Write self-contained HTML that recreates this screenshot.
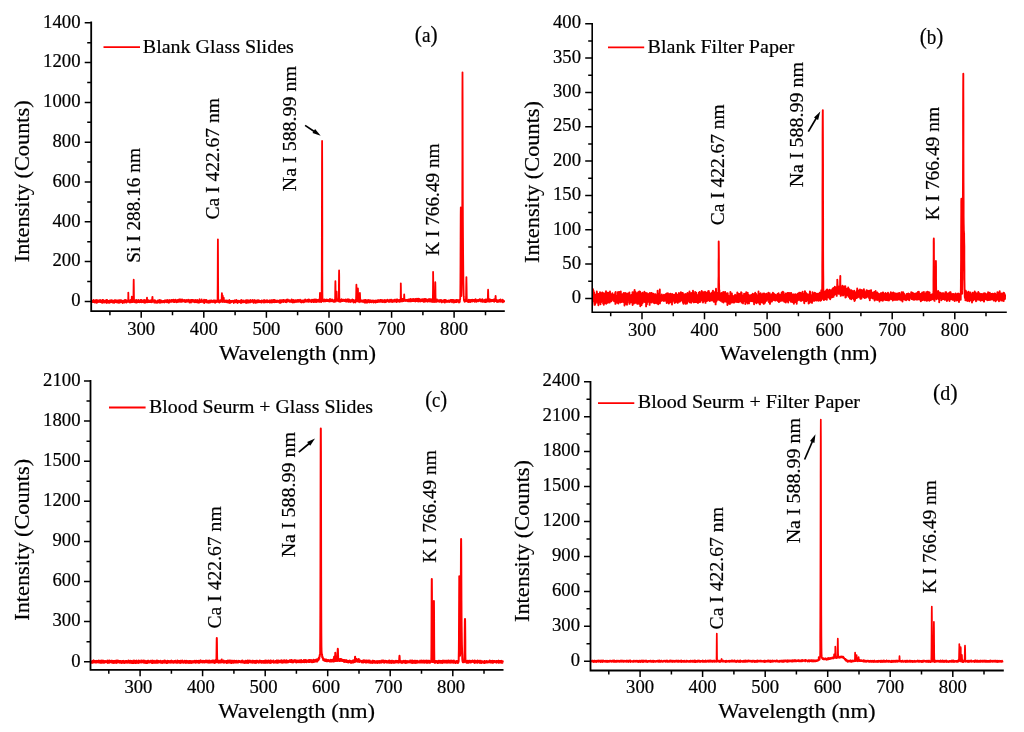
<!DOCTYPE html>
<html><head><meta charset="utf-8"><title>LIBS spectra</title>
<style>html,body{margin:0;padding:0;background:#fff;}svg{display:block;font-family:'Liberation Serif',serif;will-change:transform;}text{stroke:#000;stroke-width:0.2px;}</style>
</head><body>
<svg width="1024" height="732" viewBox="0 0 1024 732">
<rect width="1024" height="732" fill="#fff"/>
<g>
<polyline fill="none" stroke="#ff0000" stroke-width="1.8" stroke-linejoin="round" points="92,302.2 92.1,301.2 92.2,300.8 92.3,301.7 92.4,302.2 92.5,301.4 92.6,301.1 92.7,300.7 92.8,302.2 92.9,302.2 92.9,301 93,301.1 93.1,300.4 93.2,300.8 93.3,301.5 93.4,301.6 93.5,299.8 93.6,301.6 93.7,301.9 93.8,302.1 93.9,301.3 94,301.3 94.1,301.6 94.2,301.4 94.3,301.2 94.4,301 94.5,300.7 94.5,301.3 94.6,302.5 94.7,301 94.8,302.3 94.9,301.5 95,302.3 95.1,301.4 95.2,301.9 95.3,301.3 95.4,300.1 95.5,301.4 95.6,301.5 95.7,301.9 95.8,301.3 95.9,300.9 96,300.4 96,300.9 96.1,302.4 96.2,300.7 96.3,302.6 96.4,300.4 96.5,301.4 96.6,301.4 96.7,301 96.8,300 96.9,302.9 97,301.1 97.1,300.6 97.2,301 97.3,301.3 97.4,301.9 97.5,300.9 97.5,301.1 97.6,300.4 97.7,301.6 97.8,301 97.9,301.1 98,301.2 98.1,301.3 98.2,301.3 98.3,301.8 98.4,302 98.5,301.7 98.6,301 98.7,300.4 98.8,300.8 98.9,300.7 99,300.9 99.1,301 99.1,301.3 99.2,300.9 99.3,300.3 99.4,301.6 99.5,301.8 99.6,300.2 99.7,301.2 99.8,300.8 99.9,300.8 100,302.1 100.1,299.9 100.2,300.3 100.3,301.3 100.4,300.9 100.5,301.3 100.6,302 100.6,301.5 100.7,301.2 100.8,300.7 100.9,300.9 101,301.4 101.1,300.5 101.2,301.9 101.3,300.9 101.4,300.7 101.5,301.6 101.6,302.5 101.7,302 101.8,301.2 101.9,301.1 102,300.4 102.1,302 102.2,301.4 102.2,301 102.3,301.5 102.4,302.9 102.5,300.9 102.6,299.9 102.7,300.8 102.8,302 102.9,301.7 103,301.3 103.1,299.8 103.2,301 103.3,301.3 103.4,300.4 103.5,301.5 103.6,300.2 103.7,301.8 103.7,301.7 103.8,300.9 103.9,300.5 104,301 104.1,301.2 104.2,302.6 104.3,301.9 104.4,301.8 104.5,301.7 104.6,301 104.7,301.6 104.8,300.9 104.9,301.3 105,301.6 105.1,301.3 105.2,301.1 105.2,300.9 105.3,301.7 105.4,301.5 105.5,302.3 105.6,300.4 105.7,300.5 105.8,301.5 105.9,301.7 106,302.2 106.1,301.3 106.2,301.3 106.3,300 106.4,301.2 106.5,301.9 106.6,303 106.7,300.5 106.8,301.3 106.8,302.4 106.9,301.3 107,302.4 107.1,299.8 107.2,302.4 107.3,301.7 107.4,300.6 107.5,302 107.6,301.7 107.7,302.5 107.8,300.9 107.9,301.7 108,301.9 108.1,302.7 108.2,300.9 108.3,301.9 108.3,301.1 108.4,302.6 108.5,302.2 108.6,301.8 108.7,302 108.8,300.8 108.9,301.6 109,301.6 109.1,302.7 109.2,302.9 109.3,300.7 109.4,302.1 109.5,302.2 109.6,300.7 109.7,302 109.8,301.7 109.9,301.3 109.9,301.6 110,301.4 110.1,301.6 110.2,302 110.3,301.8 110.4,301.3 110.5,300.4 110.6,302.3 110.7,301.4 110.8,301 110.9,301.6 111,300.9 111.1,301.4 111.2,301.6 111.3,301.8 111.4,300.7 111.4,300.2 111.5,301.8 111.6,302 111.7,301 111.8,301.8 111.9,301.6 112,301.8 112.1,302.4 112.2,300.9 112.3,300.3 112.4,302.1 112.5,302 112.6,300.8 112.7,301.5 112.8,301.1 112.9,302.6 112.9,301.4 113,300.8 113.1,302.2 113.2,300.9 113.3,301.6 113.4,301.1 113.5,300.8 113.6,301.5 113.7,301 113.8,302.2 113.9,300.9 114,302 114.1,301.4 114.2,300.4 114.3,302.9 114.4,301.6 114.5,301.3 114.5,300.1 114.6,301.1 114.7,300.4 114.8,301.1 114.9,301.9 115,301.6 115.1,301.4 115.2,301.5 115.3,300.9 115.4,300.9 115.5,300.2 115.6,301.2 115.7,301.4 115.8,301.1 115.9,300.5 116,301.1 116,302.2 116.1,301.1 116.2,302 116.3,302.4 116.4,300.5 116.5,301.6 116.6,301.2 116.7,300.7 116.8,301.4 116.9,301.3 117,302.4 117.1,301.2 117.2,301.2 117.3,300.9 117.4,302 117.5,300.6 117.5,302.3 117.6,301.5 117.7,301.4 117.8,302 117.9,301 118,302.7 118.1,300.1 118.2,300.6 118.3,301.5 118.4,301.7 118.5,302.3 118.6,301.1 118.7,300.9 118.8,301.7 118.9,302.6 119,301.9 119.1,301 119.1,302.9 119.2,302.3 119.3,301.2 119.4,301.1 119.5,300.4 119.6,301 119.7,302.2 119.8,301.5 119.9,301.8 120,300 120.1,302.5 120.2,300.6 120.3,301.5 120.4,301.3 120.5,301.9 120.6,300.3 120.6,302.1 120.7,301.6 120.8,301.2 120.9,302.2 121,301.1 121.1,301.3 121.2,302.1 121.3,300.3 121.4,301.2 121.5,300.3 121.6,301 121.7,301.1 121.8,300.9 121.9,301.3 122,301.7 122.1,300.9 122.2,300.8 122.2,301.6 122.3,302.6 122.4,302 122.5,302.8 122.6,303 122.7,301.3 122.8,301 122.9,301.2 123,301.9 123.1,301.5 123.2,301.5 123.3,302.3 123.4,302.6 123.5,301.6 123.6,301.9 123.7,301.6 123.7,302.3 123.8,300.6 123.9,301 124,301.7 124.1,300.4 124.2,302.7 124.3,302.2 124.4,301.5 124.5,301.2 124.6,300.6 124.7,302.3 124.8,301.4 124.9,299.9 125,301.1 125.1,302.3 125.2,300.7 125.2,302.1 125.3,301.7 125.4,301.5 125.5,301.6 125.6,302 125.7,301.6 125.8,300 125.9,301.8 126,301.5 126.1,300.7 126.2,300.9 126.3,300.9 126.4,300.9 126.5,302.7 126.6,302 126.7,301.3 126.8,301.1 126.8,300.6 126.9,301.1 127,301.6 127.1,301.4 127.2,301.5 127.3,301.2 127.4,301 127.5,301.6 127.6,301.9 127.7,301.9 127.8,300.7 127.9,300.6 128,300.8 128.1,300.7 128.2,299.3 128.3,295.9 128.3,292.6 128.4,296.5 128.5,299.9 128.6,301.7 128.7,300.9 128.8,301.8 128.9,301.5 129,301.1 129.1,300.5 129.2,301.9 129.3,302 129.4,300.9 129.5,302.1 129.6,301.1 129.7,301.8 129.8,301.5 129.9,302.6 129.9,300.9 130,301.7 130.1,302 130.2,300.1 130.3,300.9 130.4,300.1 130.5,301.1 130.6,301 130.7,301.5 130.8,301.9 130.9,300.4 131,300.7 131.1,302.4 131.2,300.9 131.3,300.9 131.4,300.9 131.4,301.4 131.5,301.5 131.6,301 131.7,299.5 131.8,296.6 131.9,297.1 132,297.4 132.1,299.9 132.2,301.2 132.3,302.1 132.4,301.6 132.5,301.8 132.6,301.1 132.7,301.3 132.8,300.6 132.9,301.2 132.9,302.2 133,301.5 133.1,301.2 133.2,301.1 133.3,300.9 133.4,298.8 133.5,293.6 133.6,285.6 133.7,279.7 133.8,285.4 133.9,294.3 134,300.2 134.1,301.2 134.2,302 134.3,302.1 134.4,301.2 134.5,302.2 134.5,301 134.6,300.4 134.7,301.3 134.8,301.2 134.9,301.7 135,302.4 135.1,301.1 135.2,301.7 135.3,301.2 135.4,301 135.5,300.7 135.6,300.1 135.7,301.3 135.8,301.1 135.9,302.3 136,300.8 136,302.1 136.1,302.1 136.2,300.9 136.3,302.7 136.4,301.4 136.5,301.5 136.6,300 136.7,301.4 136.8,302.5 136.9,301.1 137,302 137.1,300.4 137.2,302.2 137.3,301.8 137.4,302.4 137.5,301.3 137.6,302 137.6,301.4 137.7,301.6 137.8,301.8 137.9,300.8 138,300.8 138.1,301.4 138.2,302 138.3,302.1 138.4,301.2 138.5,299.9 138.6,301.7 138.7,301.9 138.8,301.8 138.9,302.1 139,302 139.1,301.5 139.1,300.5 139.2,301.4 139.3,301.7 139.4,302.4 139.5,301.3 139.6,301.4 139.7,302.2 139.8,302.1 139.9,301.4 140,300.8 140.1,301 140.2,301.3 140.3,301.6 140.4,301.2 140.5,301.4 140.6,300 140.6,302.1 140.7,301.6 140.8,300.6 140.9,301.6 141,300.5 141.1,301.4 141.2,301.3 141.3,301.6 141.4,302.3 141.5,302 141.6,300 141.7,301 141.8,301 141.9,300.8 142,301 142.1,300.7 142.2,301.6 142.2,301.5 142.3,300.8 142.4,301.6 142.5,302.2 142.6,301.5 142.7,301.7 142.8,301 142.9,301.9 143,302.1 143.1,301.6 143.2,300.4 143.3,301.4 143.4,301.3 143.5,301.4 143.6,301.2 143.7,300.8 143.7,300.5 143.8,302.4 143.9,300.5 144,301.4 144.1,301.6 144.2,299.9 144.3,301.5 144.4,300.2 144.5,300.8 144.6,302.1 144.7,301.1 144.8,300.9 144.9,301.5 145,302.9 145.1,301.6 145.2,301.5 145.3,302.1 145.3,300.2 145.4,301.6 145.5,301.7 145.6,301.6 145.7,301.9 145.8,301.9 145.9,301.3 146,301.2 146.1,301.7 146.2,301.5 146.3,302.3 146.4,301.1 146.5,301.9 146.6,301.2 146.7,301.6 146.8,300.6 146.8,299.1 146.9,299.4 147,297.6 147.1,300.3 147.2,301.1 147.3,301.8 147.4,300.4 147.5,300.5 147.6,301.2 147.7,302.3 147.8,301.7 147.9,301 148,301.7 148.1,302.2 148.2,302.2 148.3,301.9 148.3,301.4 148.4,301.8 148.5,301.4 148.6,300.1 148.7,301.3 148.8,301.5 148.9,300.9 149,301.2 149.1,302.2 149.2,301 149.3,300.8 149.4,300.9 149.5,301.2 149.6,301.3 149.7,301.8 149.8,302.1 149.9,301.8 149.9,301.9 150,301.8 150.1,301.3 150.2,302 150.3,300.5 150.4,301.3 150.5,301.6 150.6,300.6 150.7,300.6 150.8,302.2 150.9,302.2 151,301.2 151.1,300.7 151.2,301.5 151.3,300.2 151.4,302 151.4,300.7 151.5,300.8 151.6,301.4 151.7,302.4 151.8,301.7 151.9,300.8 152,301.6 152.1,301 152.2,299.3 152.3,297.4 152.4,296.8 152.5,296.9 152.6,299.1 152.7,301.8 152.8,301.2 152.9,301.7 153,300.3 153,301 153.1,301.2 153.2,301.5 153.3,301.6 153.4,301.7 153.5,300.4 153.6,301.6 153.7,301.9 153.8,301 153.9,300.9 154,301.5 154.1,302 154.2,300.7 154.3,300.7 154.4,302.7 154.5,302 154.5,300.1 154.6,301.9 154.7,302.5 154.8,301 154.9,301.6 155,300.9 155.1,302.6 155.2,300.5 155.3,301 155.4,301.7 155.5,301.8 155.6,300.9 155.7,301.8 155.8,300.9 155.9,301.7 156,301.1 156,302.4 156.1,301.8 156.2,302.6 156.3,301.7 156.4,301.8 156.5,301.6 156.6,301.3 156.7,302.7 156.8,301.4 156.9,301.3 157,302.2 157.1,301.5 157.2,302.9 157.3,302.1 157.4,302.1 157.5,302.3 157.6,300.7 157.6,301.1 157.7,301.3 157.8,301.7 157.9,300.5 158,300.9 158.1,301.2 158.2,301.6 158.3,301.6 158.4,301.7 158.5,301.4 158.6,302.3 158.7,301.4 158.8,300.9 158.9,301.3 159,302.2 159.1,301.3 159.1,302 159.2,302.3 159.3,300 159.4,301.7 159.5,302 159.6,302.4 159.7,301.6 159.8,301.8 159.9,302.8 160,302.4 160.1,300.8 160.2,302 160.3,302.5 160.4,301 160.5,302.5 160.6,300.2 160.6,302.4 160.7,301.9 160.8,302 160.9,301.7 161,302.5 161.1,302 161.2,301.1 161.3,300.8 161.4,300.6 161.5,300.8 161.6,301.4 161.7,301.2 161.8,301 161.9,301.9 162,301.1 162.1,301.2 162.2,301.4 162.2,301.5 162.3,301.1 162.4,302 162.5,302.3 162.6,301.3 162.7,301.2 162.8,302.2 162.9,301.2 163,301.2 163.1,301.5 163.2,301.1 163.3,301.1 163.4,301.3 163.5,300.9 163.6,301.5 163.7,302.2 163.7,301.3 163.8,301 163.9,301.4 164,301 164.1,301.3 164.2,301.9 164.3,302.5 164.4,301.7 164.5,301.8 164.6,301.3 164.7,300.3 164.8,302.3 164.9,301.8 165,300.7 165.1,300.6 165.2,301.5 165.3,301.3 165.3,301.1 165.4,300.3 165.5,301.7 165.6,301.9 165.7,300.8 165.8,301.8 165.9,301.4 166,300.4 166.1,301.4 166.2,301.3 166.3,301.2 166.4,301.9 166.5,301.2 166.6,301 166.7,302.3 166.8,301.6 166.8,301.5 166.9,301 167,300.8 167.1,301.4 167.2,300 167.3,302.2 167.4,301.4 167.5,300.8 167.6,301.3 167.7,301.7 167.8,301.4 167.9,301.3 168,301.3 168.1,300.8 168.2,302.4 168.3,301.2 168.3,301.5 168.4,301.4 168.5,300.3 168.6,300.7 168.7,300.9 168.8,302.8 168.9,301 169,302.3 169.1,301.9 169.2,301.6 169.3,300.2 169.4,302.5 169.5,300.5 169.6,300.2 169.7,300.6 169.8,301 169.9,300.5 169.9,301.6 170,301.3 170.1,301 170.2,301.7 170.3,301.3 170.4,301 170.5,301.5 170.6,300.5 170.7,301.3 170.8,301.8 170.9,301.3 171,301.5 171.1,301.7 171.2,300.7 171.3,300 171.4,301.4 171.4,301.2 171.5,301.2 171.6,301.9 171.7,300.5 171.8,301.1 171.9,300.3 172,301.2 172.1,301.1 172.2,300 172.3,301.2 172.4,300.9 172.5,300.3 172.6,301.3 172.7,300.5 172.8,301.6 172.9,301.2 173,301.4 173,300.6 173.1,301.3 173.2,301.5 173.3,300.8 173.4,300.1 173.5,301.8 173.6,299.7 173.7,302 173.8,301.5 173.9,301.6 174,300 174.1,300.8 174.2,300.9 174.3,300.2 174.4,300.5 174.5,301.1 174.5,301.4 174.6,302 174.7,300.3 174.8,301.2 174.9,301.2 175,301 175.1,300.6 175.2,300.5 175.3,300.5 175.4,299.7 175.5,300.4 175.6,301.7 175.7,300.6 175.8,301.6 175.9,301.8 176,300.7 176,301.5 176.1,301.3 176.2,300.4 176.3,300.3 176.4,300.9 176.5,301.5 176.6,302.3 176.7,301.4 176.8,301.7 176.9,300.4 177,300.8 177.1,301.4 177.2,300.1 177.3,300.4 177.4,300.5 177.5,302 177.6,301 177.6,300.5 177.7,301.7 177.8,300.3 177.9,300 178,300.2 178.1,301.3 178.2,301.3 178.3,300.3 178.4,300.2 178.5,300.1 178.6,300.1 178.7,300.9 178.8,301.1 178.9,302 179,300.3 179.1,299.4 179.1,301.1 179.2,301.1 179.3,300.4 179.4,300.6 179.5,301.7 179.6,301.3 179.7,301.5 179.8,299.5 179.9,301.3 180,300.3 180.1,299.6 180.2,299.6 180.3,299.9 180.4,299.8 180.5,301.6 180.6,301 180.7,301.3 180.7,301 180.8,299.5 180.9,301.9 181,301.1 181.1,301 181.2,300.6 181.3,301.3 181.4,300.4 181.5,301.1 181.6,301.9 181.7,301.3 181.8,300.5 181.9,300.1 182,300.7 182.1,300.7 182.2,300 182.2,299.5 182.3,301.1 182.4,301.3 182.5,301.3 182.6,301.7 182.7,301.4 182.8,300.2 182.9,300.8 183,300.9 183.1,300.6 183.2,300.1 183.3,300.4 183.4,300.3 183.5,301.2 183.6,301 183.7,301.3 183.7,300.9 183.8,301.3 183.9,301.1 184,300.9 184.1,301 184.2,301 184.3,301.1 184.4,300 184.5,301.1 184.6,301.5 184.7,300.7 184.8,301.5 184.9,301.5 185,300.8 185.1,301.9 185.2,302.2 185.3,300.7 185.3,300.5 185.4,301.4 185.5,301.6 185.6,300.5 185.7,300.2 185.8,301.3 185.9,301.6 186,301 186.1,300.4 186.2,301.2 186.3,299.9 186.4,300.6 186.5,300.1 186.6,301.5 186.7,301.8 186.8,301.5 186.8,301.2 186.9,300.1 187,300.6 187.1,300.8 187.2,301.6 187.3,300.7 187.4,301.1 187.5,300.8 187.6,301.2 187.7,301.7 187.8,300.9 187.9,300.4 188,301.3 188.1,300.7 188.2,299.7 188.3,300.4 188.4,300.1 188.4,301.2 188.5,300.6 188.6,301.5 188.7,300.9 188.8,301.4 188.9,301 189,301.8 189.1,300.8 189.2,301.2 189.3,300.9 189.4,301.4 189.5,302.6 189.6,301.4 189.7,300.6 189.8,301.1 189.9,301.2 189.9,300.5 190,299.8 190.1,300.6 190.2,300.8 190.3,301.7 190.4,301.6 190.5,300.4 190.6,300.9 190.7,301.1 190.8,300.7 190.9,301.4 191,302.6 191.1,301.1 191.2,300.4 191.3,301.2 191.4,301 191.4,300.6 191.5,299.9 191.6,301.8 191.7,300.7 191.8,300 191.9,301.6 192,300.6 192.1,300.5 192.2,300 192.3,300.7 192.4,301.2 192.5,301.5 192.6,301.5 192.7,301 192.8,301.3 192.9,300.4 193,300.6 193,301.7 193.1,299.9 193.2,300.5 193.3,301.9 193.4,300.6 193.5,300.5 193.6,300.6 193.7,301.5 193.8,300.8 193.9,301 194,301.6 194.1,300.3 194.2,301.1 194.3,300.9 194.4,301.2 194.5,300.3 194.5,301.1 194.6,301.9 194.7,302 194.8,302.4 194.9,301.7 195,301.5 195.1,301.7 195.2,299.9 195.3,301.5 195.4,301.7 195.5,301.5 195.6,301.5 195.7,300.6 195.8,301.4 195.9,302.1 196,301.4 196.1,300.5 196.1,301.1 196.2,301.4 196.3,300.8 196.4,301.2 196.5,301.6 196.6,301.5 196.7,300.3 196.8,301.3 196.9,300.8 197,301.7 197.1,301.4 197.2,299.8 197.3,302.5 197.4,300.6 197.5,301.2 197.6,301.3 197.6,302 197.7,300.7 197.8,301.7 197.9,301 198,300.6 198.1,301.7 198.2,301.8 198.3,302 198.4,302.3 198.5,302.1 198.6,301.4 198.7,300.8 198.8,302.2 198.9,302.9 199,301.6 199.1,300.8 199.1,300.4 199.2,300.9 199.3,300.6 199.4,300.9 199.5,299.4 199.6,299.2 199.7,301.2 199.8,300.9 199.9,301.8 200,301.8 200.1,301.3 200.2,302 200.3,301.7 200.4,300.5 200.5,301.2 200.6,301.6 200.7,302.2 200.7,301.1 200.8,301.7 200.9,301.3 201,301.3 201.1,302.1 201.2,301.4 201.3,301.8 201.4,301.2 201.5,301.3 201.6,301.3 201.7,299.5 201.8,300 201.9,301.3 202,301.3 202.1,301.3 202.2,301 202.2,301.5 202.3,301.2 202.4,301.7 202.5,300.6 202.6,301.9 202.7,301.5 202.8,301.6 202.9,301.5 203,301.2 203.1,301.7 203.2,301.4 203.3,301 203.4,301.8 203.5,302.5 203.6,301.3 203.7,301.6 203.8,301.9 203.8,301.1 203.9,301 204,299.7 204.1,300.7 204.2,301.2 204.3,301.3 204.4,303 204.5,302.4 204.6,301.1 204.7,300.9 204.8,301.3 204.9,301.1 205,301.6 205.1,301.8 205.2,301.1 205.3,301.6 205.3,301.3 205.4,300 205.5,300.9 205.6,301.4 205.7,301.9 205.8,301.4 205.9,300.6 206,301.4 206.1,300.7 206.2,300.8 206.3,301.6 206.4,302.3 206.5,299.9 206.6,301.5 206.7,301.5 206.8,302.2 206.8,300.9 206.9,300.9 207,301.2 207.1,301.8 207.2,302.6 207.3,302.5 207.4,302.1 207.5,302 207.6,301.3 207.7,301.1 207.8,301.9 207.9,301.3 208,301.8 208.1,301.6 208.2,301.1 208.3,301.8 208.4,301.5 208.4,301.3 208.5,301 208.6,301.9 208.7,301.3 208.8,302.8 208.9,300.7 209,301.1 209.1,301.7 209.2,301.6 209.3,301.2 209.4,301.6 209.5,302 209.6,301.4 209.7,301.3 209.8,301.2 209.9,300.9 209.9,302.5 210,300.5 210.1,301.5 210.2,301.9 210.3,301.6 210.4,301.1 210.5,300.8 210.6,301.6 210.7,301.3 210.8,302.4 210.9,301.3 211,301.5 211.1,301.7 211.2,300.8 211.3,300.3 211.4,300.7 211.4,301.9 211.5,300.4 211.6,301.6 211.7,301.4 211.8,301.8 211.9,301.1 212,301 212.1,301.3 212.2,301.5 212.3,301.5 212.4,301.7 212.5,300.8 212.6,301.7 212.7,301.5 212.8,301.5 212.9,301.9 213,301.5 213,302.3 213.1,301.1 213.2,301.1 213.3,301.6 213.4,300.4 213.5,301.9 213.6,301 213.7,301.1 213.8,301.7 213.9,301.6 214,300.8 214.1,301.4 214.2,301.2 214.3,300.5 214.4,301.3 214.5,302.5 214.5,301.9 214.6,300.9 214.7,301.5 214.8,302.1 214.9,302.7 215,301.2 215.1,300.4 215.2,302.2 215.3,302.8 215.4,301.1 215.5,301.7 215.6,301.6 215.7,301.6 215.8,302 215.9,301.1 216,300.8 216.1,301.2 216.1,301.8 216.2,300.7 216.3,301.5 216.4,301 216.5,302 216.6,301 216.7,300.9 216.8,300.6 216.9,301.4 217,301.1 217.1,301.8 217.2,300.8 217.3,300.9 217.4,300.7 217.5,301.6 217.6,301.7 217.6,297.4 217.7,283.2 217.8,256.3 217.9,239.3 218,255.3 218.1,282.8 218.2,296.7 218.3,300.7 218.4,302 218.5,301.8 218.6,301.6 218.7,301 218.8,300.8 218.9,301.3 219,300.8 219.1,301.9 219.1,301.5 219.2,300.5 219.3,301.1 219.4,300.7 219.5,302.6 219.6,302.4 219.7,301.9 219.8,300.8 219.9,300.4 220,301.8 220.1,302 220.2,302 220.3,302 220.4,301 220.5,301.6 220.6,300.2 220.7,300.9 220.7,301.8 220.8,301.3 220.9,301.5 221,300.9 221.1,300.8 221.2,301.6 221.3,300.8 221.4,301 221.5,301.4 221.6,300.7 221.7,298.4 221.8,295.1 221.9,293.1 222,294.1 222.1,298.8 222.2,301.2 222.2,301 222.3,302 222.4,300.1 222.5,299 222.6,296 222.7,295.7 222.8,296.2 222.9,297.6 223,300.2 223.1,301.8 223.2,300.2 223.3,301.8 223.4,300.4 223.5,301.3 223.6,301.1 223.7,297.7 223.8,298.5 223.8,298.4 223.9,299.4 224,301.8 224.1,301.3 224.2,301.7 224.3,301 224.4,301.4 224.5,302.2 224.6,301.4 224.7,300.9 224.8,301.6 224.9,301 225,301.7 225.1,301.4 225.2,301.2 225.3,301.3 225.3,300.6 225.4,300.8 225.5,300.9 225.6,300.9 225.7,301.3 225.8,302.1 225.9,300.7 226,300.3 226.1,301.3 226.2,301.6 226.3,301.4 226.4,300.6 226.5,301.2 226.6,302 226.7,301.5 226.8,301.9 226.8,301.5 226.9,302 227,301.9 227.1,300.5 227.2,300.7 227.3,302.4 227.4,302 227.5,301.7 227.6,301.6 227.7,302.3 227.8,300.8 227.9,302.4 228,301 228.1,301 228.2,301.6 228.3,301.8 228.4,301.4 228.4,301.3 228.5,302.7 228.6,302.2 228.7,301.1 228.8,301.5 228.9,301.7 229,302 229.1,301.8 229.2,301.9 229.3,299.8 229.4,302.2 229.5,301.5 229.6,301.7 229.7,300.9 229.8,301.3 229.9,301.6 229.9,303 230,301.5 230.1,301.3 230.2,302.1 230.3,301.6 230.4,301.8 230.5,301 230.6,301 230.7,302.6 230.8,301.5 230.9,300.8 231,302.2 231.1,302.1 231.2,300.8 231.3,301.5 231.4,301.7 231.5,302.2 231.5,301.3 231.6,301.7 231.7,301.3 231.8,301.1 231.9,301 232,301.6 232.1,301.7 232.2,301.4 232.3,301.5 232.4,301.3 232.5,301.7 232.6,301.5 232.7,301.8 232.8,301.8 232.9,301.3 233,300.7 233,301.7 233.1,301 233.2,301.2 233.3,301.3 233.4,301 233.5,301.7 233.6,301 233.7,301.2 233.8,303 233.9,301.2 234,300.9 234.1,301.9 234.2,302.4 234.3,300.8 234.4,301.6 234.5,301.3 234.5,302.3 234.6,301.7 234.7,301.8 234.8,301.8 234.9,300.2 235,301.9 235.1,300.7 235.2,301.4 235.3,300.9 235.4,302.3 235.5,301.3 235.6,301.3 235.7,301.2 235.8,301.1 235.9,300.9 236,301.1 236.1,301.4 236.1,301.9 236.2,301.5 236.3,301.4 236.4,301 236.5,299.8 236.6,300.6 236.7,301.3 236.8,301 236.9,302.4 237,301.5 237.1,302 237.2,301 237.3,302.5 237.4,301.2 237.5,303 237.6,300.8 237.6,301.6 237.7,301.5 237.8,301.9 237.9,301.3 238,301.5 238.1,301.8 238.2,301.6 238.3,301.9 238.4,301 238.5,302 238.6,302.4 238.7,302 238.8,300.7 238.9,301.7 239,301 239.1,300.9 239.2,301.7 239.2,300.9 239.3,301.1 239.4,301.4 239.5,301.8 239.6,301.4 239.7,302.2 239.8,301.6 239.9,301.8 240,301.1 240.1,301.2 240.2,301.8 240.3,300.9 240.4,300.6 240.5,301.4 240.6,301.9 240.7,301.1 240.7,302.9 240.8,301.8 240.9,301 241,300.1 241.1,301.9 241.2,300.4 241.3,299.9 241.4,300.2 241.5,302.9 241.6,300.7 241.7,301.3 241.8,300.8 241.9,301.5 242,301.8 242.1,301.5 242.2,300.5 242.2,300.9 242.3,301.6 242.4,301.2 242.5,300.9 242.6,301 242.7,301.4 242.8,301.8 242.9,301.9 243,301.7 243.1,301.7 243.2,302.4 243.3,302.3 243.4,300.8 243.5,302.1 243.6,302.2 243.7,301.4 243.8,300.5 243.8,300.6 243.9,301.7 244,302.1 244.1,301.7 244.2,302 244.3,301.7 244.4,301.1 244.5,302.1 244.6,301.9 244.7,301.6 244.8,301.4 244.9,301.9 245,301.9 245.1,302.1 245.2,301.9 245.3,301.1 245.3,301.6 245.4,302.8 245.5,301 245.6,301.8 245.7,300.4 245.8,300.8 245.9,301.4 246,301.2 246.1,301.6 246.2,300.7 246.3,301.4 246.4,301.3 246.5,300.2 246.6,302.3 246.7,302.6 246.8,300.9 246.9,302.4 246.9,303 247,301.5 247.1,300.7 247.2,302.1 247.3,301.4 247.4,300.2 247.5,302.2 247.6,301.2 247.7,301.1 247.8,301.7 247.9,301.6 248,300.5 248.1,300.7 248.2,301 248.3,301.2 248.4,302.1 248.4,301.3 248.5,300.3 248.6,300.7 248.7,302.3 248.8,302.7 248.9,301.8 249,301.3 249.1,301.7 249.2,301.6 249.3,301.2 249.4,300.8 249.5,301.3 249.6,300.6 249.7,302.3 249.8,301.1 249.9,301.1 249.9,302.3 250,300.6 250.1,302.4 250.2,302.3 250.3,299.8 250.4,300.6 250.5,302.3 250.6,302.3 250.7,301.5 250.8,301.8 250.9,301.7 251,302 251.1,300.8 251.2,301.3 251.3,301.8 251.4,300.6 251.5,301.6 251.5,300.5 251.6,301.5 251.7,301.8 251.8,300.7 251.9,300.7 252,301.7 252.1,301.3 252.2,300.3 252.3,300.4 252.4,301.9 252.5,301.8 252.6,300.7 252.7,300 252.8,301.5 252.9,302 253,301.6 253,300.8 253.1,300.9 253.2,300.7 253.3,302.4 253.4,300.9 253.5,302 253.6,301 253.7,302.9 253.8,301.5 253.9,302 254,300.6 254.1,301.3 254.2,300.6 254.3,301.7 254.4,300.1 254.5,301.7 254.5,300.2 254.6,301.7 254.7,302 254.8,300.8 254.9,301.7 255,301.4 255.1,302.3 255.2,301.6 255.3,301.3 255.4,301.9 255.5,301.1 255.6,302.9 255.7,300.8 255.8,301.7 255.9,300.5 256,301.6 256.1,301.8 256.1,301.7 256.2,301.2 256.3,301 256.4,301.7 256.5,301.9 256.6,301.1 256.7,300.9 256.8,302.5 256.9,302.1 257,301.8 257.1,300.3 257.2,300.6 257.3,300.9 257.4,301.1 257.5,302.1 257.6,300.7 257.6,301.7 257.7,301.9 257.8,300.1 257.9,302.3 258,300.5 258.1,301.3 258.2,302 258.3,301.3 258.4,301.9 258.5,301.3 258.6,301.8 258.7,302.2 258.8,300.1 258.9,301.7 259,302.3 259.1,300.7 259.2,302 259.2,302.2 259.3,301.2 259.4,301.4 259.5,302 259.6,301.2 259.7,301.6 259.8,301.8 259.9,301 260,301.4 260.1,301.6 260.2,301.1 260.3,302.2 260.4,300.8 260.5,301.1 260.6,301.2 260.7,301.9 260.7,302.1 260.8,301.4 260.9,301.9 261,301 261.1,302.4 261.2,301.3 261.3,301.7 261.4,301.5 261.5,301.4 261.6,300.4 261.7,302.6 261.8,301.3 261.9,301.5 262,301.9 262.1,300.8 262.2,301.7 262.2,301.5 262.3,301.3 262.4,301.9 262.5,301.7 262.6,301.4 262.7,301.7 262.8,301.5 262.9,300.7 263,301 263.1,301.7 263.2,300.3 263.3,301.4 263.4,300.7 263.5,301 263.6,301.2 263.7,302.2 263.8,301.1 263.8,302.6 263.9,301.1 264,300.4 264.1,300.6 264.2,300.4 264.3,300 264.4,302 264.5,301.5 264.6,302.4 264.7,302.2 264.8,300.7 264.9,301.5 265,301 265.1,301.4 265.2,301 265.3,302.3 265.3,301.5 265.4,301.7 265.5,301.5 265.6,301.4 265.7,301 265.8,301 265.9,300.5 266,301.6 266.1,301.3 266.2,301.5 266.3,301.6 266.4,301.3 266.5,301.4 266.6,301.1 266.7,300.9 266.8,301.7 266.9,302.3 266.9,301.3 267,300.2 267.1,302.4 267.2,302.1 267.3,301.7 267.4,300.9 267.5,301.7 267.6,301.7 267.7,300.4 267.8,301.4 267.9,300.8 268,302 268.1,301.1 268.2,301.8 268.3,300.8 268.4,301.6 268.4,301.3 268.5,301.3 268.6,301.6 268.7,302.2 268.8,301.5 268.9,301.7 269,301.1 269.1,300.9 269.2,301 269.3,301.7 269.4,300.7 269.5,301.2 269.6,300.3 269.7,301.5 269.8,301.4 269.9,302.7 269.9,300.4 270,300.5 270.1,301.3 270.2,300.8 270.3,301.5 270.4,301.9 270.5,301.7 270.6,301.6 270.7,300.5 270.8,301.8 270.9,301.7 271,302.1 271.1,301.3 271.2,301.4 271.3,301.6 271.4,301 271.5,301.1 271.5,301.5 271.6,300.2 271.7,302.5 271.8,300.8 271.9,301.8 272,301 272.1,301.5 272.2,301.6 272.3,300.2 272.4,301.5 272.5,301.6 272.6,300.9 272.7,300.9 272.8,302.4 272.9,301.5 273,301.5 273,301.3 273.1,301.5 273.2,301.9 273.3,301.9 273.4,300.5 273.5,301.7 273.6,299.9 273.7,301.1 273.8,301.3 273.9,302.2 274,300.3 274.1,301.3 274.2,302.2 274.3,300.9 274.4,299.9 274.5,301.5 274.6,300.3 274.6,300.8 274.7,302.3 274.8,300.9 274.9,301.8 275,300.8 275.1,301.6 275.2,301.2 275.3,301.8 275.4,300.4 275.5,301 275.6,301.2 275.7,300.8 275.8,302.1 275.9,301.6 276,301.4 276.1,300.9 276.1,300.9 276.2,300.5 276.3,301.5 276.4,300.9 276.5,301.5 276.6,302 276.7,300.9 276.8,301.1 276.9,301.6 277,300.8 277.1,301.8 277.2,300.6 277.3,301.2 277.4,302 277.5,300.6 277.6,300.6 277.6,301.6 277.7,301.5 277.8,301.9 277.9,301.2 278,301.6 278.1,301.3 278.2,301.7 278.3,301.6 278.4,301.5 278.5,301.5 278.6,301 278.7,301.8 278.8,300.6 278.9,301.9 279,301.3 279.1,302.4 279.2,301.8 279.2,301.8 279.3,300.6 279.4,302.8 279.5,301 279.6,301.4 279.7,301.7 279.8,301.3 279.9,300.2 280,301.7 280.1,301.5 280.2,300.2 280.3,300.8 280.4,302 280.5,300.5 280.6,302 280.7,300.9 280.7,302.9 280.8,301.9 280.9,300.6 281,301.6 281.1,301.7 281.2,301.2 281.3,301.2 281.4,301.5 281.5,301.7 281.6,300.1 281.7,300.3 281.8,301 281.9,302 282,301.5 282.1,301.4 282.2,300.9 282.3,300.2 282.3,301.5 282.4,301.1 282.5,301.5 282.6,301.1 282.7,301.6 282.8,301 282.9,300.4 283,301.4 283.1,301.4 283.2,301.1 283.3,302 283.4,300 283.5,302 283.6,301.4 283.7,301.7 283.8,300.2 283.8,301.5 283.9,301.5 284,300 284.1,301.2 284.2,301.7 284.3,301.2 284.4,301 284.5,301.6 284.6,301.3 284.7,301.3 284.8,300.7 284.9,300.7 285,300.6 285.1,301.2 285.2,300.6 285.3,301.3 285.3,300.4 285.4,300.9 285.5,301.4 285.6,300.3 285.7,302.1 285.8,301.8 285.9,301.6 286,301.2 286.1,301.9 286.2,301.9 286.3,302.3 286.4,301 286.5,301.6 286.6,299.7 286.7,300.6 286.8,301.8 286.9,300.3 286.9,301 287,300.4 287.1,301.8 287.2,300.4 287.3,300.4 287.4,301.4 287.5,301.6 287.6,301.3 287.7,300.9 287.8,299.5 287.9,299.9 288,300.1 288.1,301.2 288.2,301.3 288.3,300.8 288.4,301.3 288.4,301.4 288.5,301.2 288.6,300.5 288.7,301.1 288.8,300.9 288.9,301.2 289,301.2 289.1,301.3 289.2,300.3 289.3,300.9 289.4,300.1 289.5,301.2 289.6,300.4 289.7,301.9 289.8,301.3 289.9,301.1 290,301.5 290,301.1 290.1,301.6 290.2,301.1 290.3,301.5 290.4,301 290.5,301.2 290.6,301.7 290.7,301.3 290.8,301 290.9,301.8 291,301 291.1,300.2 291.2,301.2 291.3,300.7 291.4,300.6 291.5,301.5 291.5,300.2 291.6,299.4 291.7,301.7 291.8,299.6 291.9,301.5 292,300.1 292.1,302.2 292.2,300.3 292.3,300.9 292.4,301.8 292.5,301.5 292.6,301.7 292.7,301.6 292.8,300.8 292.9,301.1 293,302.6 293,301.2 293.1,300.7 293.2,300.9 293.3,299.9 293.4,302.2 293.5,300.8 293.6,301 293.7,300.5 293.8,301.8 293.9,301.8 294,301.1 294.1,300.9 294.2,302.1 294.3,300.7 294.4,301 294.5,300.5 294.6,302.3 294.6,301.5 294.7,300.7 294.8,301 294.9,300.9 295,300.9 295.1,301.5 295.2,301.6 295.3,301.4 295.4,301.5 295.5,300.1 295.6,301.4 295.7,300.8 295.8,300.7 295.9,301.2 296,300.7 296.1,300.6 296.1,302.1 296.2,300.8 296.3,301.2 296.4,300.6 296.5,301.2 296.6,301.4 296.7,301.4 296.8,301 296.9,300.7 297,301.2 297.1,300.9 297.2,300.4 297.3,301.4 297.4,300 297.5,301.5 297.6,301.9 297.6,301.2 297.7,301 297.8,300.9 297.9,301.4 298,300.8 298.1,300.3 298.2,300.3 298.3,301 298.4,301.8 298.5,299.8 298.6,300.3 298.7,301 298.8,300.2 298.9,300.1 299,300.8 299.1,301.5 299.2,300.8 299.2,301.5 299.3,301.1 299.4,300.1 299.5,301 299.6,301.7 299.7,300.9 299.8,301 299.9,301.6 300,300.9 300.1,299.6 300.2,300.4 300.3,300.7 300.4,300.6 300.5,299.8 300.6,302 300.7,300.4 300.7,301.2 300.8,300.6 300.9,301.1 301,301.3 301.1,302.4 301.2,300.8 301.3,300.6 301.4,301.5 301.5,302.1 301.6,301.2 301.7,302.5 301.8,301.5 301.9,300.7 302,300.6 302.1,300.6 302.2,300.7 302.3,301 302.3,300.7 302.4,300.4 302.5,300.4 302.6,300.8 302.7,300.8 302.8,300.6 302.9,301.7 303,301.1 303.1,301.9 303.2,301.4 303.3,302.4 303.4,301.2 303.5,300.5 303.6,300.7 303.7,300.4 303.8,300.7 303.8,300.8 303.9,302.4 304,301.3 304.1,300.9 304.2,301.3 304.3,300.2 304.4,301.2 304.5,299.8 304.6,300.2 304.7,301 304.8,301.9 304.9,301.7 305,301.3 305.1,300.8 305.2,299.3 305.3,301.5 305.3,299.8 305.4,300.7 305.5,301.1 305.6,300.8 305.7,300.7 305.8,300.6 305.9,300.9 306,301.3 306.1,300.5 306.2,300.9 306.3,300.7 306.4,301.6 306.5,301.3 306.6,301.5 306.7,300.9 306.8,300.8 306.9,301 306.9,300.7 307,301 307.1,300 307.2,301.4 307.3,300.4 307.4,301.3 307.5,301.3 307.6,301.7 307.7,299.9 307.8,301.5 307.9,301.2 308,301.6 308.1,301.1 308.2,301.6 308.3,299.7 308.4,300.7 308.4,299.4 308.5,300.1 308.6,301.9 308.7,300.5 308.8,300.2 308.9,300.4 309,300.9 309.1,300.4 309.2,300 309.3,300.8 309.4,300 309.5,300 309.6,299.6 309.7,300.9 309.8,300.6 309.9,301.1 310,301.4 310,301.6 310.1,301.2 310.2,300.2 310.3,301.2 310.4,300.9 310.5,300.9 310.6,301.4 310.7,300.9 310.8,301.7 310.9,301.3 311,301.1 311.1,300.8 311.2,301.6 311.3,300.9 311.4,301.9 311.5,302.2 311.5,301 311.6,300.2 311.7,299.9 311.8,300.3 311.9,300.7 312,299.7 312.1,300.7 312.2,301.3 312.3,300.2 312.4,301.3 312.5,301.6 312.6,300.5 312.7,300.2 312.8,301.1 312.9,301.4 313,300.8 313,300.4 313.1,301.5 313.2,301.1 313.3,300.5 313.4,300.6 313.5,299.7 313.6,300.3 313.7,302.1 313.8,301.3 313.9,301.9 314,301.1 314.1,302 314.2,300.7 314.3,301.2 314.4,300.6 314.5,301.3 314.6,300.8 314.6,299.4 314.7,300.1 314.8,300.7 314.9,301.4 315,299.9 315.1,301.9 315.2,301.7 315.3,300 315.4,301.2 315.5,299.9 315.6,300.4 315.7,299.4 315.8,299.7 315.9,300.4 316,301.2 316.1,300.4 316.1,299.9 316.2,300.7 316.3,302.2 316.4,300.1 316.5,300.1 316.6,299.6 316.7,300.3 316.8,300.6 316.9,301.9 317,300.2 317.1,301.4 317.2,299.9 317.3,301.1 317.4,301.4 317.5,300.7 317.6,300.8 317.7,300.6 317.7,300.2 317.8,299.8 317.9,300.6 318,299.8 318.1,300.6 318.2,301.7 318.3,301.3 318.4,300.8 318.5,300.8 318.6,300.3 318.7,301.3 318.8,301.5 318.9,300.2 319,300.9 319.1,299.5 319.2,301.3 319.2,301.1 319.3,299.2 319.4,301.9 319.5,301.8 319.6,300.6 319.7,300.8 319.8,298.5 319.9,294.1 320,292.9 320.1,294.8 320.2,297.8 320.3,300.8 320.4,301.7 320.5,300.5 320.6,300.7 320.7,300.3 320.7,301.1 320.8,300.9 320.9,300.8 321,300.5 321.1,300.1 321.2,300.5 321.3,302.2 321.4,300.9 321.5,300.9 321.6,299.5 321.7,292.6 321.8,269.9 321.9,225.9 322,167.9 322.1,141 322.2,167.7 322.3,224.7 322.3,271.1 322.4,293.1 322.5,299.3 322.6,299.1 322.7,301.1 322.8,300.6 322.9,299.8 323,299.8 323.1,300.6 323.2,300.2 323.3,299.6 323.4,300.3 323.5,300.5 323.6,301.1 323.7,300.8 323.8,300.8 323.8,301.6 323.9,301 324,299.6 324.1,301.2 324.2,301.4 324.3,301.2 324.4,300.4 324.5,300 324.6,300.1 324.7,299.3 324.8,300.9 324.9,300.3 325,300.5 325.1,300.7 325.2,299.6 325.3,300.9 325.4,300.4 325.4,301.3 325.5,300.2 325.6,300.6 325.7,301.2 325.8,301.1 325.9,301.3 326,300.7 326.1,300.7 326.2,300.6 326.3,300.8 326.4,299.8 326.5,300.3 326.6,300.3 326.7,300.5 326.8,301.1 326.9,300.1 326.9,299.3 327,299.5 327.1,300.1 327.2,301.1 327.3,301 327.4,300.8 327.5,300.2 327.6,300.5 327.7,300.6 327.8,300.1 327.9,300 328,301.1 328.1,301 328.2,300.1 328.3,300.1 328.4,300.8 328.4,300.2 328.5,301.4 328.6,301 328.7,300.3 328.8,301.1 328.9,300.2 329,300.8 329.1,299.6 329.2,300.9 329.3,300.2 329.4,300.4 329.5,301.1 329.6,301.7 329.7,300.2 329.8,301 329.9,300.3 330,299 330,301.5 330.1,300.3 330.2,301.1 330.3,300.9 330.4,301.4 330.5,300.7 330.6,299.5 330.7,299.5 330.8,300.7 330.9,300.8 331,301 331.1,300.7 331.2,300.8 331.3,300.3 331.4,301.2 331.5,299.8 331.5,300.5 331.6,300.4 331.7,300.5 331.8,301.4 331.9,299.9 332,300.5 332.1,299.5 332.2,300.3 332.3,299.8 332.4,300 332.5,300.4 332.6,300.2 332.7,300.5 332.8,301.4 332.9,301 333,300.1 333.1,300.9 333.1,301.3 333.2,300.9 333.3,300.3 333.4,301.5 333.5,300.8 333.6,300.6 333.7,300.6 333.8,301.2 333.9,302 334,300.9 334.1,300.3 334.2,301 334.3,300.6 334.4,301.9 334.5,300.5 334.6,299.6 334.6,301.1 334.7,300.5 334.8,300 334.9,299.6 335,299.5 335.1,299.7 335.2,294.9 335.3,284.9 335.4,281.2 335.5,285.8 335.6,295.2 335.7,299.6 335.8,301.7 335.9,300.8 336,299.8 336.1,300.6 336.1,300.4 336.2,300.6 336.3,300.5 336.4,297.6 336.5,294.3 336.6,291.6 336.7,294.2 336.8,298.2 336.9,300.7 337,299.8 337.1,299.8 337.2,300.3 337.3,300.6 337.4,300.7 337.5,300.9 337.6,299.2 337.7,300 337.7,300.6 337.8,300.3 337.9,300.1 338,299.4 338.1,299.8 338.2,300.5 338.3,300.9 338.4,301.4 338.5,300.4 338.6,299.2 338.7,299.5 338.8,296.3 338.9,288.6 339,276.3 339.1,270.5 339.2,276.7 339.2,287.1 339.3,296.5 339.4,299 339.5,300.6 339.6,299.8 339.7,300.1 339.8,301.2 339.9,301.9 340,301.6 340.1,300.4 340.2,300 340.3,300.7 340.4,300.7 340.5,299.9 340.6,300.6 340.7,301.1 340.8,300.2 340.8,299.8 340.9,301.7 341,300.6 341.1,300.8 341.2,301.1 341.3,299.7 341.4,300.2 341.5,299.2 341.6,300.2 341.7,300.8 341.8,300.8 341.9,300.1 342,300.5 342.1,300.7 342.2,300.6 342.3,300.7 342.3,300.1 342.4,301.2 342.5,300.8 342.6,300.7 342.7,299.9 342.8,300.4 342.9,299.7 343,300.6 343.1,300.4 343.2,300.7 343.3,300.4 343.4,300.5 343.5,300.7 343.6,300.9 343.7,300.7 343.8,299.6 343.8,300.7 343.9,301.1 344,301.1 344.1,300.4 344.2,301.1 344.3,300.8 344.4,300.9 344.5,300.2 344.6,300.7 344.7,300.1 344.8,300 344.9,300.5 345,301 345.1,300.9 345.2,299.7 345.3,299.8 345.4,301.3 345.4,300.4 345.5,301.1 345.6,299.4 345.7,300.6 345.8,301.5 345.9,301.1 346,301.4 346.1,301.3 346.2,300.6 346.3,301.2 346.4,300.1 346.5,301.4 346.6,300.5 346.7,301.7 346.8,300.9 346.9,300.3 346.9,300.9 347,300.1 347.1,300.6 347.2,299.5 347.3,300.4 347.4,301 347.5,301 347.6,300.2 347.7,299.5 347.8,300.2 347.9,301.5 348,301.1 348.1,301.7 348.2,301.3 348.3,300.5 348.4,301.9 348.4,301.1 348.5,299.3 348.6,300.8 348.7,300.6 348.8,300.9 348.9,300.7 349,299.3 349.1,301.3 349.2,300.8 349.3,300.2 349.4,301.3 349.5,300.5 349.6,300.8 349.7,300.6 349.8,300.8 349.9,300.4 350,300.3 350,301 350.1,301 350.2,302.2 350.3,301.4 350.4,301.8 350.5,300.4 350.6,301.5 350.7,301.2 350.8,300.5 350.9,300.2 351,300 351.1,301.4 351.2,300.7 351.3,300.1 351.4,301.4 351.5,301 351.5,301.6 351.6,301.2 351.7,300.4 351.8,300.8 351.9,301.1 352,301.2 352.1,299.9 352.2,300.4 352.3,301.7 352.4,299.5 352.5,301.1 352.6,301 352.7,301.2 352.8,301.2 352.9,300.5 353,301.8 353.1,300.9 353.1,301.1 353.2,299.8 353.3,300.6 353.4,300.6 353.5,300.6 353.6,300.5 353.7,300.8 353.8,302.5 353.9,300.6 354,301.1 354.1,300.5 354.2,300.7 354.3,301.3 354.4,301.5 354.5,301.6 354.6,300.8 354.6,301 354.7,301.5 354.8,301.2 354.9,300.7 355,301.4 355.1,301 355.2,301.4 355.3,302.5 355.4,300.9 355.5,301.2 355.6,299.6 355.7,301.1 355.8,301.2 355.9,300.8 356,300.5 356.1,300.9 356.1,297.7 356.2,294.9 356.3,289.1 356.4,284.7 356.5,288.2 356.6,294.6 356.7,299.7 356.8,299.9 356.9,300.7 357,301.6 357.1,300.5 357.2,300.9 357.3,301 357.4,300.4 357.5,301.1 357.6,300.9 357.7,299.2 357.7,297.4 357.8,292 357.9,288.4 358,290.6 358.1,297.3 358.2,299.5 358.3,301.2 358.4,301.2 358.5,300.7 358.6,300.1 358.7,299.9 358.8,300.5 358.9,300.7 359,301 359.1,302.3 359.2,300.8 359.2,301.9 359.3,301.8 359.4,300.9 359.5,301.7 359.6,298.4 359.7,296.9 359.8,294.2 359.9,292.8 360,294.3 360.1,297.3 360.2,299.1 360.3,301.1 360.4,300.9 360.5,301 360.6,300.6 360.7,301.8 360.8,301 360.8,301.2 360.9,300.7 361,300.8 361.1,301 361.2,300.8 361.3,300.9 361.4,300.3 361.5,301 361.6,300.8 361.7,301.7 361.8,301.3 361.9,300.7 362,300.5 362.1,301.8 362.2,301.2 362.3,301.3 362.3,301.1 362.4,301.5 362.5,301.4 362.6,301.2 362.7,301.1 362.8,300.5 362.9,301.7 363,301.8 363.1,300.7 363.2,300.9 363.3,301.3 363.4,301.9 363.5,300.5 363.6,301.9 363.7,300.5 363.8,301 363.8,301.3 363.9,301.3 364,300.7 364.1,301.2 364.2,302.3 364.3,301.7 364.4,302.6 364.5,301 364.6,300.6 364.7,300.6 364.8,302.1 364.9,299.9 365,300.1 365.1,301.3 365.2,302.5 365.3,301.8 365.4,300.6 365.4,299.9 365.5,301.6 365.6,302.4 365.7,301.8 365.8,300 365.9,301.2 366,302.1 366.1,302.6 366.2,300.8 366.3,300.7 366.4,301.5 366.5,301.4 366.6,301.2 366.7,301.5 366.8,301.6 366.9,301.6 366.9,301.6 367,300.5 367.1,301 367.2,300.6 367.3,300.1 367.4,302.7 367.5,301.3 367.6,300.6 367.7,301.4 367.8,301.6 367.9,301 368,301.6 368.1,301.8 368.2,301.5 368.3,301.2 368.4,301.3 368.5,300.7 368.5,301.2 368.6,301.6 368.7,299.8 368.8,300.3 368.9,300.9 369,301.2 369.1,300.5 369.2,301.5 369.3,302.5 369.4,300.6 369.5,301.5 369.6,301.5 369.7,300.7 369.8,301.7 369.9,300.3 370,302.2 370,301 370.1,300.6 370.2,300.4 370.3,300.8 370.4,301.4 370.5,301.5 370.6,301.5 370.7,300.6 370.8,301.1 370.9,300.8 371,300.3 371.1,302.1 371.2,301.7 371.3,301 371.4,301.3 371.5,301.1 371.5,301.2 371.6,302.4 371.7,301 371.8,301.6 371.9,302 372,300.9 372.1,301.7 372.2,300.6 372.3,300.7 372.4,300.8 372.5,301.2 372.6,300.9 372.7,301.2 372.8,300.5 372.9,301 373,300.7 373.1,300.6 373.1,301 373.2,301.8 373.3,300.6 373.4,300.6 373.5,301.4 373.6,302.6 373.7,302.1 373.8,301.5 373.9,300.6 374,302 374.1,300.7 374.2,301.3 374.3,301.1 374.4,302.1 374.5,301.3 374.6,301.2 374.6,301.7 374.7,301.2 374.8,301.9 374.9,301.7 375,301.5 375.1,301.3 375.2,300.7 375.3,300.6 375.4,302.1 375.5,302.6 375.6,301.4 375.7,300.6 375.8,302.4 375.9,301.3 376,302.4 376.1,300.4 376.2,301.9 376.2,301.2 376.3,301.8 376.4,301.2 376.5,301 376.6,301.2 376.7,301.4 376.8,301.1 376.9,301.4 377,301.6 377.1,300.8 377.2,300.7 377.3,302.1 377.4,301.9 377.5,301.7 377.6,301 377.7,302.1 377.7,300.2 377.8,301.2 377.9,301.1 378,300.7 378.1,301.7 378.2,301 378.3,301 378.4,300.4 378.5,301.9 378.6,300.3 378.7,300.8 378.8,301.1 378.9,300.5 379,301.4 379.1,301.3 379.2,300.7 379.2,301.4 379.3,300.5 379.4,300.3 379.5,301.1 379.6,301.1 379.7,301.6 379.8,301.8 379.9,300.3 380,301.8 380.1,301.1 380.2,301 380.3,301.8 380.4,301.6 380.5,301.6 380.6,299.8 380.7,300.9 380.8,300.3 380.8,299.9 380.9,300.5 381,300.3 381.1,301.4 381.2,301.6 381.3,300.2 381.4,300.2 381.5,301.8 381.6,300.4 381.7,301 381.8,300.6 381.9,300.5 382,299.9 382.1,301.5 382.2,301.1 382.3,300.3 382.3,301.3 382.4,300.8 382.5,301.2 382.6,302.2 382.7,301.5 382.8,300.6 382.9,301.5 383,302.1 383.1,301.4 383.2,301 383.3,300.8 383.4,300.9 383.5,300.8 383.6,301.8 383.7,301.5 383.8,301.6 383.9,301.4 383.9,300.8 384,300.2 384.1,301.2 384.2,300.4 384.3,300.4 384.4,301.8 384.5,301.6 384.6,301 384.7,301.9 384.8,299.9 384.9,302.3 385,301.8 385.1,300.6 385.2,301.5 385.3,300.6 385.4,301.7 385.4,300.4 385.5,301.4 385.6,300.6 385.7,300.4 385.8,302 385.9,301.6 386,302.1 386.1,301.7 386.2,300.4 386.3,301 386.4,300.5 386.5,300.1 386.6,300.4 386.7,300.5 386.8,301.3 386.9,301.2 386.9,300.8 387,300.4 387.1,300.3 387.2,300.8 387.3,301.2 387.4,301 387.5,299.9 387.6,300.8 387.7,299.7 387.8,301.4 387.9,300.4 388,300.8 388.1,300.5 388.2,301.4 388.3,300.7 388.4,301 388.5,301.1 388.5,301.7 388.6,301.8 388.7,301.1 388.8,300.6 388.9,300.8 389,300.8 389.1,300.7 389.2,301.8 389.3,300.2 389.4,300.9 389.5,301.4 389.6,301.3 389.7,300.3 389.8,300.8 389.9,301.9 390,299.6 390,301.8 390.1,299.8 390.2,300.3 390.3,301.5 390.4,300.1 390.5,300.1 390.6,300.2 390.7,300.4 390.8,300.7 390.9,300.7 391,301.2 391.1,300.7 391.2,300 391.3,300.9 391.4,299.6 391.5,301.8 391.6,300.8 391.6,301.8 391.7,301.9 391.8,300.7 391.9,301 392,301.2 392.1,301.5 392.2,300.9 392.3,301.8 392.4,300.9 392.5,301.1 392.6,301.6 392.7,300.5 392.8,302 392.9,300.5 393,300.6 393.1,300.4 393.1,300.7 393.2,300.3 393.3,300.9 393.4,301.4 393.5,300.5 393.6,301.2 393.7,301 393.8,300.7 393.9,301.3 394,300.1 394.1,301.7 394.2,299.9 394.3,300.7 394.4,299.6 394.5,300 394.6,300.3 394.6,300.5 394.7,300.6 394.8,301.6 394.9,301 395,301.3 395.1,301.1 395.2,300.8 395.3,301.2 395.4,300.6 395.5,300.8 395.6,301 395.7,300.4 395.8,300.4 395.9,301.5 396,300.8 396.1,299.3 396.2,300.6 396.2,300.9 396.3,300.4 396.4,299.9 396.5,302.2 396.6,300.2 396.7,299.7 396.8,300 396.9,302 397,300.5 397.1,300.3 397.2,300.4 397.3,300.2 397.4,299.5 397.5,301.4 397.6,300.9 397.7,300.5 397.7,300.9 397.8,300.2 397.9,301.2 398,301.4 398.1,300.5 398.2,301.3 398.3,301.3 398.4,300.4 398.5,301.1 398.6,300.1 398.7,301 398.8,301.5 398.9,300.9 399,299.8 399.1,300.4 399.2,300.4 399.2,301 399.3,300.1 399.4,300.3 399.5,300.5 399.6,301.9 399.7,299.8 399.8,300.4 399.9,300.6 400,300.8 400.1,299.9 400.2,300.6 400.3,300.2 400.4,301.5 400.5,301 400.6,299.7 400.7,295.1 400.8,287.8 400.8,283.3 400.9,287.8 401,295.8 401.1,299.5 401.2,301.4 401.3,300.1 401.4,300.3 401.5,300.9 401.6,299.5 401.7,300.5 401.8,301 401.9,301 402,300.3 402.1,301.5 402.2,300.2 402.3,300.5 402.3,299.3 402.4,299.7 402.5,300.8 402.6,299 402.7,300.8 402.8,299.5 402.9,298.8 403,300.3 403.1,300.7 403.2,300.6 403.3,299.7 403.4,299.9 403.5,301.2 403.6,300 403.7,299.1 403.8,299.9 403.9,300.9 403.9,299.7 404,299.2 404.1,297.1 404.2,294.5 404.3,296.1 404.4,299.7 404.5,300.1 404.6,300.6 404.7,300.3 404.8,299.3 404.9,300.6 405,300 405.1,300.1 405.2,300.3 405.3,301 405.4,299.9 405.4,301 405.5,299.8 405.6,300.3 405.7,300.2 405.8,300.6 405.9,300.8 406,300.9 406.1,300.3 406.2,300.3 406.3,300.1 406.4,300.5 406.5,299.8 406.6,300.2 406.7,300.2 406.8,300.4 406.9,300.3 406.9,299.8 407,300.7 407.1,301 407.2,300 407.3,300 407.4,300.2 407.5,300.1 407.6,301.1 407.7,300.9 407.8,300.2 407.9,300.3 408,301 408.1,299.9 408.2,301.4 408.3,299.5 408.4,300.9 408.5,300.6 408.5,300.9 408.6,301.1 408.7,300.4 408.8,301.4 408.9,300.4 409,300.1 409.1,300.4 409.2,300.2 409.3,301.1 409.4,301.4 409.5,301 409.6,299.5 409.7,300 409.8,301.3 409.9,299.1 410,299.8 410,299.5 410.1,299.6 410.2,299.4 410.3,301.3 410.4,300.2 410.5,300.7 410.6,299 410.7,299.8 410.8,300.2 410.9,300.4 411,301.5 411.1,300.1 411.2,300.7 411.3,299.3 411.4,299.7 411.5,300.2 411.6,300.4 411.6,299.5 411.7,300.5 411.8,299.5 411.9,300.1 412,300.4 412.1,300 412.2,299.1 412.3,301.2 412.4,299.7 412.5,299.7 412.6,300.3 412.7,299.3 412.8,299.8 412.9,299.8 413,300.8 413.1,299.8 413.1,301 413.2,299.9 413.3,298.8 413.4,300.7 413.5,299.2 413.6,300.9 413.7,300.1 413.8,299.7 413.9,301.1 414,300 414.1,300.7 414.2,300.6 414.3,299.7 414.4,300.2 414.5,299.9 414.6,300.2 414.6,299.9 414.7,299.2 414.8,300.1 414.9,300.4 415,300.2 415.1,299.7 415.2,299.9 415.3,301.5 415.4,300.2 415.5,299.9 415.6,298.8 415.7,300.6 415.8,301.3 415.9,300 416,300.1 416.1,301 416.2,300.3 416.2,299.4 416.3,300.5 416.4,300.7 416.5,300.5 416.6,300.5 416.7,299.8 416.8,300.3 416.9,300 417,298.6 417.1,298.8 417.2,300.7 417.3,299.6 417.4,301.3 417.5,299.9 417.6,301 417.7,299.3 417.7,299.8 417.8,299.6 417.9,301.3 418,300 418.1,300.2 418.2,300.3 418.3,301 418.4,298.7 418.5,301.5 418.6,301.2 418.7,299.9 418.8,300.8 418.9,301.1 419,300.9 419.1,299.6 419.2,299 419.3,299.7 419.3,300.5 419.4,301.4 419.5,300.7 419.6,300.2 419.7,301.2 419.8,300 419.9,300.6 420,300.4 420.1,299.6 420.2,300.3 420.3,300.3 420.4,299.8 420.5,300.2 420.6,299.6 420.7,300.8 420.8,301.6 420.8,300.4 420.9,300.4 421,299.7 421.1,301 421.2,300.4 421.3,301.2 421.4,300.7 421.5,299.9 421.6,299.5 421.7,299.9 421.8,299.4 421.9,300 422,299.5 422.1,300.8 422.2,301.2 422.3,301.1 422.3,299.2 422.4,300.6 422.5,299.6 422.6,300.4 422.7,299.5 422.8,300.3 422.9,301.2 423,301.3 423.1,300.8 423.2,300.8 423.3,299.2 423.4,300.3 423.5,301.7 423.6,301.7 423.7,301.4 423.8,301.1 423.9,300.1 423.9,301.9 424,299.9 424.1,300.8 424.2,299.8 424.3,300.4 424.4,301.6 424.5,298.8 424.6,300.8 424.7,300.1 424.8,300.5 424.9,300.7 425,300.6 425.1,299.8 425.2,299.8 425.3,299.8 425.4,301.5 425.4,299.9 425.5,301.4 425.6,299 425.7,300.2 425.8,299.7 425.9,300.4 426,300.4 426.1,300.9 426.2,299.2 426.3,300.7 426.4,299.8 426.5,301 426.6,300.6 426.7,300.7 426.8,300.5 426.9,300.8 427,300.1 427,300.1 427.1,301.5 427.2,300.8 427.3,301.3 427.4,299.8 427.5,301.3 427.6,300.2 427.7,300.4 427.8,300.5 427.9,301.8 428,299.4 428.1,300.6 428.2,300.1 428.3,299.9 428.4,301.2 428.5,301.2 428.5,299.5 428.6,299.3 428.7,301.1 428.8,300.6 428.9,300 429,300.7 429.1,299.7 429.2,300.2 429.3,300.6 429.4,300.1 429.5,300.9 429.6,299.8 429.7,301 429.8,299.8 429.9,299 430,301.7 430,299.5 430.1,301.5 430.2,300.7 430.3,299.4 430.4,299.9 430.5,300.2 430.6,300.4 430.7,300.5 430.8,300.3 430.9,300.8 431,300.8 431.1,301.4 431.2,299.5 431.3,300.7 431.4,299.4 431.5,300.2 431.6,300.4 431.6,301.4 431.7,300.8 431.8,300.6 431.9,300.7 432,300.9 432.1,302.1 432.2,300.9 432.3,300.8 432.4,301 432.5,300.9 432.6,301.7 432.7,301.2 432.8,299.1 432.9,297.7 433,289.6 433.1,278.2 433.1,271.8 433.2,278 433.3,288 433.4,297.8 433.5,299.2 433.6,300.9 433.7,300.4 433.8,299.1 433.9,300.8 434,300.8 434.1,302.2 434.2,300.4 434.3,300.6 434.4,299.9 434.5,300.5 434.6,301.9 434.7,301.9 434.7,300.9 434.8,300.3 434.9,300.6 435,299.2 435.1,294.4 435.2,286.6 435.3,282.2 435.4,286.4 435.5,294.6 435.6,299.7 435.7,300.3 435.8,301.5 435.9,300.7 436,300.7 436.1,301.8 436.2,301.7 436.2,299.9 436.3,300.5 436.4,300.7 436.5,299.9 436.6,300.3 436.7,301.8 436.8,300.9 436.9,300.5 437,299.5 437.1,301.2 437.2,300.2 437.3,301.2 437.4,300.3 437.5,300.7 437.6,300.7 437.7,301 437.7,300.9 437.8,300.7 437.9,300.5 438,301.3 438.1,300.4 438.2,300.6 438.3,300.7 438.4,300.3 438.5,301.6 438.6,301.5 438.7,300.3 438.8,300.5 438.9,300.3 439,300.7 439.1,300.8 439.2,301.4 439.3,300.7 439.3,301.4 439.4,301.8 439.5,300.2 439.6,300.1 439.7,300.9 439.8,301.9 439.9,301.2 440,300 440.1,301.3 440.2,300.9 440.3,300.5 440.4,301.5 440.5,300.9 440.6,301.2 440.7,301.1 440.8,301.2 440.8,301.6 440.9,300.7 441,300.9 441.1,299.8 441.2,301.5 441.3,300.5 441.4,301.4 441.5,300.6 441.6,301 441.7,301.2 441.8,302.5 441.9,301 442,300.9 442.1,300.8 442.2,300.8 442.3,300.7 442.3,301.8 442.4,301.3 442.5,301 442.6,301.2 442.7,301.3 442.8,300.4 442.9,300.4 443,301.7 443.1,301.9 443.2,300.9 443.3,301.3 443.4,301.1 443.5,300.7 443.6,301.2 443.7,301 443.8,300.4 443.9,301.7 443.9,300.8 444,301.7 444.1,300 444.2,301.7 444.3,300.5 444.4,302.1 444.5,300.9 444.6,300.5 444.7,300 444.8,300.7 444.9,302.6 445,300.7 445.1,302.2 445.2,300.5 445.3,300 445.4,301.3 445.4,300 445.5,302 445.6,301.2 445.7,300.2 445.8,300.2 445.9,300.7 446,300.3 446.1,301.3 446.2,300.6 446.3,300.4 446.4,300.4 446.5,300.8 446.6,300.5 446.7,300.8 446.8,300.6 446.9,302 447,300.6 447,301.6 447.1,301.3 447.2,301 447.3,300.9 447.4,301.9 447.5,301.4 447.6,300.9 447.7,301.3 447.8,301 447.9,300.9 448,300.9 448.1,301.4 448.2,300.9 448.3,300.7 448.4,301.9 448.5,300.5 448.5,301.7 448.6,300.8 448.7,300.6 448.8,300.6 448.9,301.8 449,301.6 449.1,301.8 449.2,300.7 449.3,301 449.4,302.2 449.5,300.6 449.6,300.3 449.7,301.4 449.8,301.1 449.9,300.9 450,301.7 450,301.3 450.1,300.7 450.2,301.3 450.3,301.1 450.4,301 450.5,299.9 450.6,300.9 450.7,300.8 450.8,301.3 450.9,300.3 451,301 451.1,301.1 451.2,300.2 451.3,300.2 451.4,301.6 451.5,301.2 451.6,300.2 451.6,301.3 451.7,300 451.8,301.1 451.9,299.8 452,301.7 452.1,302.3 452.2,302 452.3,299.8 452.4,301.5 452.5,301.3 452.6,301.4 452.7,301.5 452.8,300.9 452.9,301 453,301.4 453.1,301.4 453.1,300.2 453.2,300.4 453.3,300.4 453.4,300.2 453.5,301.2 453.6,300.5 453.7,300 453.8,301.6 453.9,300.2 454,302.6 454.1,302.2 454.2,302 454.3,301.7 454.4,301.6 454.5,301.3 454.6,300.5 454.7,301.5 454.7,301.3 454.8,301.9 454.9,302 455,301.1 455.1,301.5 455.2,300.4 455.3,300.9 455.4,302.2 455.5,300.5 455.6,301.8 455.7,301.3 455.8,301.7 455.9,301.5 456,301.4 456.1,301.8 456.2,301.5 456.2,301.2 456.3,300.5 456.4,300.6 456.5,299.9 456.6,302 456.7,301.3 456.8,300.2 456.9,301.7 457,301.1 457.1,300.5 457.2,300 457.3,300.6 457.4,300.8 457.5,301.1 457.6,300.6 457.7,300.9 457.7,300.8 457.8,301.4 457.9,301.1 458,301.5 458.1,301.7 458.2,301.5 458.3,301.5 458.4,301.4 458.5,301.3 458.6,301.9 458.7,300.8 458.8,300.8 458.9,300 459,302.5 459.1,301.9 459.2,301.6 459.3,301.5 459.3,300.9 459.4,301.5 459.5,301.5 459.6,300.5 459.7,301.1 459.8,302 459.9,300.3 460,299.4 460.1,299.6 460.2,298.8 460.3,293 460.4,283.1 460.5,264.2 460.6,238.9 460.7,215.7 460.8,207.3 460.8,216.6 460.9,239.7 461,263.3 461.1,282.6 461.2,292 461.3,296.2 461.4,295.3 461.5,292.5 461.6,287.6 461.7,281.4 461.8,271.6 461.9,261.6 462,250.5 462.1,237.9 462.2,221.1 462.3,198.1 462.4,154.6 462.4,99.1 462.5,72.3 462.6,99.5 462.7,154.7 462.8,198.2 462.9,221.9 463,237.6 463.1,251.9 463.2,262.3 463.3,272.3 463.4,280.8 463.5,285.8 463.6,292.2 463.7,296.2 463.8,297.3 463.9,299.3 463.9,299.7 464,300.7 464.1,300.1 464.2,300.5 464.3,301 464.4,301.5 464.5,301 464.6,301.9 464.7,301.2 464.8,301.3 464.9,301.2 465,300 465.1,301.1 465.2,301 465.3,300.1 465.4,300.7 465.4,301 465.5,301.3 465.6,301.4 465.7,300.9 465.8,300.4 465.9,300.2 466,298 466.1,295.6 466.2,287.8 466.3,281.2 466.4,277.1 466.5,282.2 466.6,288 466.7,294.7 466.8,299.1 466.9,299.5 467,300.8 467,301 467.1,300.4 467.2,301 467.3,301.5 467.4,301 467.5,301.3 467.6,300.5 467.7,301.2 467.8,300.3 467.9,301.3 468,301.5 468.1,300.3 468.2,301.6 468.3,300.9 468.4,302.2 468.5,301.4 468.5,300.8 468.6,301.1 468.7,300.7 468.8,300.8 468.9,299.7 469,300.4 469.1,300.8 469.2,300.6 469.3,300.4 469.4,300.1 469.5,300.7 469.6,300.9 469.7,300.7 469.8,300.7 469.9,300.2 470,300.6 470.1,302.2 470.1,300.7 470.2,300.2 470.3,301.4 470.4,299.9 470.5,301.2 470.6,300.7 470.7,300.1 470.8,301 470.9,300.7 471,300.1 471.1,301.1 471.2,300.5 471.3,300 471.4,300.6 471.5,301.2 471.6,301 471.6,300.9 471.7,300.7 471.8,300.3 471.9,301.7 472,300.7 472.1,300.6 472.2,299.7 472.3,301.6 472.4,301.2 472.5,300.1 472.6,300.7 472.7,300 472.8,300.7 472.9,301.1 473,300.7 473.1,299.9 473.1,300.2 473.2,300.6 473.3,300.6 473.4,300 473.5,300.3 473.6,300.5 473.7,300.2 473.8,300.6 473.9,301.4 474,300.1 474.1,299.9 474.2,299.8 474.3,300.7 474.4,301.4 474.5,300.4 474.6,301 474.7,301.8 474.7,300.6 474.8,301.1 474.9,300.6 475,301 475.1,300.1 475.2,300.1 475.3,300.3 475.4,299.9 475.5,301 475.6,299.2 475.7,301.7 475.8,300.2 475.9,300 476,300.9 476.1,300.6 476.2,301.4 476.2,300.9 476.3,300.4 476.4,301.4 476.5,301.8 476.6,300.8 476.7,301.2 476.8,301.2 476.9,300.7 477,301.5 477.1,299.9 477.2,299.9 477.3,300.6 477.4,301 477.5,300.7 477.6,300.7 477.7,301.1 477.8,301 477.8,300.4 477.9,301.2 478,301 478.1,300.9 478.2,301.2 478.3,300.5 478.4,301.4 478.5,300 478.6,300.2 478.7,300.6 478.8,300.1 478.9,299.9 479,300.8 479.1,300.6 479.2,301 479.3,300.8 479.3,300.8 479.4,300.6 479.5,300.3 479.6,299.2 479.7,300.4 479.8,300 479.9,300.7 480,299.6 480.1,300.5 480.2,300.7 480.3,300.8 480.4,300.6 480.5,300.8 480.6,300.5 480.7,299.5 480.8,300.6 480.8,301.1 480.9,301.7 481,300.7 481.1,301.2 481.2,301.1 481.3,300.5 481.4,300.4 481.5,300.3 481.6,299.9 481.7,301.2 481.8,301 481.9,301.1 482,301.2 482.1,301 482.2,301.1 482.3,300.2 482.4,301.3 482.4,299.2 482.5,301.9 482.6,300.1 482.7,301.6 482.8,300.9 482.9,301.4 483,300.6 483.1,300.3 483.2,300.9 483.3,301 483.4,301.2 483.5,301.1 483.6,301.1 483.7,301 483.8,300.6 483.9,300.1 483.9,301 484,301.9 484.1,300.8 484.2,300.1 484.3,301.2 484.4,300.4 484.5,301.3 484.6,301.4 484.7,300.5 484.8,301.8 484.9,300.9 485,302.1 485.1,301.5 485.2,300.3 485.3,301.1 485.4,299.5 485.5,301.3 485.5,300.2 485.6,301.2 485.7,300.7 485.8,300.1 485.9,300.6 486,302.2 486.1,300.4 486.2,299.7 486.3,299.6 486.4,299.5 486.5,300.8 486.6,300.6 486.7,300.5 486.8,300.5 486.9,300.8 487,301.1 487,299.2 487.1,301.2 487.2,301.7 487.3,300.4 487.4,301 487.5,300.9 487.6,300.6 487.7,300.9 487.8,298.7 487.9,296 488,292.3 488.1,289.7 488.2,292.1 488.3,296.3 488.4,299 488.5,301.1 488.5,301 488.6,300.8 488.7,301.3 488.8,299.7 488.9,301 489,301.8 489.1,301.2 489.2,300.4 489.3,300.2 489.4,301.5 489.5,300.9 489.6,299.7 489.7,300.9 489.8,299.2 489.9,300.2 490,301.1 490.1,300.6 490.1,300.6 490.2,301.6 490.3,300.2 490.4,301.3 490.5,300.7 490.6,300 490.7,301.3 490.8,300.6 490.9,301 491,300.9 491.1,300.7 491.2,300.4 491.3,299.9 491.4,300.6 491.5,300.7 491.6,301.3 491.6,300 491.7,301.2 491.8,301 491.9,301.1 492,300.2 492.1,301.1 492.2,300.4 492.3,301.1 492.4,299.8 492.5,301 492.6,300.3 492.7,299.8 492.8,300.4 492.9,300.2 493,301.1 493.1,300.3 493.1,301 493.2,300.4 493.3,301 493.4,300.6 493.5,300.6 493.6,301.3 493.7,300.9 493.8,301.4 493.9,299.4 494,301 494.1,301.1 494.2,301.9 494.3,299.5 494.4,301.5 494.5,301.5 494.6,300.3 494.7,300.2 494.7,300.5 494.8,301.2 494.9,300 495,299.7 495.1,300.7 495.2,300 495.3,299.8 495.4,300 495.5,296.6 495.6,295.8 495.7,296.9 495.8,299 495.9,300.6 496,301.2 496.1,301.2 496.2,300.1 496.2,301 496.3,300.9 496.4,300.3 496.5,300.2 496.6,301 496.7,300.8 496.8,300 496.9,301.5 497,302.1 497.1,300.3 497.2,300.5 497.3,300.9 497.4,301.6 497.5,301.2 497.6,301.7 497.7,300.7 497.8,300.7 497.8,300.6 497.9,300.4 498,300.6 498.1,300.4 498.2,300.7 498.3,300.7 498.4,301.9 498.5,301 498.6,300.7 498.7,300.6 498.8,300.9 498.9,301.1 499,300.4 499.1,300.3 499.2,301.2 499.3,299.8 499.3,301.6 499.4,300.9 499.5,301 499.6,300.8 499.7,300.6 499.8,301.5 499.9,300.7 500,301.2 500.1,301.6 500.2,300.6 500.3,300.8 500.4,300.7 500.5,299.5 500.6,301.5 500.7,300.1 500.8,300.9 500.8,301 500.9,301.8 501,301.3 501.1,300.9 501.2,301.4 501.3,301.5 501.4,301 501.5,301.1 501.6,301 501.7,300.6 501.8,300.9 501.9,301.7 502,301.2 502.1,299.9 502.2,301.5 502.3,301 502.4,301 502.4,300.9 502.5,300.8 502.6,300.9 502.7,299.7 502.8,301.3 502.9,302.4 503,301.4 503.1,301.9 503.2,301.2 503.3,300.4 503.4,300.6 503.5,301.5 503.6,301.4 503.7,301.3 503.8,301.5 503.9,301.2 503.9,301.3 504,301.7 504.1,301 504.2,301.2"/>
<g stroke="#000000" stroke-width="1.8" fill="none" stroke-linecap="butt">
<path d="M91.2 21.6 V311.2 H504.8"/>
<path stroke-width="1.5" d="M91.2 301.4h-6.5M91.2 261.6h-6.5M91.2 221.8h-6.5M91.2 182h-6.5M91.2 142.2h-6.5M91.2 102.4h-6.5M91.2 62.6h-6.5M91.2 22.8h-6.5M91.2 281.5h-4M91.2 241.7h-4M91.2 201.9h-4M91.2 162.1h-4M91.2 122.3h-4M91.2 82.5h-4M91.2 42.7h-4M141.2 311.2v6.5M203.8 311.2v6.5M266.4 311.2v6.5M329 311.2v6.5M391.6 311.2v6.5M454.1 311.2v6.5M109.9 311.2v4M172.5 311.2v4M235.1 311.2v4M297.6 311.2v4M360.2 311.2v4M422.9 311.2v4M485.5 311.2v4"/>
</g>
<g font-size="18" fill="#000000">
<text x="80.5" y="306.1" text-anchor="end" textLength="9.3" lengthAdjust="spacingAndGlyphs">0</text>
<text x="80.5" y="266.3" text-anchor="end" textLength="28" lengthAdjust="spacingAndGlyphs">200</text>
<text x="80.5" y="226.5" text-anchor="end" textLength="28" lengthAdjust="spacingAndGlyphs">400</text>
<text x="80.5" y="186.7" text-anchor="end" textLength="28" lengthAdjust="spacingAndGlyphs">600</text>
<text x="80.5" y="146.9" text-anchor="end" textLength="28" lengthAdjust="spacingAndGlyphs">800</text>
<text x="80.5" y="107.1" text-anchor="end" textLength="37.4" lengthAdjust="spacingAndGlyphs">1000</text>
<text x="80.5" y="67.3" text-anchor="end" textLength="37.4" lengthAdjust="spacingAndGlyphs">1200</text>
<text x="80.5" y="27.5" text-anchor="end" textLength="37.4" lengthAdjust="spacingAndGlyphs">1400</text>
<text x="141.2" y="334.5" text-anchor="middle" textLength="28" lengthAdjust="spacingAndGlyphs">300</text>
<text x="203.8" y="334.5" text-anchor="middle" textLength="28" lengthAdjust="spacingAndGlyphs">400</text>
<text x="266.4" y="334.5" text-anchor="middle" textLength="28" lengthAdjust="spacingAndGlyphs">500</text>
<text x="329" y="334.5" text-anchor="middle" textLength="28" lengthAdjust="spacingAndGlyphs">600</text>
<text x="391.6" y="334.5" text-anchor="middle" textLength="28" lengthAdjust="spacingAndGlyphs">700</text>
<text x="454.1" y="334.5" text-anchor="middle" textLength="28" lengthAdjust="spacingAndGlyphs">800</text>
</g>
<text x="219" y="359.9" font-size="22" textLength="157" lengthAdjust="spacingAndGlyphs">Wavelength (nm)</text>
<text transform="translate(28.8 262.3) rotate(-90)" font-size="22" textLength="162" lengthAdjust="spacingAndGlyphs">Intensity (Counts)</text>
<text transform="translate(139.5 262.7) rotate(-90)" font-size="19.3" textLength="114.7" lengthAdjust="spacingAndGlyphs">Si I 288.16 nm</text>
<text transform="translate(219.1 219.6) rotate(-90)" font-size="19.3" textLength="121.6" lengthAdjust="spacingAndGlyphs">Ca I 422.67 nm</text>
<text transform="translate(296.4 191.2) rotate(-90)" font-size="19.3" textLength="125.2" lengthAdjust="spacingAndGlyphs">Na I 588.99 nm</text>
<text transform="translate(438.7 255.7) rotate(-90)" font-size="19.3" textLength="112.2" lengthAdjust="spacingAndGlyphs">K I 766.49 nm</text>
<text x="414.8" y="42.3" font-size="20.3" textLength="22.8" lengthAdjust="spacingAndGlyphs"><tspan font-size="22.5">(</tspan>a<tspan font-size="22.5">)</tspan></text>
<path d="M103.5 47.1H140" stroke="#ff0000" stroke-width="1.8"/>
<text x="142.8" y="52.6" font-size="19" textLength="151" lengthAdjust="spacingAndGlyphs">Blank Glass Slides</text>
<path d="M305.1 125.4L315 132" stroke="#000000" stroke-width="1.7"/>
<path d="M320.7 135.7L312.5 133.1L315.1 129.1Z" fill="#000000"/>
</g>
<g>
<polyline fill="none" stroke="#ff0000" stroke-width="1.9" stroke-linejoin="round" points="592.9,296.3 593,298.2 593,289.1 593.1,296.3 593.1,294.8 593.2,295 593.3,301.2 593.3,292.9 593.4,297 593.5,290.7 593.5,299.4 593.6,294.4 593.6,293.9 593.7,299.6 593.8,293.9 593.8,299.8 593.9,292.3 594,296.1 594,299.9 594.1,299.1 594.1,295.8 594.2,292.7 594.3,303.6 594.3,301.1 594.4,296.7 594.5,304.9 594.5,301.8 594.6,299.6 594.6,299.5 594.7,299.2 594.8,295.5 594.8,298.5 594.9,296.5 595,304.7 595,298.7 595.1,299.1 595.2,295.9 595.2,301.5 595.3,297.5 595.3,297 595.4,298.5 595.5,298 595.5,294.8 595.6,299.3 595.7,300.7 595.7,298.1 595.8,301.1 595.8,303.1 595.9,298.8 596,295.3 596,299.9 596.1,299 596.2,300.7 596.2,299.8 596.3,301.7 596.3,296.1 596.4,299 596.5,298 596.5,295.2 596.6,297.9 596.7,300.4 596.7,296.6 596.8,291.5 596.8,300.8 596.9,300.7 597,298 597,292.9 597.1,294.4 597.2,296.1 597.2,294.7 597.3,299.3 597.3,295.8 597.4,299 597.5,296.4 597.5,294.4 597.6,297 597.7,296.7 597.7,301.7 597.8,296.5 597.8,293.7 597.9,295.1 598,296.9 598,294.8 598.1,303.4 598.2,303.1 598.2,296.5 598.3,301.2 598.3,297.8 598.4,305.3 598.5,302.2 598.5,297.9 598.6,301 598.7,298.4 598.7,301.8 598.8,300.8 598.8,293.9 598.9,296.2 599,301.3 599,297.3 599.1,298 599.2,301.8 599.2,297.8 599.3,298.7 599.3,296.4 599.4,298.9 599.5,300.6 599.5,297.9 599.6,297 599.7,295.2 599.7,298.4 599.8,296.4 599.8,296.5 599.9,298 600,292.2 600,296.9 600.1,295.8 600.2,295.2 600.2,296 600.3,297.1 600.3,295.3 600.4,298.4 600.5,304.2 600.5,297.4 600.6,298.5 600.7,301.8 600.7,294 600.8,296 600.8,297.4 600.9,300.6 601,297.6 601,297.8 601.1,302.3 601.2,299.9 601.2,297.3 601.3,297.5 601.3,295.6 601.4,294 601.5,296.2 601.5,294.6 601.6,292.9 601.7,298.4 601.7,298.6 601.8,301.6 601.8,297.8 601.9,294.7 602,297 602,293.1 602.1,296.9 602.2,293.8 602.2,297.7 602.3,292.4 602.3,298.3 602.4,297.4 602.5,294.3 602.5,296.2 602.6,295.8 602.7,294.4 602.7,301.7 602.8,295.1 602.8,297.7 602.9,298.9 603,299.2 603,295.9 603.1,303.4 603.2,300.3 603.2,298.7 603.3,295.9 603.3,300.6 603.4,297 603.5,295.7 603.5,294.9 603.6,293.3 603.7,302.2 603.7,298.1 603.8,294.7 603.8,304.7 603.9,296.8 604,295.1 604,294.5 604.1,301.2 604.2,300.9 604.2,295.1 604.3,297.2 604.3,296.2 604.4,295.2 604.5,297 604.5,297.5 604.6,294.4 604.7,296.2 604.7,298.1 604.8,303.1 604.8,299.8 604.9,300.6 605,299.8 605,297.7 605.1,298.4 605.2,293.7 605.2,299.2 605.3,296 605.3,302.7 605.4,297 605.5,297.2 605.5,296.4 605.6,294.8 605.7,292.1 605.7,300.1 605.8,301.2 605.8,295.7 605.9,298 606,300.3 606,291.2 606.1,299.1 606.2,298.7 606.2,303.8 606.3,296.5 606.3,301.7 606.4,298.8 606.5,295.7 606.5,297.7 606.6,296.8 606.7,295.7 606.7,298.9 606.8,295.4 606.8,297.4 606.9,295.4 607,296 607,298.7 607.1,296.3 607.2,300.7 607.2,297.4 607.3,301 607.3,293.7 607.4,299 607.5,294.5 607.5,292.7 607.6,302.8 607.7,298.4 607.7,297.2 607.8,294.6 607.8,298.8 607.9,297.5 608,296.4 608,297.6 608.1,295.4 608.2,297.2 608.2,297.1 608.3,292.6 608.3,298 608.4,295.4 608.5,295.7 608.5,296.8 608.6,301 608.7,295.5 608.7,296.7 608.8,302.4 608.8,293.6 608.9,300.5 609,299.4 609,298.4 609.1,298.5 609.2,299.8 609.2,302.5 609.3,299.1 609.3,300.2 609.4,297.9 609.5,297.4 609.5,296.4 609.6,297 609.7,302.5 609.7,296.4 609.8,297.2 609.8,294.7 609.9,300.4 610,300.8 610,291.5 610.1,297 610.2,299.9 610.2,299 610.3,297.5 610.3,293.5 610.4,295.5 610.5,298.9 610.5,300.7 610.6,295.7 610.7,296.5 610.7,295.3 610.8,294.7 610.9,299.6 610.9,296.8 611,299.8 611,294.5 611.1,301.4 611.2,297.3 611.2,294.4 611.3,299.3 611.4,301.2 611.4,299.5 611.5,299.1 611.5,300.3 611.6,298.7 611.7,297 611.7,300.4 611.8,294.1 611.9,298.3 611.9,297.4 612,294.9 612,294.6 612.1,294.5 612.2,294.1 612.2,296.7 612.3,299.6 612.4,293.3 612.4,294.8 612.5,294.8 612.5,298.3 612.6,299.8 612.7,296 612.7,295.8 612.8,299.1 612.9,299.6 612.9,294.8 613,297.6 613,297.2 613.1,299.4 613.2,294.7 613.2,299 613.3,297.1 613.4,296.7 613.4,300 613.5,295.5 613.5,297.3 613.6,296.8 613.7,300 613.7,297.8 613.8,300.7 613.9,296.8 613.9,299 614,301.3 614,297.6 614.1,296.1 614.2,297.2 614.2,298.5 614.3,297 614.4,297.1 614.4,296.2 614.5,300.9 614.5,294.3 614.6,299.6 614.7,299.3 614.7,295.2 614.8,298 614.9,299.8 614.9,296.9 615,300.5 615,295.3 615.1,297.1 615.2,299.3 615.2,298.4 615.3,292.5 615.4,301.4 615.4,303.9 615.5,298.2 615.5,299.1 615.6,301.1 615.7,294 615.7,292 615.8,295.1 615.9,299.3 615.9,298.6 616,297.1 616,301.9 616.1,301.6 616.2,299.6 616.2,296.3 616.3,301.6 616.4,301.1 616.4,296.7 616.5,295.8 616.5,298.3 616.6,298.5 616.7,296.8 616.7,300.1 616.8,296.3 616.9,300.5 616.9,297.5 617,297.3 617,296.2 617.1,296.4 617.2,297.6 617.2,302.8 617.3,299.5 617.4,299.6 617.4,300.2 617.5,301.7 617.5,298.6 617.6,297 617.7,299.8 617.7,297.4 617.8,296.8 617.9,295.2 617.9,292.4 618,295.1 618,299 618.1,291.9 618.2,297.8 618.2,298.2 618.3,293.7 618.4,300.8 618.4,303.6 618.5,298.7 618.5,298.4 618.6,297.7 618.7,296.4 618.7,295.8 618.8,294.5 618.9,301.9 618.9,295.9 619,296 619,296.3 619.1,296.5 619.2,299.6 619.2,295.5 619.3,295.4 619.4,294.5 619.4,297.5 619.5,291.9 619.5,300.8 619.6,297.5 619.7,297.6 619.7,300.4 619.8,297.9 619.9,296.4 619.9,298.4 620,295.8 620,298.1 620.1,300.4 620.2,298.4 620.2,300 620.3,295.6 620.4,296.8 620.4,302.6 620.5,294 620.5,297.2 620.6,296 620.7,296.6 620.7,296 620.8,291.5 620.9,299.4 620.9,297.7 621,296.9 621,301.5 621.1,297.5 621.2,295.6 621.2,295.9 621.3,297.8 621.4,298 621.4,298.7 621.5,302 621.5,297.1 621.6,301 621.7,301.1 621.7,297 621.8,295.6 621.9,295.3 621.9,297.6 622,295.3 622,296.2 622.1,297.4 622.2,294.5 622.2,296.6 622.3,297.5 622.4,294.2 622.4,299.9 622.5,297.9 622.5,295.2 622.6,295.1 622.7,299.7 622.7,301.7 622.8,301.5 622.9,298 622.9,295.4 623,297.4 623,297 623.1,300.4 623.2,295.5 623.2,296 623.3,297.2 623.4,298.9 623.4,295.3 623.5,295.7 623.5,295.9 623.6,299.8 623.7,297.8 623.7,293 623.8,295.9 623.9,296.5 623.9,302.3 624,301 624,296.2 624.1,299.7 624.2,298.1 624.2,295.2 624.3,296.2 624.4,296.3 624.4,297 624.5,305.6 624.5,298 624.6,296.7 624.7,298.3 624.7,305.1 624.8,297 624.9,300.6 624.9,298 625,302.6 625,297.9 625.1,301.1 625.2,292.9 625.2,297.8 625.3,297.5 625.4,294.8 625.4,295.5 625.5,296.4 625.5,296.5 625.6,300.8 625.7,302.7 625.7,298.6 625.8,295.6 625.9,296.4 625.9,301.1 626,297.5 626,300.5 626.1,303.9 626.2,296.7 626.2,301.2 626.3,299.2 626.4,301 626.4,294 626.5,298.1 626.6,300.2 626.6,299.4 626.7,302 626.7,295.5 626.8,302.1 626.9,293.4 626.9,298.8 627,304.8 627.1,298.8 627.1,301.3 627.2,298.2 627.2,297.4 627.3,300.3 627.4,301.8 627.4,298.6 627.5,302.5 627.6,293.6 627.6,296.9 627.7,298.3 627.7,295.1 627.8,295.9 627.9,299.9 627.9,298.7 628,297.6 628.1,297 628.1,296.1 628.2,297.1 628.2,294.5 628.3,296.7 628.4,297.5 628.4,293.9 628.5,295.5 628.6,293.2 628.6,298.7 628.7,299.3 628.7,298 628.8,297.5 628.9,299.3 628.9,294.8 629,296.2 629.1,296.2 629.1,299.7 629.2,296.2 629.2,299.7 629.3,293.3 629.4,298.8 629.4,292.4 629.5,303.9 629.6,297.1 629.6,299.5 629.7,301.3 629.7,298.2 629.8,298.2 629.9,299.8 629.9,299.9 630,298.9 630.1,296.6 630.1,295 630.2,296.6 630.2,301.2 630.3,299 630.4,296.2 630.4,299.6 630.5,295.6 630.6,298.1 630.6,295.4 630.7,297.5 630.7,295.5 630.8,299.6 630.9,301.3 630.9,302.3 631,302.4 631.1,298.6 631.1,299.1 631.2,300.6 631.2,295.9 631.3,297.9 631.4,301.3 631.4,295.1 631.5,296 631.6,300.6 631.6,301.9 631.7,299.7 631.7,297.2 631.8,294.6 631.9,297.1 631.9,297.8 632,299.2 632.1,301.6 632.1,298.4 632.2,299.7 632.2,298.6 632.3,297.3 632.4,297.5 632.4,299.9 632.5,292.2 632.6,305.1 632.6,293.8 632.7,296.1 632.7,301.1 632.8,301.2 632.9,296.5 632.9,296.5 633,300 633.1,294.5 633.1,292.8 633.2,299.7 633.2,299.8 633.3,298.9 633.4,297 633.4,302.3 633.5,299.8 633.6,302.2 633.6,297.8 633.7,298 633.7,300.3 633.8,302.7 633.9,303.6 633.9,298.2 634,299.6 634.1,299.9 634.1,301.3 634.2,297.1 634.2,302.1 634.3,291.2 634.4,301.8 634.4,297 634.5,294.7 634.6,289.9 634.6,295.5 634.7,295.5 634.7,296 634.8,300 634.9,299.8 634.9,296.2 635,294.9 635.1,297.3 635.1,294.6 635.2,298.3 635.2,300.1 635.3,301.6 635.4,296.5 635.4,302.8 635.5,298.8 635.6,292.1 635.6,302.5 635.7,296.2 635.7,295 635.8,294.6 635.9,294.9 635.9,302.2 636,294.5 636.1,302.8 636.1,297.3 636.2,294 636.2,297.1 636.3,302.4 636.4,295.1 636.4,296.8 636.5,297.1 636.6,298.8 636.6,300.1 636.7,300.4 636.7,296.7 636.8,293.9 636.9,298.2 636.9,295.1 637,302.5 637.1,295.9 637.1,300.2 637.2,298.7 637.2,294.5 637.3,293.2 637.4,301.4 637.4,303.9 637.5,297 637.6,297.7 637.6,298.6 637.7,301.2 637.7,301.5 637.8,295.2 637.9,297.1 637.9,299.9 638,300.5 638.1,299 638.1,298 638.2,298.2 638.2,292.2 638.3,299.7 638.4,295.2 638.4,299.7 638.5,299 638.6,300.7 638.6,296.1 638.7,294.1 638.7,301.8 638.8,296.3 638.9,294.8 638.9,297.7 639,303.8 639.1,301.7 639.1,298.6 639.2,300.4 639.2,301.1 639.3,291.4 639.4,302.9 639.4,296.4 639.5,297.9 639.6,298.4 639.6,300.5 639.7,298.1 639.7,296.5 639.8,292.8 639.9,301 639.9,301.1 640,298.4 640.1,296 640.1,291.6 640.2,297.7 640.2,299.5 640.3,306.2 640.4,302 640.4,298 640.5,295.1 640.6,299.6 640.6,295.8 640.7,294.9 640.7,295.1 640.8,297.7 640.9,293.6 640.9,303.1 641,296.7 641.1,297.9 641.1,303.4 641.2,295 641.2,293.7 641.3,297.5 641.4,300.1 641.4,296.5 641.5,297.8 641.6,296.8 641.6,305.1 641.7,295.9 641.7,296.9 641.8,298.7 641.9,297.2 641.9,301.3 642,302.1 642.1,296.8 642.1,299.3 642.2,293.6 642.3,300.4 642.3,294.7 642.4,293.2 642.4,292.6 642.5,300.3 642.6,297.8 642.6,303 642.7,298.2 642.8,297.9 642.8,299.2 642.9,300.8 642.9,296.9 643,296.6 643.1,293.2 643.1,301.9 643.2,297.3 643.3,297.6 643.3,298.6 643.4,300 643.4,295.7 643.5,300.1 643.6,298 643.6,298.7 643.7,297.5 643.8,299.7 643.8,300.7 643.9,296.4 643.9,298.8 644,295.9 644.1,298.7 644.1,297.5 644.2,297 644.3,296.6 644.3,296.3 644.4,299.7 644.4,291.8 644.5,298.4 644.6,295 644.6,293 644.7,294.8 644.8,298.1 644.8,302 644.9,297.4 644.9,300 645,297.7 645.1,298 645.1,299.8 645.2,298.3 645.3,297.4 645.3,300.1 645.4,293.2 645.4,296.6 645.5,296.4 645.6,299.7 645.6,296.4 645.7,296.9 645.8,297.8 645.8,296.3 645.9,293 645.9,297 646,302.8 646.1,301.2 646.1,306.4 646.2,298.6 646.3,300.8 646.3,294.9 646.4,298.6 646.4,298.6 646.5,302.6 646.6,293.1 646.6,298.9 646.7,299.7 646.8,294.2 646.8,295.9 646.9,304.2 646.9,297.7 647,293.3 647.1,298.1 647.1,299.4 647.2,295.2 647.3,295.4 647.3,299.9 647.4,299.3 647.4,299 647.5,298.9 647.6,300.9 647.6,299.3 647.7,295.6 647.8,301.7 647.8,294.7 647.9,296.1 647.9,295.4 648,295.3 648.1,299.7 648.1,301.8 648.2,294.3 648.3,297.6 648.3,296.3 648.4,294.8 648.4,301.1 648.5,297.7 648.6,297.6 648.6,300.2 648.7,299.9 648.8,297.5 648.8,296.5 648.9,294 648.9,295.1 649,293.6 649.1,298.8 649.1,296.8 649.2,297.7 649.3,298.4 649.3,299 649.4,293.9 649.4,293.5 649.5,297.4 649.6,304.9 649.6,300.7 649.7,299.8 649.8,292.9 649.8,294.5 649.9,298.2 649.9,295.5 650,296.6 650.1,297.8 650.1,297.9 650.2,300.1 650.3,300.4 650.3,298 650.4,300.5 650.4,296.5 650.5,298.4 650.6,299.9 650.6,296.6 650.7,299.6 650.8,298.5 650.8,300.1 650.9,295.8 650.9,297.2 651,298.1 651.1,298.1 651.1,296.3 651.2,298.9 651.3,302.5 651.3,292.9 651.4,297.3 651.4,295.5 651.5,299.9 651.6,301.9 651.6,300.6 651.7,296 651.8,298.7 651.8,298.1 651.9,298.9 651.9,301.9 652,293.2 652.1,300.2 652.1,300.3 652.2,300.7 652.3,296.8 652.3,294.3 652.4,297.1 652.4,296.5 652.5,298.3 652.6,294 652.6,297 652.7,296.5 652.8,300.5 652.8,294.3 652.9,295.8 652.9,298.9 653,299.5 653.1,296.4 653.1,301.1 653.2,297.3 653.3,299.8 653.3,300.5 653.4,294.7 653.4,300.5 653.5,302.6 653.6,293.6 653.6,299.4 653.7,294.7 653.8,297.6 653.8,300.3 653.9,302 653.9,298.2 654,296.9 654.1,299.4 654.1,298.7 654.2,299.8 654.3,298 654.3,297.3 654.4,298.3 654.4,303.2 654.5,299.9 654.6,298.8 654.6,299 654.7,302.8 654.8,299.4 654.8,302 654.9,302.3 654.9,296.7 655,300.4 655.1,294.7 655.1,294.8 655.2,303 655.3,297.2 655.3,302 655.4,296.3 655.4,294.9 655.5,294.1 655.6,294.4 655.6,301.7 655.7,297.1 655.8,302 655.8,296.6 655.9,295.6 655.9,298.3 656,295.5 656.1,300.1 656.1,299.2 656.2,301 656.3,302.8 656.3,297.6 656.4,297.8 656.4,300.7 656.5,300.2 656.6,302 656.6,295.9 656.7,296.3 656.8,299.3 656.8,298.9 656.9,299.1 656.9,300.3 657,296.8 657.1,295.2 657.1,303.4 657.2,295.5 657.3,300.3 657.3,298.8 657.4,301.8 657.4,299.3 657.5,298.2 657.6,298.7 657.6,290.8 657.7,299 657.8,298.6 657.8,298.7 657.9,296.6 658,295.9 658,295.9 658.1,298 658.1,297.3 658.2,304.3 658.3,297.6 658.3,300.6 658.4,297.1 658.5,299.4 658.5,296.3 658.6,298.7 658.6,296.2 658.7,303.5 658.8,295.1 658.8,301.7 658.9,293.5 659,301.8 659,297.8 659.1,300.6 659.1,297.5 659.2,295 659.3,300.3 659.3,296.9 659.4,295.6 659.5,300.7 659.5,295.5 659.6,299.4 659.6,296.3 659.7,300.8 659.8,289.4 659.8,298.2 659.9,303.4 660,296.6 660,298.8 660.1,302.2 660.1,298.8 660.2,301.3 660.3,297.5 660.3,300.5 660.4,300.8 660.5,297.4 660.5,297 660.6,297.9 660.6,297.1 660.7,298.1 660.8,297.4 660.8,295.9 660.9,296.3 661,296.9 661,295.4 661.1,300.6 661.1,296.3 661.2,300.9 661.3,299 661.3,299.3 661.4,297 661.5,295.6 661.5,298.9 661.6,300.8 661.6,296.4 661.7,298.1 661.8,300.2 661.8,294.4 661.9,297.2 662,297.6 662,297.6 662.1,298.4 662.1,296.9 662.2,297.7 662.3,295.9 662.3,300.3 662.4,297.9 662.5,296.1 662.5,299.7 662.6,296.6 662.6,299.1 662.7,296.3 662.8,295.7 662.8,296.8 662.9,297.8 663,299 663,298.9 663.1,297.4 663.1,297.9 663.2,299.4 663.3,297.6 663.3,299.7 663.4,295.8 663.5,296.5 663.5,297.8 663.6,296 663.6,298.2 663.7,295.5 663.8,297.6 663.8,299.9 663.9,301 664,294.8 664,300.5 664.1,297.9 664.1,296.4 664.2,298.3 664.3,299.2 664.3,298.1 664.4,297.5 664.5,297.5 664.5,297 664.6,299.6 664.6,296 664.7,297.3 664.8,296.5 664.8,296.3 664.9,297 665,299.7 665,299 665.1,299.1 665.1,299.4 665.2,298.8 665.3,300.6 665.3,297.8 665.4,297.9 665.5,296.1 665.5,298.6 665.6,295 665.6,297.9 665.7,298.3 665.8,297.6 665.8,294.3 665.9,295.4 666,297 666,297.8 666.1,298.9 666.1,301 666.2,298.2 666.3,298.6 666.3,293.8 666.4,298.9 666.5,294.6 666.5,297.6 666.6,298.6 666.6,296.2 666.7,303.1 666.8,302.4 666.8,293.4 666.9,296.9 667,296.9 667,298.3 667.1,297.5 667.1,298.1 667.2,298 667.3,297.3 667.3,297.1 667.4,296.4 667.5,300.3 667.5,298.8 667.6,293.7 667.6,298.7 667.7,297 667.8,297.4 667.8,298.6 667.9,293.3 668,296.3 668,302.3 668.1,295.1 668.1,300.8 668.2,302.2 668.3,299.5 668.3,295.8 668.4,301.9 668.5,295.6 668.5,299.9 668.6,294.9 668.6,296 668.7,299.7 668.8,303.6 668.8,297.9 668.9,303.1 669,295.9 669,299 669.1,294.9 669.1,299.3 669.2,300.3 669.3,296.7 669.3,300.4 669.4,297.8 669.5,298.1 669.5,299.7 669.6,301.1 669.6,296.4 669.7,293.9 669.8,298.6 669.8,300.1 669.9,298.6 670,300.8 670,302.6 670.1,295.4 670.1,297.5 670.2,298.7 670.3,293.6 670.3,297.9 670.4,298 670.5,295.8 670.5,299.3 670.6,297.1 670.6,296.9 670.7,296.1 670.8,297 670.8,294.5 670.9,295.9 671,296.1 671,295.8 671.1,299.3 671.1,300 671.2,298.5 671.3,295.2 671.3,301 671.4,297 671.5,299.6 671.5,299 671.6,299.9 671.6,302.2 671.7,294.5 671.8,298.5 671.8,297.8 671.9,297.7 672,304.6 672,294.6 672.1,293.9 672.1,298.1 672.2,297.2 672.3,296.3 672.3,296.3 672.4,295.6 672.5,296.2 672.5,298.3 672.6,296.5 672.6,300.7 672.7,298.1 672.8,295.1 672.8,294.5 672.9,296.7 673,296 673,299.1 673.1,295.8 673.1,298.2 673.2,300.1 673.3,294.8 673.3,297.7 673.4,297.2 673.5,300.7 673.5,297.8 673.6,297 673.7,296.5 673.7,296.6 673.8,296.8 673.8,295.7 673.9,294.9 674,295.2 674,299.9 674.1,297.4 674.2,294.7 674.2,295.6 674.3,298.5 674.3,297.8 674.4,298.1 674.5,297.3 674.5,302.7 674.6,302.9 674.7,299.2 674.7,301.4 674.8,300.3 674.8,300.2 674.9,297.7 675,298.2 675,294.7 675.1,297.7 675.2,298.5 675.2,298.1 675.3,298.4 675.3,300.2 675.4,300.9 675.5,294.7 675.5,299.6 675.6,300 675.7,300.9 675.7,299.6 675.8,301.2 675.8,299.8 675.9,302.2 676,301.6 676,293 676.1,297.5 676.2,297.1 676.2,294.9 676.3,296.8 676.3,297 676.4,298.8 676.5,295.6 676.5,299.7 676.6,298.6 676.7,299.1 676.7,295.1 676.8,297.9 676.8,297.6 676.9,294.4 677,294.4 677,296.8 677.1,297.1 677.2,298.9 677.2,297.8 677.3,295.8 677.3,296.6 677.4,294.6 677.5,296.7 677.5,300.3 677.6,299.6 677.7,302.9 677.7,296.8 677.8,300 677.8,296.6 677.9,298.8 678,297.4 678,298.7 678.1,298.3 678.2,296.8 678.2,298.9 678.3,298.3 678.3,299 678.4,298.7 678.5,299.2 678.5,300.4 678.6,298.3 678.7,296.6 678.7,297.7 678.8,299.4 678.8,300.5 678.9,293 679,294.9 679,300.5 679.1,300.9 679.2,301.4 679.2,295.4 679.3,301.8 679.3,297.8 679.4,300.4 679.5,297.7 679.5,300.3 679.6,298.3 679.7,298 679.7,295.8 679.8,294.7 679.8,296.8 679.9,297.2 680,294.1 680,301.6 680.1,293.5 680.2,298.5 680.2,298.9 680.3,294.6 680.3,298.8 680.4,297.9 680.5,296 680.5,294.9 680.6,300.7 680.7,296.3 680.7,297 680.8,298.3 680.8,294.1 680.9,292.1 681,296 681,296.2 681.1,299.6 681.2,298.5 681.2,298.9 681.3,296.8 681.3,297.2 681.4,299.5 681.5,298.3 681.5,300.5 681.6,298.8 681.7,297.8 681.7,297.5 681.8,298.1 681.8,297.5 681.9,298.2 682,299.8 682,296 682.1,299.3 682.2,299.1 682.2,295.5 682.3,297.9 682.3,297.1 682.4,293.9 682.5,299.7 682.5,300.6 682.6,292.9 682.7,299.3 682.7,299.6 682.8,292.9 682.8,297.2 682.9,298.3 683,302.8 683,298.2 683.1,299.6 683.2,296.5 683.2,302.6 683.3,297.4 683.3,294.2 683.4,297.5 683.5,299.4 683.5,303.8 683.6,299 683.7,299.4 683.7,300.2 683.8,301.1 683.8,294.8 683.9,294.7 684,300.5 684,299.8 684.1,299.8 684.2,300.6 684.2,297 684.3,296.7 684.3,295.7 684.4,297.8 684.5,297.2 684.5,294.6 684.6,296.7 684.7,297.1 684.7,302.1 684.8,298.3 684.8,298.7 684.9,297.7 685,295 685,299.2 685.1,294.3 685.2,299.9 685.2,294 685.3,300.4 685.3,297.9 685.4,302.8 685.5,300.9 685.5,303.7 685.6,296.5 685.7,298.6 685.7,303.7 685.8,297 685.8,299.3 685.9,300.9 686,298.7 686,297.3 686.1,298.1 686.2,297.7 686.2,296.4 686.3,295.4 686.3,301.1 686.4,296.6 686.5,301.3 686.5,300.1 686.6,301.8 686.7,299.6 686.7,295.1 686.8,297.2 686.8,294 686.9,299.3 687,294.6 687,303.5 687.1,296.3 687.2,295.4 687.2,296.2 687.3,299.3 687.3,299.4 687.4,298 687.5,292.9 687.5,295.4 687.6,298.2 687.7,302.1 687.7,295.3 687.8,299.7 687.8,295.5 687.9,301.4 688,300.5 688,297.1 688.1,297.1 688.2,295.3 688.2,297.5 688.3,298.3 688.3,296.2 688.4,298.4 688.5,299.9 688.5,297.9 688.6,294.5 688.7,297.1 688.7,296.7 688.8,295.5 688.8,296.5 688.9,300.2 689,298.6 689,296.7 689.1,293.3 689.2,297.3 689.2,299.9 689.3,297.6 689.4,297.7 689.4,300.8 689.5,297 689.5,291.5 689.6,299.7 689.7,296.6 689.7,295.3 689.8,298.1 689.9,302.4 689.9,296.8 690,298.9 690,299.3 690.1,297 690.2,297.5 690.2,295.3 690.3,294.6 690.4,300 690.4,295.7 690.5,298 690.5,297.1 690.6,294.2 690.7,298.1 690.7,299.1 690.8,301 690.9,293.4 690.9,296.4 691,296.6 691,299.1 691.1,293.8 691.2,302.8 691.2,295.3 691.3,293 691.4,293.9 691.4,296.7 691.5,296.5 691.5,298 691.6,298.3 691.7,297.7 691.7,298.6 691.8,298 691.9,299.4 691.9,297.7 692,296.5 692,294.4 692.1,297.7 692.2,296.4 692.2,298.4 692.3,295.5 692.4,299.3 692.4,300.7 692.5,301.2 692.5,299.6 692.6,298.3 692.7,294.1 692.7,296.8 692.8,297.4 692.9,301.1 692.9,299.3 693,299 693,290.8 693.1,294.4 693.2,294.8 693.2,301 693.3,298.7 693.4,298.6 693.4,297.4 693.5,301.3 693.5,296.4 693.6,298 693.7,302.4 693.7,298.8 693.8,295 693.9,295.9 693.9,296 694,301.7 694,295.7 694.1,297.2 694.2,297.4 694.2,300.9 694.3,300.9 694.4,294.4 694.4,296.2 694.5,295 694.5,293.9 694.6,298.9 694.7,299.1 694.7,301.2 694.8,294.5 694.9,297.2 694.9,298 695,298.9 695,297.3 695.1,291.9 695.2,299.2 695.2,302 695.3,295.5 695.4,297.9 695.4,293.1 695.5,296.9 695.5,295.9 695.6,301.8 695.7,298.6 695.7,299 695.8,297.6 695.9,296.4 695.9,297.5 696,298.6 696,294.3 696.1,295.7 696.2,292.8 696.2,299.1 696.3,299.5 696.4,302.1 696.4,299.9 696.5,298 696.5,294.2 696.6,300.8 696.7,301.4 696.7,298.3 696.8,298.6 696.9,296.7 696.9,299.1 697,298.8 697,298.6 697.1,296.7 697.2,302.3 697.2,296.5 697.3,301.4 697.4,295.2 697.4,299.4 697.5,296.6 697.5,299.4 697.6,296.6 697.7,296.5 697.7,301.3 697.8,295.3 697.9,297.5 697.9,299.9 698,297.1 698,303 698.1,300.8 698.2,295.5 698.2,298.5 698.3,295.4 698.4,297.2 698.4,295.7 698.5,295.7 698.5,296.6 698.6,297.4 698.7,299.3 698.7,296.6 698.8,292.6 698.9,298.9 698.9,296.3 699,297.5 699,297.2 699.1,295 699.2,300.6 699.2,292.8 699.3,298.9 699.4,302.1 699.4,302 699.5,297.8 699.5,293.8 699.6,297.3 699.7,299.1 699.7,291.9 699.8,301 699.9,297.5 699.9,296.4 700,296.6 700,296.8 700.1,300.2 700.2,294.1 700.2,297.5 700.3,296.1 700.4,299.7 700.4,301.9 700.5,293.5 700.5,297.7 700.6,298.7 700.7,299.7 700.7,298.6 700.8,297.6 700.9,298 700.9,297.7 701,297.8 701,300.8 701.1,297 701.2,296.3 701.2,299.6 701.3,298.9 701.4,297.6 701.4,299.9 701.5,296.4 701.5,297.8 701.6,294.9 701.7,290.9 701.7,297.1 701.8,299.1 701.9,295.7 701.9,296.6 702,297.6 702,297.4 702.1,297.2 702.2,295 702.2,297.2 702.3,296.1 702.4,295 702.4,293.2 702.5,295.2 702.5,294.1 702.6,292.3 702.7,297.3 702.7,293.3 702.8,294.2 702.9,299.3 702.9,298.1 703,294.7 703,302.5 703.1,299.6 703.2,293.1 703.2,295.7 703.3,293.6 703.4,293.3 703.4,299.5 703.5,299.5 703.5,292.3 703.6,301.1 703.7,299.2 703.7,295.7 703.8,299.1 703.9,297.4 703.9,295.5 704,295.6 704,297.4 704.1,294.7 704.2,295.5 704.2,295.4 704.3,295.2 704.4,297.3 704.4,298.6 704.5,295.1 704.5,298.5 704.6,293.5 704.7,300 704.7,296.8 704.8,293.4 704.9,297.2 704.9,297.9 705,291.7 705.1,295.4 705.1,295 705.2,296.4 705.2,293.4 705.3,293.1 705.4,298.3 705.4,299 705.5,302.9 705.6,296.6 705.6,295.4 705.7,292.1 705.7,297.1 705.8,294.7 705.9,297.5 705.9,299 706,299.9 706.1,298.4 706.1,294.3 706.2,295.8 706.2,300.4 706.3,294 706.4,296.1 706.4,299.2 706.5,300 706.6,294 706.6,296.6 706.7,297.3 706.7,294.8 706.8,301.1 706.9,297.4 706.9,293 707,298.5 707.1,296.3 707.1,293.7 707.2,295.4 707.2,296.9 707.3,299.1 707.4,297.6 707.4,297.8 707.5,294.6 707.6,300.1 707.6,297.7 707.7,296.5 707.7,294.1 707.8,296.6 707.9,296.6 707.9,295.9 708,298.9 708.1,291.3 708.1,300.3 708.2,297 708.2,298.5 708.3,295.7 708.4,294.9 708.4,293.8 708.5,297.7 708.6,299.4 708.6,299.8 708.7,295.8 708.7,294.9 708.8,291 708.9,295.6 708.9,297.7 709,294.1 709.1,299.6 709.1,292.4 709.2,295.7 709.2,295.8 709.3,298.5 709.4,295.7 709.4,293.9 709.5,295.2 709.6,296.2 709.6,297.3 709.7,298.9 709.7,301 709.8,293.4 709.9,296 709.9,298.6 710,295.9 710.1,296.4 710.1,298.2 710.2,299.3 710.2,293.5 710.3,296.8 710.4,299.9 710.4,299.4 710.5,299.5 710.6,296.8 710.6,298.4 710.7,294.3 710.7,297.4 710.8,299.3 710.9,296.6 710.9,299 711,298.4 711.1,298.4 711.1,300.5 711.2,298.2 711.2,296.1 711.3,296.2 711.4,296.2 711.4,294.8 711.5,294.6 711.6,294.1 711.6,299.2 711.7,295.8 711.7,296.4 711.8,297.8 711.9,292.7 711.9,298.6 712,296.7 712.1,292.4 712.1,296.5 712.2,296.7 712.2,298.8 712.3,293.4 712.4,297.3 712.4,295.3 712.5,297 712.6,294.6 712.6,297.1 712.7,299.5 712.7,300.6 712.8,290.9 712.9,298.3 712.9,294 713,290.8 713.1,300.6 713.1,298.7 713.2,295.4 713.2,298.9 713.3,298.6 713.4,299.6 713.4,297.4 713.5,296.1 713.6,295.2 713.6,298.2 713.7,297.2 713.7,297.2 713.8,296.4 713.9,297.5 713.9,295.4 714,301.9 714.1,296.2 714.1,295.8 714.2,295.1 714.2,297.6 714.3,294.8 714.4,295.7 714.4,296 714.5,298.7 714.6,300.9 714.6,292.4 714.7,296.3 714.7,295.4 714.8,300.5 714.9,296.5 714.9,297.7 715,297.9 715.1,291.9 715.1,300.8 715.2,297.1 715.2,296.7 715.3,291.8 715.4,295.4 715.4,297.5 715.5,297.5 715.6,304.4 715.6,296.1 715.7,291.2 715.7,297.3 715.8,298.8 715.9,294 715.9,291.9 716,288.7 716.1,294.3 716.1,298 716.2,294 716.2,300.5 716.3,299 716.4,301.5 716.4,293.6 716.5,297.6 716.6,294.5 716.6,294.4 716.7,296.7 716.7,297.5 716.8,296.5 716.9,295.7 716.9,299.4 717,294.2 717.1,299.4 717.1,297.3 717.2,296.2 717.2,298.2 717.3,294.3 717.4,298.6 717.4,294.7 717.5,296.4 717.6,294.8 717.6,292.7 717.7,298.7 717.7,299.7 717.8,293.2 717.9,293.5 717.9,294.8 718,296.9 718.1,294.6 718.1,299.8 718.2,296.5 718.2,296.9 718.3,294.1 718.4,297.9 718.4,287.9 718.5,279.5 718.6,276.1 718.6,261.9 718.7,257 718.7,241.5 718.8,249.3 718.9,261.6 718.9,273.1 719,282.8 719.1,286.1 719.1,294.9 719.2,296.8 719.2,298.7 719.3,291.4 719.4,290.2 719.4,296.8 719.5,292.1 719.6,300.1 719.6,294.5 719.7,298.5 719.7,296.7 719.8,293.5 719.9,293.6 719.9,295.8 720,296.9 720.1,294.9 720.1,299.9 720.2,295 720.3,297.8 720.3,296.5 720.4,294.8 720.4,296.8 720.5,300.7 720.6,298.8 720.6,297.7 720.7,299 720.8,295.7 720.8,297.3 720.9,297.8 720.9,296.9 721,298.7 721.1,296.6 721.1,295.2 721.2,298.9 721.3,296 721.3,295.2 721.4,294.6 721.4,294.5 721.5,293 721.6,300.8 721.6,296.6 721.7,297.6 721.8,297.8 721.8,298 721.9,295.7 721.9,295.7 722,296.4 722.1,299.1 722.1,296.7 722.2,299.8 722.3,301.9 722.3,294.3 722.4,297 722.4,295.8 722.5,296 722.6,300.9 722.6,298.1 722.7,297 722.8,296.7 722.8,301.3 722.9,296.7 722.9,298.7 723,299 723.1,294.4 723.1,300.9 723.2,291.9 723.3,298.6 723.3,297 723.4,299.2 723.4,298.1 723.5,302.5 723.6,294.3 723.6,299.6 723.7,300.3 723.8,300.5 723.8,302.1 723.9,292.3 723.9,296 724,296.1 724.1,299.6 724.1,297 724.2,294.4 724.3,299.3 724.3,298.5 724.4,300.5 724.4,299.9 724.5,298.6 724.6,298.5 724.6,300.7 724.7,298.9 724.8,295.6 724.8,301.1 724.9,298.8 724.9,301.3 725,297.6 725.1,293.5 725.1,298.5 725.2,292 725.3,300.7 725.3,298.6 725.4,300.4 725.4,296.5 725.5,299.6 725.6,298.2 725.6,298.8 725.7,297.8 725.8,299.3 725.8,298.6 725.9,298.1 725.9,297.6 726,298.8 726.1,298.2 726.1,301.8 726.2,297.7 726.3,296.6 726.3,296.6 726.4,299 726.4,295.6 726.5,299.1 726.6,296 726.6,297.8 726.7,298.5 726.8,293.4 726.8,300.7 726.9,300.9 726.9,301.3 727,298.5 727.1,300.7 727.1,297.5 727.2,297.1 727.3,301.1 727.3,300.4 727.4,299.8 727.4,305.1 727.5,299.1 727.6,294.9 727.6,298.9 727.7,293.2 727.8,295.1 727.8,296.8 727.9,296.9 727.9,299.5 728,295.6 728.1,298.6 728.1,296.1 728.2,298.2 728.3,296.2 728.3,299.5 728.4,295.7 728.4,303.1 728.5,301.8 728.6,300 728.6,298.1 728.7,303.5 728.8,296.8 728.8,301.4 728.9,298.8 728.9,301.4 729,298.2 729.1,297.7 729.1,297.1 729.2,298.7 729.3,299.6 729.3,297.4 729.4,298 729.4,296.6 729.5,299.4 729.6,298.5 729.6,296.2 729.7,300.5 729.8,297.1 729.8,297.1 729.9,298.5 729.9,304 730,298.5 730.1,297.9 730.1,298.2 730.2,295.2 730.3,300.6 730.3,295.5 730.4,292 730.4,295.9 730.5,295.3 730.6,296.5 730.6,302.7 730.7,298.3 730.8,300.1 730.8,297.2 730.9,301.2 730.9,294.1 731,299 731.1,300.1 731.1,300.1 731.2,297.1 731.3,293.6 731.3,294.8 731.4,294.6 731.4,302.6 731.5,298.9 731.6,298.2 731.6,296.8 731.7,297.3 731.8,300.1 731.8,297.9 731.9,293.5 731.9,299.2 732,300 732.1,297.5 732.1,299.8 732.2,296.3 732.3,299.1 732.3,297.7 732.4,296.3 732.4,301.2 732.5,296.3 732.6,298.2 732.6,301.8 732.7,296.6 732.8,302.3 732.8,295.8 732.9,298.2 732.9,300 733,298.6 733.1,300.6 733.1,296.7 733.2,298.8 733.3,298.1 733.3,296.2 733.4,297.1 733.4,297.6 733.5,296.5 733.6,300.4 733.6,297.1 733.7,301.9 733.8,299.6 733.8,299.9 733.9,296.8 733.9,299.6 734,297.5 734.1,298.7 734.1,302.7 734.2,302 734.3,300.3 734.3,298.6 734.4,300.5 734.4,297.8 734.5,296.9 734.6,296.1 734.6,297.4 734.7,295.7 734.8,301 734.8,298.9 734.9,298.3 734.9,298.5 735,296.2 735.1,297.1 735.1,294.8 735.2,296.4 735.3,298.5 735.3,299.7 735.4,299.9 735.4,298.7 735.5,300 735.6,295.5 735.6,299.1 735.7,298.1 735.8,295.3 735.8,297.1 735.9,296.3 736,300.7 736,300.9 736.1,298.7 736.1,302 736.2,298.2 736.3,300.4 736.3,298.8 736.4,298.3 736.5,295.9 736.5,300.9 736.6,297.7 736.6,296 736.7,297.4 736.8,296 736.8,299.2 736.9,297.9 737,301.4 737,295.3 737.1,298.7 737.1,295.8 737.2,296.4 737.3,292.4 737.3,299.8 737.4,299.4 737.5,299.9 737.5,298.7 737.6,298.9 737.6,297.1 737.7,302 737.8,299.8 737.8,294.6 737.9,294.2 738,300.7 738,296.2 738.1,301.1 738.1,301 738.2,298.1 738.3,300 738.3,297.6 738.4,299.1 738.5,298 738.5,301.5 738.6,297.3 738.6,299.3 738.7,293.6 738.8,294 738.8,301.5 738.9,302.2 739,300.3 739,297.1 739.1,297.3 739.1,296.5 739.2,296.8 739.3,296 739.3,298 739.4,296.1 739.5,299.9 739.5,295.8 739.6,296.5 739.6,300.8 739.7,300.4 739.8,297.2 739.8,296.7 739.9,300.3 740,296.4 740,297 740.1,300.5 740.1,299.3 740.2,300.7 740.3,298.9 740.3,297.5 740.4,293.8 740.5,300 740.5,298.7 740.6,301.1 740.6,297.6 740.7,299.6 740.8,295.6 740.8,297.2 740.9,298.9 741,297.1 741,299.6 741.1,292.3 741.1,298.1 741.2,298.9 741.3,298.5 741.3,294.2 741.4,299 741.5,299.7 741.5,302.6 741.6,300.1 741.6,292.8 741.7,297.8 741.8,298.6 741.8,296.7 741.9,300.7 742,297.8 742,297 742.1,296.9 742.1,298.7 742.2,299.9 742.3,295.9 742.3,297.1 742.4,302.6 742.5,298.7 742.5,300 742.6,300.9 742.6,295.8 742.7,300.2 742.8,300.9 742.8,299.6 742.9,301.6 743,296.4 743,303.4 743.1,296.5 743.1,302.3 743.2,301 743.3,295.9 743.3,295.3 743.4,297.5 743.5,295.5 743.5,298.5 743.6,297.8 743.6,297.1 743.7,301 743.8,299.3 743.8,295.3 743.9,297.4 744,298.9 744,299.2 744.1,294 744.1,293.6 744.2,298.3 744.3,298.9 744.3,296.5 744.4,297.6 744.5,297.2 744.5,297 744.6,295.8 744.6,298.2 744.7,298.3 744.8,297.3 744.8,294.2 744.9,297.9 745,300 745,296.6 745.1,298.4 745.1,297.4 745.2,296 745.3,304 745.3,297.6 745.4,297.6 745.5,293.7 745.5,302.1 745.6,301.2 745.6,295 745.7,302.3 745.8,300.4 745.8,300.5 745.9,300.3 746,297.9 746,298.8 746.1,299.2 746.1,296.7 746.2,292.3 746.3,300.4 746.3,297 746.4,299.7 746.5,299.5 746.5,297.9 746.6,294.5 746.6,301.7 746.7,295 746.8,300.2 746.8,298.5 746.9,300.5 747,295.8 747,294 747.1,295.4 747.1,296.4 747.2,295.2 747.3,295.2 747.3,297.8 747.4,296.8 747.5,294.8 747.5,303.5 747.6,296 747.6,297.4 747.7,292.7 747.8,298 747.8,300.5 747.9,297.5 748,300.5 748,300.7 748.1,295.4 748.1,297.3 748.2,300.3 748.3,298.5 748.3,299.4 748.4,294.8 748.5,302.4 748.5,295.9 748.6,298.6 748.6,298.7 748.7,301.6 748.8,297.7 748.8,297.3 748.9,301.6 749,303.4 749,299.1 749.1,301 749.1,296.7 749.2,298.6 749.3,297.1 749.3,298.4 749.4,297.5 749.5,299.7 749.5,298.1 749.6,300.5 749.6,295.5 749.7,299.2 749.8,298 749.8,299.4 749.9,296.9 750,299.5 750,298 750.1,299.8 750.1,297 750.2,297.6 750.3,298.4 750.3,298.1 750.4,298.1 750.5,297.4 750.5,297.6 750.6,295.6 750.6,296.5 750.7,295.2 750.8,298.5 750.8,295.9 750.9,301.2 751,297.8 751,299 751.1,297.9 751.1,299.5 751.2,300.5 751.3,296.7 751.3,295.5 751.4,295 751.5,298.1 751.5,299.2 751.6,295 751.7,295.5 751.7,296.5 751.8,298.2 751.8,298.1 751.9,299.2 752,298.3 752,297 752.1,299.7 752.2,297.3 752.2,296 752.3,299.9 752.3,300.3 752.4,299 752.5,301.3 752.5,295 752.6,298.3 752.7,301 752.7,293.6 752.8,300 752.8,297.7 752.9,294.6 753,298 753,299.1 753.1,298.9 753.2,296.9 753.2,298.6 753.3,300.7 753.3,299.8 753.4,300.2 753.5,297.2 753.5,300 753.6,300.2 753.7,299.3 753.7,296.4 753.8,300.5 753.8,298.2 753.9,300.4 754,294.1 754,302.1 754.1,304.3 754.2,296.7 754.2,294.5 754.3,299.7 754.3,299.5 754.4,302.2 754.5,298.4 754.5,299.8 754.6,298.6 754.7,299.1 754.7,294.2 754.8,297.2 754.8,297.5 754.9,299.5 755,301.1 755,296.6 755.1,300 755.2,301.1 755.2,292.8 755.3,299.2 755.3,294.8 755.4,296.2 755.5,296.9 755.5,300.8 755.6,297.7 755.7,293.9 755.7,297.1 755.8,294.6 755.8,299 755.9,296.2 756,302.8 756,293.8 756.1,298.9 756.2,299.1 756.2,297.7 756.3,298.7 756.3,297.6 756.4,303.2 756.5,298.3 756.5,296.9 756.6,299.2 756.7,299.2 756.7,299.6 756.8,297.7 756.8,299.6 756.9,295.9 757,296.3 757,295.8 757.1,298.7 757.2,302.6 757.2,298.2 757.3,301.2 757.3,300.1 757.4,300.2 757.5,298.9 757.5,300.8 757.6,297.4 757.7,297 757.7,296.8 757.8,296.2 757.8,295.5 757.9,301.1 758,297.3 758,301 758.1,295.8 758.2,298 758.2,299.1 758.3,294.1 758.3,296.8 758.4,296.9 758.5,291.4 758.5,299.1 758.6,296.6 758.7,295.3 758.7,297.3 758.8,298.8 758.8,298.6 758.9,298.2 759,298.9 759,303.1 759.1,297.4 759.2,293.7 759.2,297.1 759.3,298 759.3,300.1 759.4,299.1 759.5,299.1 759.5,300.5 759.6,304 759.7,298.4 759.7,297.8 759.8,296 759.8,297.9 759.9,302.4 760,304.4 760,294.6 760.1,300.5 760.2,300.9 760.2,300.6 760.3,299 760.3,299 760.4,297.4 760.5,300.3 760.5,294.9 760.6,293.2 760.7,297.8 760.7,299.1 760.8,298.7 760.8,298.3 760.9,297.3 761,300 761,301.4 761.1,297 761.2,298.3 761.2,298.8 761.3,299.9 761.3,299.4 761.4,300.1 761.5,294.1 761.5,299.6 761.6,301.6 761.7,298.3 761.7,295.9 761.8,300.8 761.8,298.4 761.9,302.6 762,297.6 762,297.8 762.1,297.1 762.2,301.1 762.2,298.4 762.3,297.1 762.3,299.7 762.4,296.7 762.5,298.2 762.5,300 762.6,297.5 762.7,297.3 762.7,296.7 762.8,299.3 762.8,297.1 762.9,297.2 763,294.6 763,299.7 763.1,293.4 763.2,298.5 763.2,297.7 763.3,296.1 763.3,294.2 763.4,302.9 763.5,300.3 763.5,300 763.6,297.3 763.7,300.3 763.7,296.9 763.8,298.3 763.8,303.9 763.9,299.2 764,302.1 764,299.4 764.1,295.9 764.2,293.4 764.2,298 764.3,295.2 764.3,300.1 764.4,299.3 764.5,296.4 764.5,300 764.6,299.2 764.7,299.6 764.7,297.9 764.8,296.2 764.8,302.9 764.9,299.6 765,302.8 765,295.7 765.1,299.3 765.2,294.8 765.2,297.4 765.3,300.1 765.3,297.4 765.4,298.4 765.5,295.2 765.5,296.9 765.6,299.7 765.7,300.3 765.7,299.3 765.8,296.8 765.8,300.5 765.9,297.3 766,298.4 766,296.2 766.1,298.7 766.2,297.7 766.2,300.5 766.3,299.2 766.3,293.6 766.4,299.2 766.5,299 766.5,300.2 766.6,300 766.7,295.5 766.7,298.5 766.8,300.9 766.8,300.2 766.9,295.7 767,298 767,295.5 767.1,299.1 767.2,298.2 767.2,296.4 767.3,299.3 767.4,295.9 767.4,298.8 767.5,295.5 767.5,297.6 767.6,297.3 767.7,296 767.7,297.2 767.8,297.3 767.9,296.5 767.9,297.5 768,296 768,298.3 768.1,298.5 768.2,299.5 768.2,293.9 768.3,292.8 768.4,296.6 768.4,296.6 768.5,296.9 768.5,294.6 768.6,299.7 768.7,298.2 768.7,295.7 768.8,299.8 768.9,295.7 768.9,294.4 769,297.3 769,302.3 769.1,296.5 769.2,297.2 769.2,297.2 769.3,296.6 769.4,301.2 769.4,300.7 769.5,295.9 769.5,296.5 769.6,297.6 769.7,295 769.7,293.1 769.8,294.1 769.9,301 769.9,303.8 770,303.9 770,298.7 770.1,296.3 770.2,295 770.2,301 770.3,297.3 770.4,301.6 770.4,298.4 770.5,298.6 770.5,298.9 770.6,296.2 770.7,297.1 770.7,299.7 770.8,300.6 770.9,300.5 770.9,300.2 771,297.3 771,299.1 771.1,296 771.2,299.6 771.2,298.2 771.3,297.4 771.4,299.7 771.4,298.7 771.5,297.8 771.5,299.2 771.6,295 771.7,301.6 771.7,300.6 771.8,299.3 771.9,299.8 771.9,294.1 772,298.7 772,298.7 772.1,301.4 772.2,297.8 772.2,299.8 772.3,296.5 772.4,298.3 772.4,299 772.5,297.6 772.5,297.5 772.6,296.5 772.7,298.2 772.7,298.9 772.8,297.4 772.9,298.5 772.9,292.7 773,297 773,298.7 773.1,298 773.2,297.5 773.2,296.7 773.3,298.5 773.4,298.8 773.4,298.4 773.5,295.5 773.5,296.3 773.6,298.1 773.7,298.8 773.7,299.5 773.8,295.5 773.9,295.8 773.9,297.7 774,300.1 774,293.8 774.1,296.7 774.2,299 774.2,298 774.3,300.2 774.4,297.8 774.4,297.3 774.5,296.6 774.5,296 774.6,297 774.7,295.2 774.7,297.3 774.8,297.2 774.9,295.2 774.9,297.6 775,296.3 775,297.8 775.1,296.9 775.2,298.3 775.2,297.3 775.3,298.6 775.4,297.4 775.4,296.3 775.5,294.8 775.5,296.7 775.6,300.2 775.7,295.6 775.7,295.8 775.8,297.8 775.9,300.6 775.9,295.3 776,300.2 776,296.1 776.1,298 776.2,299.9 776.2,296.6 776.3,296.8 776.4,297.3 776.4,296.8 776.5,295.7 776.5,296.9 776.6,298.8 776.7,299.3 776.7,298.9 776.8,296.8 776.9,298.3 776.9,296.7 777,296.5 777,297.8 777.1,295.6 777.2,298 777.2,295.4 777.3,296.9 777.4,297 777.4,295.7 777.5,294 777.5,299.8 777.6,299.4 777.7,296 777.7,300.2 777.8,295.6 777.9,295.5 777.9,301 778,296.4 778,295.9 778.1,300.6 778.2,299.9 778.2,297.7 778.3,298.3 778.4,295.2 778.4,294.8 778.5,296.7 778.5,299.5 778.6,293.2 778.7,296.5 778.7,297.7 778.8,298.9 778.9,298.5 778.9,298.5 779,302.1 779,295.8 779.1,298 779.2,298.5 779.2,295 779.3,297.5 779.4,298.2 779.4,299.9 779.5,296.5 779.5,296.4 779.6,301.4 779.7,299.3 779.7,299.8 779.8,300.6 779.9,296 779.9,299.4 780,296.7 780,298.8 780.1,301.1 780.2,294.7 780.2,298.6 780.3,298.1 780.4,298 780.4,296.8 780.5,297.7 780.5,297.2 780.6,298 780.7,299.3 780.7,298.3 780.8,297.2 780.9,298 780.9,300.2 781,298.1 781,298.5 781.1,295.8 781.2,294.4 781.2,300.7 781.3,297.8 781.4,300.6 781.4,300.6 781.5,297.4 781.5,297.1 781.6,298.1 781.7,292.4 781.7,296.7 781.8,299.1 781.9,297.2 781.9,297 782,296.1 782,298 782.1,297.4 782.2,295.9 782.2,292.2 782.3,294.2 782.4,300.6 782.4,297.5 782.5,295.6 782.5,294.8 782.6,300.2 782.7,298.4 782.7,293.6 782.8,293.9 782.9,291.6 782.9,298.3 783,299.2 783.1,295.6 783.1,300 783.2,296.9 783.2,300.7 783.3,293.3 783.4,296.2 783.4,296.4 783.5,297.5 783.6,292.5 783.6,299.4 783.7,293.9 783.7,299.2 783.8,297.5 783.9,298.6 783.9,295.2 784,298.4 784.1,296.9 784.1,299.1 784.2,297.2 784.2,297.6 784.3,301.7 784.4,297.4 784.4,299.1 784.5,299.5 784.6,295.2 784.6,300.5 784.7,299.2 784.7,295.1 784.8,298.1 784.9,301.1 784.9,295.8 785,295.8 785.1,296.8 785.1,297.6 785.2,300 785.2,298.6 785.3,298.8 785.4,297.1 785.4,298.9 785.5,295.4 785.6,294 785.6,297.7 785.7,294.9 785.7,296.4 785.8,302.5 785.9,298.5 785.9,293.4 786,298.6 786.1,295 786.1,299.8 786.2,294.7 786.2,301.2 786.3,296.7 786.4,298.9 786.4,297.9 786.5,297.8 786.6,299.8 786.6,297.2 786.7,296.7 786.7,299.3 786.8,296.6 786.9,296.1 786.9,294.3 787,299 787.1,298.1 787.1,298.1 787.2,298.1 787.2,299.1 787.3,297.8 787.4,301.4 787.4,296.3 787.5,299.6 787.6,292.9 787.6,296.9 787.7,296.9 787.7,294.5 787.8,294.9 787.9,295.4 787.9,297.5 788,295.9 788.1,299.8 788.1,297.4 788.2,296.2 788.2,302.5 788.3,298.7 788.4,296.5 788.4,293 788.5,301 788.6,297.3 788.6,295.7 788.7,299.8 788.7,296.3 788.8,297 788.9,299.7 788.9,297.9 789,300.1 789.1,300 789.1,296.9 789.2,296.3 789.2,297.9 789.3,295.5 789.4,297.4 789.4,296.9 789.5,300.3 789.6,296.8 789.6,294.4 789.7,293.5 789.7,299.9 789.8,299.5 789.9,293 789.9,297.2 790,297 790.1,294.6 790.1,297.9 790.2,296.9 790.2,299.3 790.3,296.5 790.4,296.9 790.4,297.2 790.5,293.4 790.6,297.8 790.6,296.9 790.7,297 790.7,293.1 790.8,296.9 790.9,293.1 790.9,301.7 791,300.1 791.1,297 791.1,295.1 791.2,292.9 791.2,300.8 791.3,296.8 791.4,296.5 791.4,293.9 791.5,299.2 791.6,297 791.6,294 791.7,299.7 791.7,295.9 791.8,301.9 791.9,299.7 791.9,298.8 792,297.7 792.1,296.9 792.1,295.5 792.2,297 792.2,297.2 792.3,296.7 792.4,296.1 792.4,298.2 792.5,298.2 792.6,301.9 792.6,298.7 792.7,296.6 792.7,297 792.8,300.1 792.9,302.2 792.9,297.1 793,294.8 793.1,298 793.1,297.9 793.2,294.5 793.2,294.8 793.3,301.1 793.4,295.7 793.4,298.7 793.5,297.4 793.6,297.5 793.6,296.8 793.7,295.6 793.7,296.3 793.8,294.4 793.9,297.8 793.9,303.7 794,296.7 794.1,299.1 794.1,297.6 794.2,301.3 794.2,300.5 794.3,298.9 794.4,295.8 794.4,296.8 794.5,300 794.6,297.5 794.6,300 794.7,295.3 794.7,294.7 794.8,300.2 794.9,299.2 794.9,297.6 795,295.8 795.1,296.6 795.1,294.9 795.2,296.1 795.2,295.9 795.3,294.8 795.4,302 795.4,294.1 795.5,296.6 795.6,301.1 795.6,296.3 795.7,300 795.7,298.5 795.8,296 795.9,298 795.9,295.4 796,297.1 796.1,297.1 796.1,298.4 796.2,299.4 796.2,299 796.3,296.4 796.4,298.7 796.4,297.7 796.5,295.8 796.6,300.1 796.6,295.1 796.7,297 796.7,303.8 796.8,298.5 796.9,300.3 796.9,298.1 797,298.6 797.1,298.7 797.1,297.3 797.2,296 797.2,300.5 797.3,300.9 797.4,297.9 797.4,296.7 797.5,298.1 797.6,293.7 797.6,299.5 797.7,296.6 797.7,297.8 797.8,297.3 797.9,296.2 797.9,295.3 798,297.4 798.1,296.5 798.1,294.7 798.2,300 798.2,296.9 798.3,298 798.4,298.8 798.4,298.8 798.5,299.2 798.6,295.2 798.6,295.2 798.7,296.8 798.8,298.8 798.8,299.4 798.9,296.1 798.9,297.7 799,296.9 799.1,295.8 799.1,292.8 799.2,296.9 799.3,297 799.3,297.5 799.4,299.9 799.4,299.4 799.5,297.4 799.6,296.1 799.6,296.3 799.7,293.3 799.8,294.9 799.8,296.4 799.9,297.3 799.9,300.1 800,292.7 800.1,295.6 800.1,298.4 800.2,298.6 800.3,297.1 800.3,297.8 800.4,296.6 800.4,296.2 800.5,300.7 800.6,299.2 800.6,296 800.7,296.4 800.8,292.9 800.8,297.7 800.9,296 800.9,299.8 801,294.3 801.1,294.9 801.1,299.1 801.2,296 801.3,293.7 801.3,295.3 801.4,298.4 801.4,298 801.5,299.9 801.6,300.7 801.6,296.3 801.7,297.1 801.8,294 801.8,298.4 801.9,295.3 801.9,300 802,294.4 802.1,296.3 802.1,296.8 802.2,297.4 802.3,298.8 802.3,297.9 802.4,299.7 802.4,298.8 802.5,298.1 802.6,291.8 802.6,297.3 802.7,296.5 802.8,297.8 802.8,298.8 802.9,299.3 802.9,295.5 803,298.1 803.1,298.1 803.1,299.9 803.2,297 803.3,294.6 803.3,300.1 803.4,295.6 803.4,293.8 803.5,299.5 803.6,295.2 803.6,297 803.7,293.9 803.8,297.2 803.8,294.4 803.9,295.9 803.9,298.2 804,298.8 804.1,294.5 804.1,302.3 804.2,296.4 804.3,303.3 804.3,297.8 804.4,300.2 804.4,294.9 804.5,299.2 804.6,298.3 804.6,295.5 804.7,295.3 804.8,294.5 804.8,294.6 804.9,291.1 804.9,299.4 805,300.3 805.1,296.7 805.1,299.2 805.2,294.7 805.3,294.5 805.3,296.9 805.4,294.7 805.4,296.2 805.5,296.4 805.6,301.1 805.6,294.3 805.7,300 805.8,297.1 805.8,294.8 805.9,297.9 805.9,292.7 806,297 806.1,296.5 806.1,298.4 806.2,294.7 806.3,299.9 806.3,301.3 806.4,298.7 806.4,297.3 806.5,296.5 806.6,294.4 806.6,298.4 806.7,296.7 806.8,294.8 806.8,297.5 806.9,294.3 806.9,297.8 807,297.7 807.1,300.4 807.1,298.3 807.2,294.7 807.3,298.2 807.3,297.2 807.4,297.6 807.4,296.9 807.5,296.3 807.6,298.8 807.6,294.3 807.7,297.3 807.8,295.9 807.8,294.5 807.9,296.5 807.9,297 808,298.4 808.1,300.8 808.1,296.1 808.2,299.4 808.3,296.2 808.3,297.3 808.4,298.3 808.4,296.9 808.5,298.4 808.6,296.4 808.6,303.5 808.7,298.4 808.8,300.7 808.8,294.7 808.9,298.3 808.9,297.7 809,296.9 809.1,295.3 809.1,295.8 809.2,296.3 809.3,297.9 809.3,298.4 809.4,296.8 809.4,297.8 809.5,300.1 809.6,302.8 809.6,297.5 809.7,295 809.8,300 809.8,295.1 809.9,291.4 809.9,299.4 810,296.8 810.1,296.1 810.1,291.8 810.2,296.9 810.3,298.6 810.3,295.5 810.4,297.2 810.4,299.1 810.5,297.9 810.6,300.2 810.6,295.8 810.7,296.3 810.8,296.3 810.8,300.1 810.9,297.3 810.9,296.3 811,300.2 811.1,296.4 811.1,300.1 811.2,295.3 811.3,295.4 811.3,302 811.4,298.6 811.4,298.5 811.5,295.5 811.6,298.6 811.6,298.1 811.7,300.1 811.8,296.4 811.8,296 811.9,298.8 811.9,298 812,302.9 812.1,297.6 812.1,296.3 812.2,297.3 812.3,296.4 812.3,300 812.4,295.6 812.4,299.5 812.5,292.2 812.6,297.5 812.6,298.6 812.7,299 812.8,295.3 812.8,299.5 812.9,296.9 812.9,295.1 813,296 813.1,297 813.1,293.5 813.2,299.6 813.3,299.5 813.3,294.7 813.4,300.3 813.4,299.3 813.5,296.4 813.6,296.1 813.6,295.6 813.7,297.7 813.8,294.5 813.8,298 813.9,296.3 813.9,297.3 814,301 814.1,295.9 814.1,296.6 814.2,299 814.3,297.1 814.3,300.7 814.4,295.4 814.5,297.9 814.5,294.4 814.6,296.8 814.6,292.6 814.7,295.7 814.8,297 814.8,295.6 814.9,293.9 815,296.2 815,300.4 815.1,298 815.1,295.8 815.2,298.6 815.3,294.4 815.3,295.9 815.4,298 815.5,294.7 815.5,299.4 815.6,297.3 815.6,293.7 815.7,296.5 815.8,293.7 815.8,298.5 815.9,296.6 816,297.3 816,298.1 816.1,293.6 816.1,294 816.2,294.7 816.3,299.4 816.3,297.6 816.4,298.2 816.5,300.5 816.5,294.2 816.6,296.9 816.6,299.9 816.7,296.3 816.8,299 816.8,296.2 816.9,298 817,294.2 817,299.1 817.1,299.5 817.1,296.1 817.2,295.8 817.3,295.6 817.3,297 817.4,298.3 817.5,299.5 817.5,298.2 817.6,294.2 817.6,296.3 817.7,298.2 817.8,295 817.8,293.7 817.9,297.9 818,296 818,295.6 818.1,297 818.1,297.7 818.2,295.5 818.3,295.1 818.3,300.7 818.4,295.5 818.5,296.7 818.5,298.7 818.6,295.9 818.6,296.7 818.7,296.5 818.8,296.6 818.8,297.6 818.9,295.4 819,295.1 819,295.4 819.1,300.2 819.1,294.8 819.2,296.8 819.3,297.1 819.3,296.8 819.4,296.6 819.5,296.8 819.5,293.4 819.6,292.8 819.6,296.1 819.7,300.1 819.8,297.4 819.8,299.3 819.9,298.3 820,294.8 820,299.8 820.1,296.2 820.1,297.1 820.2,298 820.3,293.4 820.3,296 820.4,300.7 820.5,299.3 820.5,296.7 820.6,299.6 820.6,297.9 820.7,292.4 820.8,297.9 820.8,298.1 820.9,293.4 821,298.5 821,294.6 821.1,299.7 821.1,298.3 821.2,300.3 821.3,296.3 821.3,290.3 821.4,298.1 821.5,293.9 821.5,295.7 821.6,299.1 821.6,296.2 821.7,297.3 821.8,299 821.8,296.1 821.9,295.1 822,292.2 822,299 822.1,295.9 822.1,293 822.2,286.8 822.3,279.2 822.3,267 822.4,248.8 822.5,225.9 822.5,195.6 822.6,167.4 822.6,136.9 822.7,117.2 822.8,110.1 822.8,114.9 822.9,136.3 823,163.7 823,193.5 823.1,222.4 823.1,250.2 823.2,270.1 823.3,279.1 823.3,287.2 823.4,291.8 823.5,295.8 823.5,297.1 823.6,294.7 823.6,291 823.7,292 823.8,300 823.8,296.5 823.9,297.6 824,297 824,295.4 824.1,297.2 824.1,295.8 824.2,295.3 824.3,299.7 824.3,294.3 824.4,294.5 824.5,296.7 824.5,296.5 824.6,299.1 824.6,297 824.7,295.4 824.8,291.8 824.8,294.6 824.9,293.5 825,295.7 825,298.1 825.1,295.7 825.1,297.4 825.2,296.7 825.3,298.2 825.3,295.8 825.4,295.6 825.5,296 825.5,297.7 825.6,297 825.6,295.4 825.7,296 825.8,297.5 825.8,294.1 825.9,293.1 826,295.8 826,299.2 826.1,290.4 826.1,296.2 826.2,292.9 826.3,292.7 826.3,298 826.4,297.2 826.5,296.4 826.5,294.2 826.6,296 826.6,292.4 826.7,295.1 826.8,299.8 826.8,296.7 826.9,296 827,294.3 827,294.6 827.1,289.4 827.1,289.9 827.2,296.3 827.3,297.6 827.3,296.4 827.4,293.5 827.5,290.7 827.5,295.5 827.6,294.8 827.6,294.3 827.7,293.1 827.8,295 827.8,294.7 827.9,293.9 828,294.7 828,292.8 828.1,291 828.1,296.4 828.2,292.4 828.3,296.3 828.3,294.3 828.4,292.6 828.5,293.4 828.5,294.7 828.6,294.9 828.6,296.7 828.7,295.1 828.8,292.9 828.8,292.2 828.9,295.8 829,292.6 829,297.7 829.1,294.1 829.1,292.3 829.2,295.2 829.3,291.2 829.3,289.8 829.4,295.3 829.5,295.9 829.5,294.3 829.6,294 829.6,296.5 829.7,294.4 829.8,292.6 829.8,293.2 829.9,298.8 830,293.4 830,294 830.1,293.5 830.2,294.9 830.2,299.2 830.3,296.1 830.3,294.5 830.4,294.6 830.5,294.1 830.5,296 830.6,292.1 830.7,290.3 830.7,290.5 830.8,291.3 830.8,293.3 830.9,291.6 831,295.4 831,293.7 831.1,294.4 831.2,294.9 831.2,292.4 831.3,293 831.3,292.2 831.4,296.9 831.5,290.6 831.5,297.5 831.6,293 831.7,292 831.7,292.5 831.8,291.4 831.8,293.6 831.9,295.8 832,294 832,292.7 832.1,292.1 832.2,291.3 832.2,297 832.3,297.2 832.3,289.3 832.4,292.8 832.5,290.9 832.5,290.1 832.6,292 832.7,292.8 832.7,295.6 832.8,295.9 832.8,289.3 832.9,291.8 833,292.1 833,290.5 833.1,293.6 833.2,293 833.2,289.8 833.3,292.4 833.3,287.9 833.4,292.1 833.5,291.4 833.5,296.9 833.6,290.4 833.7,291.4 833.7,291.9 833.8,290.9 833.8,290.6 833.9,290 834,293 834,290.2 834.1,294.7 834.2,288.4 834.2,293.1 834.3,293.1 834.3,295.1 834.4,294.3 834.5,288.3 834.5,289.7 834.6,291 834.7,291.7 834.7,292.2 834.8,290.8 834.8,286.7 834.9,289.5 835,291.7 835,292 835.1,291 835.2,289.6 835.2,290.6 835.3,287.5 835.3,293.3 835.4,292.1 835.5,290.5 835.5,291.7 835.6,291.9 835.7,292.6 835.7,292.8 835.8,290.8 835.8,291.4 835.9,293.2 836,292.4 836,290.5 836.1,293.7 836.2,294.5 836.2,290.3 836.3,287.2 836.3,290.9 836.4,294.8 836.5,291.9 836.5,295.2 836.6,295.6 836.7,292.6 836.7,295.9 836.8,294.1 836.8,289 836.9,290.2 837,292.8 837,292.4 837.1,290.4 837.2,285.5 837.2,284.6 837.3,283.1 837.3,279.6 837.4,281.1 837.5,283.1 837.5,284.1 837.6,285.1 837.7,287.8 837.7,290 837.8,289.7 837.8,290.3 837.9,291.6 838,291.6 838,290 838.1,290.8 838.2,289.4 838.2,291.2 838.3,292.6 838.3,291.8 838.4,290 838.5,289.9 838.5,292 838.6,293.7 838.7,288.2 838.7,288.7 838.8,286.8 838.8,290.7 838.9,292.5 839,288.8 839,287.2 839.1,291.8 839.2,292.2 839.2,289.4 839.3,291.9 839.3,291.5 839.4,290.5 839.5,291.3 839.5,290.4 839.6,293.1 839.7,293.7 839.7,290.2 839.8,288 839.8,293.4 839.9,287.2 840,288.3 840,287.5 840.1,284.6 840.2,278.6 840.2,280.4 840.3,276 840.3,281.6 840.4,287.7 840.5,286.1 840.5,288.6 840.6,289.2 840.7,288.4 840.7,295.9 840.8,287.2 840.8,291.4 840.9,291.6 841,292.9 841,291 841.1,289.9 841.2,292.4 841.2,288.9 841.3,291.3 841.3,290.4 841.4,292 841.5,292 841.5,292.9 841.6,289.7 841.7,291.4 841.7,294.9 841.8,292.4 841.8,287.4 841.9,287.9 842,290.1 842,289.8 842.1,290.8 842.2,292.2 842.2,289 842.3,290.5 842.3,290.2 842.4,292.7 842.5,289.7 842.5,285.6 842.6,291.4 842.7,292.6 842.7,290.3 842.8,288.5 842.8,293.9 842.9,293.1 843,295.5 843,293.8 843.1,293.7 843.2,291.6 843.2,292.2 843.3,290.9 843.3,290.6 843.4,295.2 843.5,290.9 843.5,291.7 843.6,288.9 843.7,293.5 843.7,290.6 843.8,289.6 843.8,290.1 843.9,288.6 844,292.3 844,291.6 844.1,289.3 844.2,290.5 844.2,290.7 844.3,290.4 844.3,286.5 844.4,292.3 844.5,293.1 844.5,291.9 844.6,289 844.7,289.2 844.7,293.8 844.8,291.7 844.8,289.5 844.9,293 845,290.1 845,293.5 845.1,294.4 845.2,292.6 845.2,293.5 845.3,286.1 845.4,290.9 845.4,297.6 845.5,293.4 845.5,290.6 845.6,293.3 845.7,293.2 845.7,291 845.8,294.4 845.9,292.5 845.9,297.1 846,293.7 846,296.2 846.1,295.2 846.2,292.8 846.2,292.5 846.3,293.6 846.4,293.1 846.4,293.7 846.5,293.3 846.5,294.3 846.6,291.2 846.7,295 846.7,288.6 846.8,294.6 846.9,292.1 846.9,293 847,294.3 847,291.9 847.1,291 847.2,292.7 847.2,293.4 847.3,292.8 847.4,291.3 847.4,294.3 847.5,292.5 847.5,291.9 847.6,292.5 847.7,293.7 847.7,289.1 847.8,293.3 847.9,289.5 847.9,293.8 848,290.4 848,294.3 848.1,291.2 848.2,295.1 848.2,287.4 848.3,296.3 848.4,292.1 848.4,294.9 848.5,296.7 848.5,293.1 848.6,293.5 848.7,292.8 848.7,292.6 848.8,288.7 848.9,294.1 848.9,295.8 849,293.6 849,292.7 849.1,296.1 849.2,291.5 849.2,293.5 849.3,290.1 849.4,295.6 849.4,293.5 849.5,295.3 849.5,294.1 849.6,289.5 849.7,292.8 849.7,293.2 849.8,293.4 849.9,292.7 849.9,298.6 850,294.7 850,293.6 850.1,293 850.2,292.6 850.2,293.9 850.3,291 850.4,293.9 850.4,295.7 850.5,296.1 850.5,297.9 850.6,294.3 850.7,298.3 850.7,290.8 850.8,297.4 850.9,294.6 850.9,298.5 851,291 851,294.4 851.1,294.6 851.2,293.4 851.2,293.8 851.3,299.2 851.4,298.7 851.4,290.3 851.5,296.5 851.5,292.9 851.6,294.7 851.7,297.2 851.7,294.4 851.8,293.6 851.9,298.3 851.9,295.7 852,290.7 852,292.9 852.1,294.9 852.2,292.3 852.2,291.1 852.3,291.4 852.4,295.6 852.4,292.3 852.5,291.3 852.5,295.1 852.6,293.5 852.7,297.4 852.7,295.6 852.8,293.3 852.9,295.6 852.9,297.3 853,297.7 853,294.3 853.1,292.4 853.2,294.9 853.2,294 853.3,296.8 853.4,297.5 853.4,296.8 853.5,294.6 853.5,293.1 853.6,295.5 853.7,292.6 853.7,299.3 853.8,296.6 853.9,296.1 853.9,295.3 854,294.8 854,299.1 854.1,296 854.2,290.8 854.2,292.5 854.3,291.8 854.4,294.4 854.4,295.3 854.5,296.3 854.5,301 854.6,295.8 854.7,295.7 854.7,295.9 854.8,296 854.9,295 854.9,292.9 855,296.7 855,297.7 855.1,300 855.2,293.9 855.2,293.3 855.3,293.6 855.4,294.7 855.4,295.6 855.5,295.9 855.5,293.2 855.6,295.7 855.7,297.7 855.7,293 855.8,294.6 855.9,292.2 855.9,292.1 856,293.5 856,293.3 856.1,298 856.2,292.8 856.2,296 856.3,295.4 856.4,294.3 856.4,295.7 856.5,294.8 856.5,294.8 856.6,298 856.7,295.1 856.7,291 856.8,293.9 856.9,291.5 856.9,296 857,295.9 857,294.7 857.1,294.2 857.2,288.4 857.2,295.1 857.3,292.9 857.4,291.8 857.4,294.4 857.5,297.6 857.5,292.6 857.6,295.4 857.7,293.5 857.7,291.9 857.8,294 857.9,293.6 857.9,295.8 858,296.2 858,293.9 858.1,294.4 858.2,297 858.2,290.4 858.3,296.1 858.4,295.6 858.4,296.9 858.5,293.7 858.5,295.7 858.6,294.1 858.7,293.5 858.7,294.5 858.8,295.4 858.9,293.8 858.9,295.1 859,295.6 859,295 859.1,294.8 859.2,294.1 859.2,293.2 859.3,295.1 859.4,294.7 859.4,295.4 859.5,295 859.5,291.4 859.6,290.4 859.7,294.5 859.7,296.8 859.8,292.2 859.9,292.1 859.9,294.6 860,289.5 860,289.8 860.1,293 860.2,291.1 860.2,292.6 860.3,298.6 860.4,290.8 860.4,294.9 860.5,295 860.5,295.3 860.6,298.9 860.7,295.4 860.7,291.5 860.8,292.3 860.9,294.6 860.9,292.7 861,294.8 861.1,294.9 861.1,294 861.2,293.1 861.2,292.4 861.3,296.2 861.4,296 861.4,294.9 861.5,298.5 861.6,295.8 861.6,295.4 861.7,294.7 861.7,291.4 861.8,289.9 861.9,292.8 861.9,295 862,294.7 862.1,293.7 862.1,293.7 862.2,294.3 862.2,291.8 862.3,294.5 862.4,294.2 862.4,295.3 862.5,293.9 862.6,294.7 862.6,295.6 862.7,292.9 862.7,292.8 862.8,291.1 862.9,295.6 862.9,294.1 863,293.8 863.1,293.8 863.1,292.4 863.2,295.4 863.2,295 863.3,292.4 863.4,297 863.4,293.7 863.5,292.4 863.6,295.6 863.6,292.8 863.7,293 863.7,291 863.8,290.7 863.9,289.2 863.9,292.1 864,294.7 864.1,293.3 864.1,291.2 864.2,297.2 864.2,296.7 864.3,297.6 864.4,290.9 864.4,296.3 864.5,296.7 864.6,292.5 864.6,298 864.7,294.6 864.7,293.2 864.8,293.8 864.9,295.3 864.9,296.5 865,296.6 865.1,295.8 865.1,294.5 865.2,297.3 865.2,295.9 865.3,293.5 865.4,292.7 865.4,297.7 865.5,294.1 865.6,294.8 865.6,293.8 865.7,297.1 865.7,293.8 865.8,295.5 865.9,293.6 865.9,294.9 866,294 866.1,294.4 866.1,295.8 866.2,295.8 866.2,297.6 866.3,292.5 866.4,294.4 866.4,293.2 866.5,291.3 866.6,292.3 866.6,290.3 866.7,292.4 866.7,292.6 866.8,294.3 866.9,294.3 866.9,296.9 867,293.9 867.1,293.6 867.1,293.2 867.2,295.9 867.2,295 867.3,293.2 867.4,293.9 867.4,294.7 867.5,296.5 867.6,296.4 867.6,292.8 867.7,292.8 867.7,292.6 867.8,290.7 867.9,293.8 867.9,291.4 868,292.9 868.1,293.2 868.1,295.4 868.2,291 868.2,293.9 868.3,291.9 868.4,294.5 868.4,294.3 868.5,296.7 868.6,295.7 868.6,296.2 868.7,295.3 868.7,294.6 868.8,292.4 868.9,295.2 868.9,296.3 869,298 869.1,294.1 869.1,295.7 869.2,294.1 869.2,295.8 869.3,292.1 869.4,292.3 869.4,292 869.5,290.6 869.6,296.2 869.6,297.4 869.7,297 869.7,294.1 869.8,300.3 869.9,296.1 869.9,297.2 870,297.1 870.1,296.8 870.1,295.1 870.2,294.9 870.2,296.4 870.3,294.4 870.4,296.3 870.4,297.8 870.5,298.2 870.6,295.4 870.6,295.9 870.7,291.7 870.7,295.8 870.8,295.6 870.9,294.7 870.9,295.9 871,290.2 871.1,292.7 871.1,290.2 871.2,294.1 871.2,294.3 871.3,295.5 871.4,297.1 871.4,293.3 871.5,294.7 871.6,296.4 871.6,294.8 871.7,293.8 871.7,295.6 871.8,293.9 871.9,296.2 871.9,297.2 872,294 872.1,295 872.1,297.5 872.2,294.8 872.2,296.9 872.3,295 872.4,298.3 872.4,292.8 872.5,295.6 872.6,296 872.6,295 872.7,295.7 872.7,293.4 872.8,296.9 872.9,298.5 872.9,297.6 873,297 873.1,294.6 873.1,292.7 873.2,295.6 873.2,295.4 873.3,298.6 873.4,295.3 873.4,297.5 873.5,294.3 873.6,298.5 873.6,295.9 873.7,294.2 873.7,294.9 873.8,295.6 873.9,293.5 873.9,297.6 874,292.2 874.1,293 874.1,292.4 874.2,293.8 874.2,294.3 874.3,292.3 874.4,294 874.4,297.5 874.5,292 874.6,300.6 874.6,295.5 874.7,297.2 874.7,294.5 874.8,294.3 874.9,295.9 874.9,293.2 875,294.1 875.1,294.6 875.1,298.4 875.2,297 875.2,299 875.3,297.5 875.4,297.3 875.4,297.7 875.5,296.2 875.6,290.9 875.6,296.2 875.7,296.3 875.7,298.4 875.8,294.5 875.9,295.1 875.9,298.7 876,296 876.1,296.5 876.1,294.1 876.2,294.9 876.2,297.7 876.3,299.6 876.4,298.1 876.4,293.7 876.5,296 876.6,293.8 876.6,295.4 876.7,297.9 876.8,297.1 876.8,294.8 876.9,295.2 876.9,294.8 877,296.9 877.1,295.7 877.1,296.2 877.2,300.1 877.3,292.4 877.3,297.4 877.4,296 877.4,298 877.5,295.2 877.6,297.3 877.6,296.7 877.7,295.3 877.8,296.1 877.8,297.7 877.9,299.9 877.9,295.8 878,297.2 878.1,295.2 878.1,295.8 878.2,293.9 878.3,297.7 878.3,295.1 878.4,295.7 878.4,299.7 878.5,295.8 878.6,295.9 878.6,293.8 878.7,296.9 878.8,296.2 878.8,296.2 878.9,296.2 878.9,294.2 879,298.1 879.1,299.2 879.1,294.7 879.2,295.4 879.3,296.4 879.3,295.6 879.4,294.1 879.4,295.6 879.5,301.6 879.6,295.4 879.6,296.9 879.7,296.6 879.8,296.4 879.8,295 879.9,298 879.9,294.3 880,295.6 880.1,298.9 880.1,296.1 880.2,300 880.3,300 880.3,296 880.4,300.1 880.4,294.4 880.5,295.1 880.6,298.1 880.6,295.2 880.7,297.2 880.8,293.3 880.8,293.8 880.9,293.9 880.9,297.2 881,297.4 881.1,295.6 881.1,294.9 881.2,296.3 881.3,295.8 881.3,297.2 881.4,296.8 881.4,300.3 881.5,297.6 881.6,298.4 881.6,297 881.7,297.9 881.8,299 881.8,298.2 881.9,295.3 881.9,294.9 882,296.4 882.1,294.4 882.1,296.7 882.2,298 882.3,296.5 882.3,292.7 882.4,293.9 882.4,296.7 882.5,297.1 882.6,296.4 882.6,293.8 882.7,296.3 882.8,300.7 882.8,296.7 882.9,298.7 882.9,293.2 883,298.2 883.1,292.4 883.1,298 883.2,296.9 883.3,295.3 883.3,294.1 883.4,295.7 883.4,295.2 883.5,295.1 883.6,299.5 883.6,296.5 883.7,297.8 883.8,296.4 883.8,296.7 883.9,294.5 883.9,295 884,294 884.1,297.6 884.1,295.6 884.2,297.9 884.3,296.4 884.3,299.7 884.4,296.7 884.4,299.2 884.5,295.4 884.6,297.5 884.6,296.7 884.7,297.2 884.8,294.7 884.8,295.8 884.9,298.7 884.9,296.6 885,294.1 885.1,295.8 885.1,294 885.2,299.5 885.3,295.4 885.3,296.4 885.4,296 885.4,295.1 885.5,292.9 885.6,296.2 885.6,296.6 885.7,296.6 885.8,297.5 885.8,296.9 885.9,300.1 885.9,294.7 886,295.9 886.1,295.3 886.1,296.9 886.2,297.5 886.3,293.8 886.3,295.8 886.4,296.7 886.4,295.6 886.5,300 886.6,298.3 886.6,295.4 886.7,297.4 886.8,294.9 886.8,297.8 886.9,296.4 886.9,296.4 887,296.1 887.1,294.4 887.1,298.4 887.2,297.7 887.3,294.9 887.3,300.3 887.4,295.4 887.4,296.4 887.5,299.1 887.6,295.3 887.6,294.3 887.7,298.2 887.8,295.4 887.8,295.5 887.9,297.6 887.9,293.9 888,292.7 888.1,297.6 888.1,299.6 888.2,299.3 888.3,297.9 888.3,297 888.4,293.5 888.4,298.9 888.5,298.7 888.6,295.1 888.6,295.2 888.7,295.7 888.8,295.3 888.8,294.9 888.9,300.5 888.9,299.3 889,296.4 889.1,295.7 889.1,296.4 889.2,295.3 889.3,299.9 889.3,297.9 889.4,296.8 889.4,298 889.5,297 889.6,298.2 889.6,299.4 889.7,294.5 889.8,299.5 889.8,296.3 889.9,294.1 889.9,295.9 890,296.1 890.1,294.5 890.1,296.8 890.2,296.8 890.3,294.2 890.3,298.3 890.4,297.8 890.4,297 890.5,296.6 890.6,294.9 890.6,295 890.7,296.3 890.8,292.2 890.8,296.1 890.9,295.6 890.9,298.5 891,297 891.1,294.4 891.1,297.5 891.2,297.6 891.3,297 891.3,297.8 891.4,297 891.4,299 891.5,298.2 891.6,292.9 891.6,298 891.7,298.3 891.8,295.3 891.8,296 891.9,297.8 891.9,296.2 892,297.2 892.1,296.6 892.1,297.3 892.2,297 892.3,298.1 892.3,295.6 892.4,298 892.5,293.7 892.5,299.3 892.6,298.5 892.6,294.4 892.7,300.6 892.8,294.4 892.8,293 892.9,295.2 893,294.7 893,292.8 893.1,294.1 893.1,298.2 893.2,295.5 893.3,295.5 893.3,292.5 893.4,296.4 893.5,296.3 893.5,299.1 893.6,296.9 893.6,296.6 893.7,297.5 893.8,299.9 893.8,297.2 893.9,295.4 894,296.7 894,295.6 894.1,297.8 894.1,294.1 894.2,299.2 894.3,296.5 894.3,296.1 894.4,295.2 894.5,293.5 894.5,297.6 894.6,297.5 894.6,293.1 894.7,297.5 894.8,298.1 894.8,296.7 894.9,295.2 895,299.6 895,293.9 895.1,299.8 895.1,296.6 895.2,297.2 895.3,297.2 895.3,296.3 895.4,296.2 895.5,298.2 895.5,298.6 895.6,298.2 895.6,297.1 895.7,295.5 895.8,298.3 895.8,295.3 895.9,294 896,296.9 896,293.5 896.1,295.3 896.1,296 896.2,296.6 896.3,299.7 896.3,293.8 896.4,299.7 896.5,298 896.5,297.4 896.6,296.6 896.6,299.5 896.7,296.4 896.8,297.3 896.8,296.3 896.9,295.3 897,297.3 897,295 897.1,296.8 897.1,297.4 897.2,296.9 897.3,295.5 897.3,298.7 897.4,299.9 897.5,298 897.5,297.2 897.6,296.5 897.6,298.8 897.7,298.3 897.8,294 897.8,296.3 897.9,295.8 898,295.4 898,298.3 898.1,293.2 898.1,295.6 898.2,299.3 898.3,293.6 898.3,295.3 898.4,297.1 898.5,295.4 898.5,297.5 898.6,294.5 898.6,295.5 898.7,299 898.8,297.8 898.8,295.8 898.9,295.5 899,298.5 899,294.5 899.1,293.7 899.1,297.7 899.2,295.6 899.3,295.5 899.3,297.4 899.4,293 899.5,295.7 899.5,296.6 899.6,299.6 899.6,294.8 899.7,297.6 899.8,298.7 899.8,296.1 899.9,297.6 900,299.4 900,297.9 900.1,296.2 900.1,296.2 900.2,298.3 900.3,297.9 900.3,297 900.4,295.8 900.5,294.6 900.5,299 900.6,295.1 900.6,296.7 900.7,294.5 900.8,299.3 900.8,295.3 900.9,296.3 901,296.5 901,294.3 901.1,296.9 901.1,296.9 901.2,300.4 901.3,294.3 901.3,296.8 901.4,296.3 901.5,295.9 901.5,296.5 901.6,293.1 901.6,292.2 901.7,297 901.8,296.7 901.8,297.7 901.9,296.4 902,297.2 902,297.8 902.1,299.2 902.1,296.6 902.2,299.7 902.3,298.3 902.3,295.1 902.4,292.4 902.5,296.7 902.5,301.5 902.6,294.5 902.6,295.8 902.7,296.6 902.8,296.2 902.8,299.3 902.9,294.1 903,299.3 903,293.5 903.1,298.5 903.1,292.1 903.2,298.5 903.3,295.3 903.3,294 903.4,298 903.5,296.4 903.5,299.3 903.6,298.6 903.6,295.3 903.7,299.3 903.8,296.5 903.8,299.1 903.9,297.3 904,293.4 904,299.1 904.1,298.1 904.1,296.5 904.2,295.6 904.3,296.8 904.3,298.7 904.4,299.2 904.5,298 904.5,295.1 904.6,298.3 904.6,298.1 904.7,299.5 904.8,296.8 904.8,295.2 904.9,296.6 905,297.2 905,297.5 905.1,297.9 905.1,297.8 905.2,297.1 905.3,297.7 905.3,296.4 905.4,299.9 905.5,296.9 905.5,296 905.6,297.2 905.6,299.8 905.7,296.2 905.8,298.5 905.8,298.5 905.9,297.4 906,298.5 906,297.4 906.1,299.4 906.1,300.2 906.2,295.3 906.3,297.4 906.3,297.4 906.4,298.8 906.5,294.2 906.5,298.9 906.6,293.9 906.6,299.3 906.7,297.9 906.8,298.5 906.8,294.2 906.9,298.7 907,295 907,296.6 907.1,295.1 907.1,297.9 907.2,299.3 907.3,296.6 907.3,299.1 907.4,296.2 907.5,294 907.5,298.1 907.6,297.1 907.6,298.2 907.7,296.9 907.8,294.2 907.8,298.3 907.9,293.6 908,298.5 908,297.3 908.1,297.4 908.2,296.8 908.2,299.6 908.3,293.4 908.3,295.7 908.4,297.9 908.5,295.7 908.5,294.9 908.6,295.5 908.7,297 908.7,298.7 908.8,297.8 908.8,296.5 908.9,298.1 909,299 909,294.7 909.1,297.3 909.2,293.9 909.2,296.6 909.3,296 909.3,300.2 909.4,295.8 909.5,296.7 909.5,295.4 909.6,295.9 909.7,297.7 909.7,295.1 909.8,296.9 909.8,296.2 909.9,296.7 910,296.8 910,296.2 910.1,294.5 910.2,297.8 910.2,297.6 910.3,294.3 910.3,295.4 910.4,297 910.5,295.1 910.5,297.6 910.6,295.1 910.7,294.2 910.7,296.1 910.8,294.9 910.8,294.6 910.9,296.7 911,296.5 911,296.5 911.1,297.2 911.2,296.4 911.2,292.2 911.3,295.1 911.3,297.1 911.4,295.2 911.5,295.6 911.5,299 911.6,296.5 911.7,297.3 911.7,295.5 911.8,295 911.8,298.6 911.9,294.3 912,297.2 912,295 912.1,298.3 912.2,298.9 912.2,297.5 912.3,297.3 912.3,296.6 912.4,295.5 912.5,292.8 912.5,293.6 912.6,299.1 912.7,298.1 912.7,299.4 912.8,293.8 912.8,295.7 912.9,298.2 913,296.9 913,295.5 913.1,295.4 913.2,293.1 913.2,293.1 913.3,294.2 913.3,296.8 913.4,294.8 913.5,298.2 913.5,295.9 913.6,297.7 913.7,293.9 913.7,293.7 913.8,299.1 913.8,299.7 913.9,299.2 914,298.1 914,296.4 914.1,297.8 914.2,299.7 914.2,293.8 914.3,296 914.3,298.4 914.4,298.2 914.5,295.6 914.5,296.6 914.6,298.1 914.7,296.2 914.7,296.2 914.8,296.8 914.8,294.5 914.9,297.4 915,295.7 915,295.6 915.1,297.9 915.2,298.3 915.2,294.8 915.3,296.4 915.3,294.5 915.4,298.7 915.5,296.7 915.5,296.3 915.6,297.7 915.7,295.6 915.7,298.7 915.8,297.8 915.8,294.6 915.9,293.5 916,299.5 916,295.1 916.1,295.3 916.2,294.6 916.2,295.8 916.3,295.6 916.3,297.1 916.4,294.7 916.5,293.5 916.5,295.8 916.6,295.5 916.7,297.3 916.7,297.2 916.8,293.1 916.8,296.7 916.9,297.1 917,297.2 917,296.9 917.1,299.5 917.2,294 917.2,295.9 917.3,296 917.3,293.8 917.4,298.6 917.5,296.4 917.5,296.1 917.6,295.5 917.7,299.6 917.7,297 917.8,295.1 917.8,296.6 917.9,291.9 918,293.2 918,295.3 918.1,296.2 918.2,296.9 918.2,295.5 918.3,294.6 918.3,297.1 918.4,295.8 918.5,297.8 918.5,296.3 918.6,296.1 918.7,296.2 918.7,298.5 918.8,299.4 918.8,291.6 918.9,294.5 919,298.9 919,297.4 919.1,294.4 919.2,293.2 919.2,294.1 919.3,294.6 919.3,296.4 919.4,298.4 919.5,297.7 919.5,299.6 919.6,296.3 919.7,296.9 919.7,295.9 919.8,295.5 919.8,297.3 919.9,298.1 920,296.3 920,293.9 920.1,297.4 920.2,295.1 920.2,296.8 920.3,298.2 920.3,297 920.4,297.8 920.5,297.8 920.5,296.2 920.6,295.1 920.7,299.7 920.7,295.4 920.8,301.3 920.8,293.9 920.9,299.2 921,293.7 921,299 921.1,296.3 921.2,296.6 921.2,294.3 921.3,299.6 921.3,298.9 921.4,295.1 921.5,300.6 921.5,295.2 921.6,293.3 921.7,300 921.7,297.2 921.8,293.4 921.8,297.2 921.9,294.9 922,298.1 922,295.1 922.1,297.8 922.2,294.2 922.2,295.2 922.3,297.9 922.3,292.4 922.4,297.5 922.5,295.4 922.5,295.1 922.6,295.2 922.7,297.4 922.7,296 922.8,298.7 922.8,295.6 922.9,296.6 923,296 923,300 923.1,295.9 923.2,296.7 923.2,297.1 923.3,295.8 923.3,295.5 923.4,295.6 923.5,295.1 923.5,296.1 923.6,295 923.7,295 923.7,296.4 923.8,295.9 923.9,292 923.9,296.1 924,295.2 924,299.2 924.1,296.6 924.2,297.5 924.2,295.5 924.3,296 924.4,293.6 924.4,297.1 924.5,298.6 924.5,299.6 924.6,295.6 924.7,296.6 924.7,297.7 924.8,300.4 924.9,294.2 924.9,295.9 925,296 925,295.2 925.1,296.3 925.2,294.3 925.2,296.7 925.3,298.3 925.4,297.7 925.4,295.3 925.5,299.1 925.5,296.9 925.6,297.1 925.7,299 925.7,297 925.8,298.3 925.9,296 925.9,294.5 926,296.4 926,294.5 926.1,297.9 926.2,297 926.2,292.3 926.3,296.9 926.4,296.2 926.4,295.8 926.5,296.4 926.5,296.1 926.6,297.6 926.7,300.8 926.7,297.3 926.8,295.7 926.9,296.8 926.9,296.3 927,297.1 927,297.7 927.1,296.1 927.2,295.2 927.2,296.2 927.3,296.6 927.4,296.8 927.4,294.9 927.5,291.7 927.5,300.5 927.6,299 927.7,295.6 927.7,296.2 927.8,298.5 927.9,294.6 927.9,298.9 928,294.7 928,300.1 928.1,297.3 928.2,294.5 928.2,297 928.3,296.2 928.4,296.3 928.4,294.2 928.5,292.3 928.5,298 928.6,299.3 928.7,299.3 928.7,297.4 928.8,295.4 928.9,297.6 928.9,298.1 929,297.8 929,297.6 929.1,294.9 929.2,297.9 929.2,295.8 929.3,296.3 929.4,300.8 929.4,295.8 929.5,296.8 929.5,295.5 929.6,292.4 929.7,299.1 929.7,295.4 929.8,295.2 929.9,297 929.9,295.6 930,294.6 930,298.2 930.1,298.6 930.2,299.6 930.2,298.1 930.3,299.8 930.4,295.5 930.4,294.7 930.5,297.9 930.5,294.7 930.6,296.6 930.7,296.3 930.7,298.8 930.8,300.1 930.9,296.7 930.9,298.8 931,296.7 931,297.7 931.1,295 931.2,299.1 931.2,296.1 931.3,295.9 931.4,296.3 931.4,294.7 931.5,297.2 931.5,296 931.6,297 931.7,295.1 931.7,297.6 931.8,295 931.9,298.6 931.9,294.8 932,298 932,298.2 932.1,294.2 932.2,295.7 932.2,296.9 932.3,297 932.4,297.7 932.4,298.5 932.5,297.3 932.5,299 932.6,295 932.7,297.8 932.7,297.2 932.8,297.4 932.9,296.5 932.9,297.8 933,295.6 933,297.6 933.1,297.9 933.2,299.5 933.2,296.2 933.3,294.6 933.4,293.6 933.4,291.3 933.5,291.1 933.5,279.7 933.6,267.4 933.7,254 933.7,241.7 933.8,238.5 933.9,243.1 933.9,252.1 934,267.4 934,287.5 934.1,289.9 934.2,297.1 934.2,298.6 934.3,298.5 934.4,297.4 934.4,295.4 934.5,296.9 934.5,297.4 934.6,300.9 934.7,296.7 934.7,299.2 934.8,294.3 934.9,298.8 934.9,294.9 935,296.9 935,298.8 935.1,298.5 935.2,296.7 935.2,297.8 935.3,297.8 935.4,295.4 935.4,296.3 935.5,295.2 935.5,293.6 935.6,293.7 935.7,291.5 935.7,285.5 935.8,277.9 935.9,266.6 935.9,261 936,266.4 936,277.6 936.1,286.9 936.2,290.6 936.2,295 936.3,298.2 936.4,297.3 936.4,295.7 936.5,299.2 936.5,295.9 936.6,298.4 936.7,295.9 936.7,295.6 936.8,294.6 936.9,297.5 936.9,296.8 937,296.1 937,292.3 937.1,294.5 937.2,295 937.2,295.7 937.3,297.7 937.4,296.4 937.4,298.4 937.5,297.8 937.5,295.5 937.6,297.8 937.7,297.9 937.7,291.4 937.8,295.6 937.9,296.3 937.9,295.2 938,294.8 938,295.5 938.1,295.9 938.2,290.9 938.2,296.3 938.3,294.6 938.4,296.8 938.4,294.4 938.5,297.7 938.5,296.8 938.6,297.8 938.7,296.2 938.7,298.9 938.8,297.8 938.9,297.6 938.9,299.5 939,296 939,297.6 939.1,292.3 939.2,297.1 939.2,302.2 939.3,297.3 939.4,296.3 939.4,296 939.5,298.4 939.6,297.4 939.6,298.1 939.7,295.3 939.7,294.6 939.8,296.8 939.9,297.1 939.9,295.8 940,296.8 940.1,297.1 940.1,296.3 940.2,296 940.2,295.7 940.3,296.1 940.4,292.8 940.4,295.1 940.5,296.5 940.6,296.5 940.6,294.6 940.7,295.7 940.7,295.6 940.8,297.6 940.9,298 940.9,297.6 941,295.6 941.1,297.3 941.1,297.2 941.2,295.8 941.2,296.6 941.3,300.2 941.4,297.3 941.4,293.6 941.5,296.6 941.6,297.5 941.6,294.4 941.7,293.6 941.7,299.8 941.8,295.3 941.9,296.9 941.9,296 942,298.4 942.1,299.1 942.1,298.7 942.2,296 942.2,294.6 942.3,297.3 942.4,297.7 942.4,295.2 942.5,297.3 942.6,293.3 942.6,296.5 942.7,296.6 942.7,297.8 942.8,294.1 942.9,297.5 942.9,295.9 943,293.8 943.1,296.7 943.1,296.8 943.2,298.6 943.2,295.4 943.3,293.2 943.4,298.4 943.4,299.1 943.5,294.9 943.6,296.2 943.6,298 943.7,298 943.7,297.2 943.8,294.9 943.9,294.1 943.9,295 944,295.8 944.1,297.5 944.1,297.5 944.2,296.2 944.2,294.6 944.3,298.3 944.4,294.4 944.4,294.7 944.5,299.5 944.6,297.3 944.6,297.4 944.7,297.4 944.7,295.4 944.8,296.9 944.9,299.9 944.9,297.5 945,293.9 945.1,297.7 945.1,295.4 945.2,299.4 945.2,298.1 945.3,295.9 945.4,292.2 945.4,296.8 945.5,297 945.6,298.9 945.6,297.4 945.7,295.6 945.7,296 945.8,295.9 945.9,297.9 945.9,297.1 946,298.1 946.1,295.7 946.1,295.7 946.2,296.6 946.2,292.3 946.3,296.1 946.4,296.9 946.4,293.8 946.5,296.2 946.6,298 946.6,296.9 946.7,296.2 946.7,295.6 946.8,297.4 946.9,301 946.9,298.1 947,295 947.1,294.9 947.1,298.2 947.2,293.9 947.2,296.7 947.3,297.6 947.4,297.2 947.4,299.1 947.5,294.1 947.6,300 947.6,295 947.7,293.8 947.7,296.2 947.8,296.3 947.9,294.9 947.9,298.2 948,298 948.1,294.5 948.1,298.7 948.2,296 948.2,295.3 948.3,295 948.4,297.7 948.4,294.4 948.5,299.3 948.6,294.6 948.6,295.2 948.7,293.2 948.7,295.2 948.8,294.7 948.9,293.8 948.9,297.5 949,295.6 949.1,295.5 949.1,296.6 949.2,298.1 949.2,295 949.3,295.3 949.4,296.5 949.4,294 949.5,301 949.6,298.1 949.6,295 949.7,297.6 949.7,296 949.8,294.3 949.9,297.4 949.9,295.3 950,292.1 950.1,297.4 950.1,294.5 950.2,298.5 950.2,297.8 950.3,297.3 950.4,295.8 950.4,293.6 950.5,297.7 950.6,292.2 950.6,296.1 950.7,298.5 950.7,296.8 950.8,298.9 950.9,299.2 950.9,295.2 951,296.6 951.1,294 951.1,297.5 951.2,295.6 951.2,295.8 951.3,298.2 951.4,297.2 951.4,296.3 951.5,298.5 951.6,297 951.6,294.1 951.7,297.7 951.7,295.4 951.8,296.8 951.9,295.9 951.9,299.1 952,296.2 952.1,296.8 952.1,295.1 952.2,294 952.2,297.4 952.3,296.2 952.4,299.7 952.4,296.5 952.5,299.3 952.6,296.8 952.6,296.2 952.7,296.9 952.7,296.8 952.8,297.6 952.9,298.5 952.9,296.9 953,295.5 953.1,299.7 953.1,298.8 953.2,297.8 953.2,298.1 953.3,295.7 953.4,298.2 953.4,296.4 953.5,294 953.6,296.4 953.6,294.8 953.7,296.6 953.7,298.4 953.8,296.2 953.9,295.6 953.9,296.9 954,298.6 954.1,297.7 954.1,299.6 954.2,299.2 954.2,295 954.3,294.5 954.4,296.3 954.4,297.5 954.5,298.9 954.6,294.7 954.6,301.1 954.7,297.4 954.8,297 954.8,295.6 954.9,298.5 954.9,296.3 955,296.1 955.1,297.5 955.1,296.8 955.2,298.1 955.3,296.1 955.3,295.8 955.4,297.7 955.4,298.2 955.5,297.4 955.6,299.5 955.6,293.5 955.7,298 955.8,298 955.8,294.9 955.9,297.8 955.9,298.5 956,297.1 956.1,295.9 956.1,295.3 956.2,296.8 956.3,295 956.3,296.6 956.4,296.6 956.4,294.2 956.5,294.9 956.6,300.6 956.6,295.1 956.7,294.5 956.8,296.6 956.8,296.5 956.9,297 956.9,296.8 957,297.6 957.1,296.6 957.1,295 957.2,296.8 957.3,294.7 957.3,297.8 957.4,294.9 957.4,295.1 957.5,298.1 957.6,293.8 957.6,295.4 957.7,296.5 957.8,298 957.8,298.7 957.9,295.4 957.9,296.1 958,298.6 958.1,298.4 958.1,296.2 958.2,299 958.3,300.4 958.3,296 958.4,299.1 958.4,293.6 958.5,295.5 958.6,296.5 958.6,297.4 958.7,296.9 958.8,293.8 958.8,296.1 958.9,297.9 958.9,297.5 959,302 959.1,295.6 959.1,299.6 959.2,298.8 959.3,297.3 959.3,297.1 959.4,299 959.4,296.2 959.5,296.6 959.6,297 959.6,297.9 959.7,294.9 959.8,297.3 959.8,298.5 959.9,295.3 959.9,294.6 960,298.3 960.1,296.5 960.1,294.1 960.2,295.6 960.3,297.2 960.3,294.2 960.4,295.7 960.4,295.9 960.5,295.2 960.6,293.6 960.6,295.1 960.7,299.8 960.8,292.8 960.8,293.6 960.9,285.6 960.9,281.4 961,270.4 961.1,259.5 961.1,247 961.2,228 961.3,211 961.3,202.4 961.4,198.7 961.4,201.8 961.5,208.8 961.6,224.6 961.6,244.3 961.7,257.4 961.8,273.4 961.8,282.2 961.9,285.8 961.9,289.8 962,293.8 962.1,293.7 962.1,289.6 962.2,290.4 962.3,283.7 962.3,281.2 962.4,279.6 962.4,274.5 962.5,268.8 962.6,260.8 962.6,256.7 962.7,247 962.8,241.3 962.8,230.4 962.9,217.8 962.9,203.2 963,180 963.1,148.3 963.1,117.3 963.2,89.9 963.3,73.8 963.3,87.7 963.4,114.5 963.4,148.3 963.5,182.6 963.6,201.3 963.6,215.8 963.7,223.4 963.8,228.4 963.8,229.7 963.9,232.4 963.9,231.1 964,233.4 964.1,233.2 964.1,235.2 964.2,242.6 964.3,246.2 964.3,259.2 964.4,270.9 964.4,277.7 964.5,283.6 964.6,290.5 964.6,293.6 964.7,294.2 964.8,297.1 964.8,295.4 964.9,296.1 964.9,296.3 965,296.1 965.1,293.9 965.1,298.3 965.2,295.9 965.3,295.9 965.3,296.5 965.4,299 965.4,300.3 965.5,293.9 965.6,295 965.6,296.9 965.7,296.3 965.8,293.5 965.8,290.8 965.9,298.9 965.9,294.9 966,297.3 966.1,294.6 966.1,294.9 966.2,297.8 966.3,298.7 966.3,294.9 966.4,291.9 966.4,295.8 966.5,298.4 966.6,297.6 966.6,294.8 966.7,297.7 966.8,293.4 966.8,298.1 966.9,295.9 966.9,293.9 967,297.2 967.1,297.3 967.1,300.8 967.2,300.9 967.3,299.7 967.3,294.9 967.4,295.5 967.4,294.4 967.5,296.8 967.6,292.8 967.6,295 967.7,296.1 967.8,293.5 967.8,297 967.9,300.7 967.9,298.7 968,294.4 968.1,295.7 968.1,295.2 968.2,299.7 968.3,299.1 968.3,294.6 968.4,296.4 968.4,293.2 968.5,299.7 968.6,291.8 968.6,295.5 968.7,296.5 968.8,294.3 968.8,295.4 968.9,296 968.9,296.1 969,296.6 969.1,297.8 969.1,297 969.2,295.3 969.3,295.3 969.3,295.6 969.4,297.8 969.4,296.5 969.5,301.2 969.6,295.7 969.6,298.1 969.7,295.4 969.8,296.3 969.8,298.5 969.9,297.1 969.9,295.6 970,296.7 970.1,296.6 970.1,295.3 970.2,295.6 970.3,297.8 970.3,298.3 970.4,300 970.5,296 970.5,292.4 970.6,296.3 970.6,295.1 970.7,293.6 970.8,299.3 970.8,297 970.9,298.3 971,298.3 971,297.2 971.1,295.1 971.1,294.7 971.2,297.2 971.3,297.4 971.3,296.8 971.4,298.6 971.5,294.7 971.5,298.7 971.6,298.4 971.6,296 971.7,298.2 971.8,295.1 971.8,299.7 971.9,294.6 972,298.6 972,302.5 972.1,294.5 972.1,300.9 972.2,297.8 972.3,296.5 972.3,297.2 972.4,297.2 972.5,299 972.5,294.8 972.6,295.1 972.6,293.5 972.7,296 972.8,292.8 972.8,296.6 972.9,295.4 973,296.9 973,300.6 973.1,295.5 973.1,297.1 973.2,295.8 973.3,300.3 973.3,298.3 973.4,298.5 973.5,294.5 973.5,293.3 973.6,296.4 973.6,294.7 973.7,300 973.8,297.4 973.8,297.8 973.9,299 974,294.8 974,295 974.1,294 974.1,294.8 974.2,296.4 974.3,299.1 974.3,297.2 974.4,294.3 974.5,296.5 974.5,294.3 974.6,296.5 974.6,297.3 974.7,291.5 974.8,295.9 974.8,299.1 974.9,296.6 975,295 975,297.3 975.1,294.2 975.1,298.1 975.2,294 975.3,297.6 975.3,295.2 975.4,293.2 975.5,295.1 975.5,296.7 975.6,292.5 975.6,297.2 975.7,295.5 975.8,298.1 975.8,294.8 975.9,297.5 976,301.2 976,298.8 976.1,297 976.1,298.4 976.2,298.2 976.3,296.2 976.3,297.4 976.4,298.5 976.5,297.4 976.5,294.2 976.6,296.9 976.6,298.7 976.7,300.4 976.8,295.8 976.8,296 976.9,295.4 977,296.3 977,298.3 977.1,294.5 977.1,299.4 977.2,297 977.3,299.2 977.3,297.5 977.4,293.7 977.5,296.7 977.5,299.3 977.6,297.6 977.6,293.2 977.7,294 977.8,295.9 977.8,298.1 977.9,297.4 978,297 978,296.1 978.1,298.8 978.1,294.7 978.2,296.3 978.3,292 978.3,298.1 978.4,295.7 978.5,297.6 978.5,292.6 978.6,296.9 978.6,296.1 978.7,295.3 978.8,297.5 978.8,297.1 978.9,296.1 979,295.7 979,295.8 979.1,296.1 979.1,299.9 979.2,298.6 979.3,296.4 979.3,295.3 979.4,296.4 979.5,293.8 979.5,296.2 979.6,298.3 979.6,295.8 979.7,299.2 979.8,296.1 979.8,296.7 979.9,299.8 980,296.8 980,293.8 980.1,299.1 980.1,294.4 980.2,295.6 980.3,295.9 980.3,299.1 980.4,294.1 980.5,296.4 980.5,296.8 980.6,294.6 980.6,300.7 980.7,296.9 980.8,296.9 980.8,298.5 980.9,295.8 981,297.7 981,294.3 981.1,295.4 981.1,294.9 981.2,300.3 981.3,296.7 981.3,300 981.4,296.4 981.5,294 981.5,294.7 981.6,295.7 981.6,297.5 981.7,297.1 981.8,295.7 981.8,298.3 981.9,299.1 982,298.3 982,299.2 982.1,295.9 982.1,298.8 982.2,297.3 982.3,294.5 982.3,298 982.4,296.3 982.5,296.6 982.5,300 982.6,295.6 982.6,296.6 982.7,295 982.8,296.9 982.8,299.1 982.9,297.1 983,296.6 983,297.8 983.1,294.8 983.1,295.2 983.2,294.3 983.3,298.1 983.3,298.6 983.4,294.8 983.5,293.4 983.5,293.9 983.6,296.7 983.6,299.3 983.7,301.2 983.8,298.2 983.8,295.5 983.9,296.9 984,295.9 984,297.8 984.1,301.6 984.1,297.1 984.2,296.6 984.3,298.2 984.3,296.4 984.4,293.6 984.5,295 984.5,296.7 984.6,298.8 984.6,297.7 984.7,295.3 984.8,299.3 984.8,293.1 984.9,298.2 985,296.2 985,297.6 985.1,293.5 985.1,298.7 985.2,296.7 985.3,295.5 985.3,296.8 985.4,295.2 985.5,294.4 985.5,299.3 985.6,295.9 985.6,297 985.7,295.9 985.8,299 985.8,296 985.9,295.8 986,297.2 986,295.2 986.1,296.4 986.2,297.1 986.2,295.8 986.3,297.5 986.3,297.9 986.4,298 986.5,297.9 986.5,297.4 986.6,295.2 986.7,296.1 986.7,295.1 986.8,294.1 986.8,296.2 986.9,296.1 987,298.4 987,294.3 987.1,296.4 987.2,300.3 987.2,299.3 987.3,297.8 987.3,296.2 987.4,295.7 987.5,295.3 987.5,296.1 987.6,298.2 987.7,298.6 987.7,296.5 987.8,299.4 987.8,299.2 987.9,296.7 988,296.3 988,297.5 988.1,292.3 988.2,293.1 988.2,298.1 988.3,295.2 988.3,296.3 988.4,300 988.5,295.3 988.5,296.9 988.6,297.2 988.7,298.4 988.7,295.3 988.8,293.8 988.8,295.6 988.9,298.4 989,298.1 989,295.4 989.1,295 989.2,299.5 989.2,295.4 989.3,297.8 989.3,297.5 989.4,295.5 989.5,295.2 989.5,297 989.6,296 989.7,295.7 989.7,294.7 989.8,296.3 989.8,292.8 989.9,300.1 990,295.6 990,297.7 990.1,296.1 990.2,296.6 990.2,296.9 990.3,296.5 990.3,297.7 990.4,296.5 990.5,296.9 990.5,298.1 990.6,299 990.7,295.4 990.7,294.2 990.8,296.4 990.8,297.9 990.9,299.4 991,295.9 991,295.6 991.1,297.4 991.2,296.3 991.2,299.6 991.3,294 991.3,297.2 991.4,297.7 991.5,299 991.5,295.7 991.6,294.1 991.7,295.8 991.7,296.9 991.8,295.5 991.8,294.5 991.9,297.5 992,298.4 992,295.5 992.1,296.4 992.2,299.4 992.2,297.5 992.3,296.6 992.3,294.3 992.4,294.2 992.5,293.7 992.5,294.2 992.6,297.5 992.7,297.3 992.7,295.1 992.8,296.1 992.8,297.5 992.9,296 993,295.5 993,297.6 993.1,297.2 993.2,298.9 993.2,297.9 993.3,294.9 993.3,295.5 993.4,294.4 993.5,296.4 993.5,298.2 993.6,298.7 993.7,296.9 993.7,300.6 993.8,296.2 993.8,300.5 993.9,295.6 994,298.2 994,294.7 994.1,298.8 994.2,297.3 994.2,293.8 994.3,299.6 994.3,295.3 994.4,298.1 994.5,297.1 994.5,296.7 994.6,294.7 994.7,297.6 994.7,293.8 994.8,294.9 994.8,295.1 994.9,293.6 995,297 995,297.4 995.1,297.1 995.2,296.3 995.2,295.9 995.3,294.9 995.3,293.7 995.4,296 995.5,297.1 995.5,297.2 995.6,301.3 995.7,297.3 995.7,296 995.8,294.6 995.8,296.2 995.9,295.6 996,295.7 996,296.9 996.1,299.4 996.2,300.1 996.2,295.2 996.3,298.1 996.3,299.7 996.4,300.2 996.5,296.3 996.5,299.7 996.6,298.7 996.7,297.5 996.7,296.8 996.8,295.4 996.8,299.9 996.9,297.1 997,295.3 997,294.5 997.1,296.9 997.2,297.2 997.2,297.6 997.3,297.9 997.3,296.5 997.4,292.2 997.5,295.6 997.5,296.8 997.6,297.2 997.7,295.8 997.7,298.3 997.8,297.3 997.8,297 997.9,296.9 998,296.2 998,296.6 998.1,295.8 998.2,297.4 998.2,293.5 998.3,299.5 998.3,295.7 998.4,298 998.5,295 998.5,292.7 998.6,293.8 998.7,297.9 998.7,296.3 998.8,297 998.8,300.2 998.9,299.2 999,297.1 999,301.3 999.1,297.9 999.2,297.9 999.2,295.3 999.3,296.6 999.3,296 999.4,296.9 999.5,293.9 999.5,299.1 999.6,295.5 999.7,297.8 999.7,291.2 999.8,296.8 999.8,299.1 999.9,292.6 1000,297.3 1000,297.2 1000.1,295.8 1000.2,299.4 1000.2,297.3 1000.3,294 1000.3,297.5 1000.4,295.8 1000.5,298.7 1000.5,296.7 1000.6,296.1 1000.7,296.1 1000.7,297.7 1000.8,296.9 1000.8,296.5 1000.9,298.6 1001,295.3 1001,296.6 1001.1,300.6 1001.2,298 1001.2,294.8 1001.3,299.6 1001.3,296.6 1001.4,296.9 1001.5,298.2 1001.5,295.3 1001.6,298.3 1001.7,297.6 1001.7,296.7 1001.8,293.4 1001.9,294.3 1001.9,299.3 1002,294.5 1002,297.8 1002.1,298.8 1002.2,298.9 1002.2,296.8 1002.3,295.2 1002.4,300.1 1002.4,298 1002.5,294.2 1002.5,297.3 1002.6,293.7 1002.7,297.1 1002.7,296.2 1002.8,293.5 1002.9,300.7 1002.9,294.5 1003,298.1 1003,299.4 1003.1,295.5 1003.2,298.8 1003.2,297.6 1003.3,297.3 1003.4,295.6 1003.4,296.3 1003.5,295.1 1003.5,294.8 1003.6,292.8 1003.7,301 1003.7,296.1 1003.8,298.6 1003.9,296.1 1003.9,294.6 1004,298.8 1004,294.8 1004.1,297 1004.2,294.9 1004.2,292.9 1004.3,296.7 1004.4,297.1 1004.4,297.6 1004.5,297.3 1004.5,294.9 1004.6,297.6 1004.7,296.1 1004.7,294.3 1004.8,296.1 1004.9,298.4 1004.9,299 1005,298.5 1005,298 1005.1,294.7"/>
<g stroke="#000000" stroke-width="1.6" fill="none" stroke-linecap="butt">
<path d="M592.2 22.9 V312.2 H1006.8"/>
<path stroke-width="1.5" d="M592.2 298.5h-7M592.2 264.1h-7M592.2 229.8h-7M592.2 195.4h-7M592.2 161.1h-7M592.2 126.8h-7M592.2 92.4h-7M592.2 58h-7M592.2 23.7h-7M592.2 281.3h-4M592.2 247h-4M592.2 212.6h-4M592.2 178.3h-4M592.2 143.9h-4M592.2 109.6h-4M592.2 75.2h-4M592.2 40.9h-4M642 312.2v7M704.5 312.2v7M767.1 312.2v7M829.6 312.2v7M892.2 312.2v7M954.8 312.2v7M610.7 312.2v4M673.3 312.2v4M735.8 312.2v4M798.4 312.2v4M860.9 312.2v4M923.5 312.2v4M986 312.2v4"/>
</g>
<g font-size="18" fill="#000000">
<text x="581" y="303.2" text-anchor="end" textLength="9.3" lengthAdjust="spacingAndGlyphs">0</text>
<text x="581" y="268.8" text-anchor="end" textLength="18.7" lengthAdjust="spacingAndGlyphs">50</text>
<text x="581" y="234.5" text-anchor="end" textLength="28" lengthAdjust="spacingAndGlyphs">100</text>
<text x="581" y="200.1" text-anchor="end" textLength="28" lengthAdjust="spacingAndGlyphs">150</text>
<text x="581" y="165.8" text-anchor="end" textLength="28" lengthAdjust="spacingAndGlyphs">200</text>
<text x="581" y="131.4" text-anchor="end" textLength="28" lengthAdjust="spacingAndGlyphs">250</text>
<text x="581" y="97.1" text-anchor="end" textLength="28" lengthAdjust="spacingAndGlyphs">300</text>
<text x="581" y="62.7" text-anchor="end" textLength="28" lengthAdjust="spacingAndGlyphs">350</text>
<text x="581" y="28.4" text-anchor="end" textLength="28" lengthAdjust="spacingAndGlyphs">400</text>
<text x="642" y="335.5" text-anchor="middle" textLength="28" lengthAdjust="spacingAndGlyphs">300</text>
<text x="704.5" y="335.5" text-anchor="middle" textLength="28" lengthAdjust="spacingAndGlyphs">400</text>
<text x="767.1" y="335.5" text-anchor="middle" textLength="28" lengthAdjust="spacingAndGlyphs">500</text>
<text x="829.6" y="335.5" text-anchor="middle" textLength="28" lengthAdjust="spacingAndGlyphs">600</text>
<text x="892.2" y="335.5" text-anchor="middle" textLength="28" lengthAdjust="spacingAndGlyphs">700</text>
<text x="954.8" y="335.5" text-anchor="middle" textLength="28" lengthAdjust="spacingAndGlyphs">800</text>
</g>
<text x="719.7" y="359.9" font-size="22" textLength="157.5" lengthAdjust="spacingAndGlyphs">Wavelength (nm)</text>
<text transform="translate(538.8 263) rotate(-90)" font-size="22" textLength="162" lengthAdjust="spacingAndGlyphs">Intensity (Counts)</text>
<text transform="translate(724 225.3) rotate(-90)" font-size="19.3" textLength="121" lengthAdjust="spacingAndGlyphs">Ca I 422.67 nm</text>
<text transform="translate(803.3 187.3) rotate(-90)" font-size="19.3" textLength="125.3" lengthAdjust="spacingAndGlyphs">Na I 588.99 nm</text>
<text transform="translate(939.1 220.3) rotate(-90)" font-size="19.3" textLength="113.3" lengthAdjust="spacingAndGlyphs">K I 766.49 nm</text>
<text x="919.7" y="44.3" font-size="20.3" textLength="23.7" lengthAdjust="spacingAndGlyphs"><tspan font-size="22.5">(</tspan>b<tspan font-size="22.5">)</tspan></text>
<path d="M608 47.4H644.2" stroke="#ff0000" stroke-width="1.8"/>
<text x="647.6" y="52.8" font-size="19" textLength="146.9" lengthAdjust="spacingAndGlyphs">Blank Filter Paper</text>
<path d="M808.3 131.6L816.8 117.3" stroke="#000000" stroke-width="1.7"/>
<path d="M820.3 111.5L818.1 119.9L814 117.4Z" fill="#000000"/>
</g>
<g>
<polyline fill="none" stroke="#ff0000" stroke-width="2.0" stroke-linejoin="round" points="91,662.5 91.1,662.1 91.2,661.6 91.3,662.2 91.4,662.4 91.5,662.7 91.6,661.4 91.7,661.9 91.8,662.2 91.9,662.4 92,662.8 92,661.8 92.1,662.8 92.2,661.3 92.3,661.9 92.4,661.3 92.5,661.9 92.6,661.7 92.7,662.5 92.8,662.3 92.9,662.7 93,661.3 93.1,661.1 93.2,662.1 93.3,661.9 93.4,662 93.5,660.6 93.5,661.2 93.6,661.5 93.7,660.6 93.8,661.8 93.9,662 94,661.9 94.1,661.4 94.2,661.8 94.3,661.7 94.4,662.2 94.5,661.8 94.6,662 94.7,661.5 94.8,661.6 94.9,661.7 95,661.1 95,662.4 95.1,662 95.2,661.9 95.3,661.6 95.4,661.5 95.5,661.8 95.6,661.6 95.7,661.8 95.8,661.4 95.9,661.5 96,661 96.1,662.4 96.2,661.6 96.3,662.2 96.4,661.2 96.5,661.6 96.5,662.2 96.6,661.2 96.7,661.5 96.8,662.5 96.9,661.1 97,660.9 97.1,661 97.2,661.1 97.3,661.7 97.4,662.2 97.5,661.6 97.6,661.1 97.7,662.3 97.8,661.4 97.9,661.2 98,661.9 98,661.8 98.1,661.1 98.2,661.4 98.3,661.8 98.4,662.4 98.5,662.3 98.6,661.4 98.7,661.8 98.8,660.6 98.9,661.1 99,661.9 99.1,661.2 99.2,661.7 99.3,661.6 99.4,662.2 99.5,661.5 99.5,661.5 99.6,661.9 99.7,662.5 99.8,661.9 99.9,661 100,661.7 100.1,662.7 100.2,662.7 100.3,661.3 100.4,660.7 100.5,662.3 100.6,661.7 100.7,662.5 100.8,662.8 100.9,661.8 101,662.4 101.1,662.4 101.1,661.7 101.2,661.5 101.3,661.8 101.4,661 101.5,662.1 101.6,661.9 101.7,661.2 101.8,660.5 101.9,660.9 102,662.2 102.1,662.8 102.2,662.6 102.3,660.7 102.4,661.7 102.5,660.9 102.6,662.3 102.6,661.6 102.7,661.6 102.8,660.8 102.9,661.6 103,661.6 103.1,662.1 103.2,661.3 103.3,661.4 103.4,661.5 103.5,662.6 103.6,660.8 103.7,662.8 103.8,661.7 103.9,662.8 104,661.7 104.1,661.7 104.1,661.2 104.2,662.3 104.3,661.9 104.4,661.5 104.5,662 104.6,661.3 104.7,662.4 104.8,661.7 104.9,661.7 105,661.5 105.1,661.7 105.2,661.5 105.3,661.3 105.4,661.4 105.5,661.1 105.6,661 105.6,662.3 105.7,661.9 105.8,662 105.9,662.1 106,661.5 106.1,661.7 106.2,662 106.3,661.3 106.4,661.8 106.5,661.3 106.6,661.7 106.7,661.8 106.8,662.3 106.9,661.6 107,661.9 107.1,660.9 107.1,661.7 107.2,661.6 107.3,660.9 107.4,660.6 107.5,660.6 107.6,660.7 107.7,662.6 107.8,662.9 107.9,662.3 108,660.9 108.1,661.4 108.2,661.6 108.3,661.6 108.4,662.4 108.5,661.6 108.6,662.3 108.6,661.6 108.7,661.9 108.8,662 108.9,662 109,661.4 109.1,660.6 109.2,662.7 109.3,661.3 109.4,661.9 109.5,660.9 109.6,661.1 109.7,662.2 109.8,661.7 109.9,660.9 110,660.8 110.1,662.1 110.1,662.3 110.2,661.6 110.3,661 110.4,661.2 110.5,661.5 110.6,661.4 110.7,661.4 110.8,661.7 110.9,662.2 111,661.3 111.1,661.5 111.2,661.2 111.3,661.7 111.4,662 111.5,661.3 111.6,661.2 111.6,660.7 111.7,662.5 111.8,662 111.9,661.9 112,660.8 112.1,662.8 112.2,662.3 112.3,661.2 112.4,661.3 112.5,662.8 112.6,662.2 112.7,661.8 112.8,662.4 112.9,661.9 113,661.9 113.1,661.1 113.1,661.4 113.2,662 113.3,661.8 113.4,661.3 113.5,661.4 113.6,662.1 113.7,661.1 113.8,662.9 113.9,661 114,662.5 114.1,661.5 114.2,661.2 114.3,661.6 114.4,662.1 114.5,662.7 114.6,662.4 114.7,661.3 114.7,662 114.8,661.6 114.9,661.7 115,662 115.1,661.1 115.2,661.9 115.3,660.7 115.4,662.2 115.5,662.4 115.6,661.5 115.7,662.2 115.8,662.1 115.9,662.2 116,661.8 116.1,661.5 116.2,661.5 116.2,662.9 116.3,660.9 116.4,661.6 116.5,661.2 116.6,661.5 116.7,662.2 116.8,660.6 116.9,662.4 117,661.5 117.1,662 117.2,661.4 117.3,661.7 117.4,661.5 117.5,661 117.6,661.7 117.7,661.8 117.7,662.6 117.8,661.8 117.9,660.5 118,662.2 118.1,661.5 118.2,661.1 118.3,660.8 118.4,661.5 118.5,661.5 118.6,661.6 118.7,662.3 118.8,661.9 118.9,661.3 119,662.1 119.1,661.1 119.2,662 119.2,661.1 119.3,661.1 119.4,661.5 119.5,662.2 119.6,662 119.7,660.9 119.8,662.7 119.9,662.1 120,662.2 120.1,661.4 120.2,661.1 120.3,661.8 120.4,661.4 120.5,662.1 120.6,661.8 120.7,662.4 120.7,662.5 120.8,661 120.9,661.7 121,661.6 121.1,661.3 121.2,662 121.3,662.9 121.4,661.7 121.5,662.3 121.6,661.4 121.7,661.9 121.8,661.9 121.9,662 122,662.6 122.1,662.1 122.2,660.9 122.2,662.2 122.3,662.3 122.4,661.9 122.5,662.3 122.6,662.3 122.7,662.4 122.8,662.3 122.9,661.8 123,662.8 123.1,661.1 123.2,662.4 123.3,662.5 123.4,661.1 123.5,662.4 123.6,661 123.7,660.9 123.7,662.6 123.8,661 123.9,662.2 124,662.2 124.1,661.7 124.2,662.5 124.3,662.7 124.4,662 124.5,661.5 124.6,661.7 124.7,663 124.8,661.7 124.9,661.5 125,661.2 125.1,661.3 125.2,661.5 125.2,662.1 125.3,661.7 125.4,661.9 125.5,661.6 125.6,661.1 125.7,661.7 125.8,662.4 125.9,662 126,662.2 126.1,662.2 126.2,661.3 126.3,661.4 126.4,661.7 126.5,662.2 126.6,661.1 126.7,661.6 126.7,661.4 126.8,660.9 126.9,661.8 127,662.6 127.1,661.2 127.2,662 127.3,662.8 127.4,662.5 127.5,662 127.6,661.3 127.7,661.4 127.8,662.1 127.9,661.5 128,662.5 128.1,660.9 128.2,661.7 128.3,661.5 128.3,661.9 128.4,661.5 128.5,660.5 128.6,661.6 128.7,661.9 128.8,661.8 128.9,662.1 129,661.8 129.1,662.7 129.2,661.6 129.3,662.5 129.4,661.2 129.5,662 129.6,661.7 129.7,662.6 129.8,661.2 129.8,661.6 129.9,662.6 130,661.2 130.1,661.8 130.2,662.1 130.3,662.7 130.4,660.7 130.5,662.3 130.6,661.4 130.7,662.1 130.8,662.3 130.9,661.2 131,661.4 131.1,661.4 131.2,662 131.3,661.5 131.3,661.4 131.4,661 131.5,661.8 131.6,661.6 131.7,661.3 131.8,662.9 131.9,661.8 132,662 132.1,661.7 132.2,661.4 132.3,662.2 132.4,662.3 132.5,661.4 132.6,662.5 132.7,661.7 132.8,662.9 132.8,662.1 132.9,662 133,661.2 133.1,660.8 133.2,661.4 133.3,662.5 133.4,660.8 133.5,662.1 133.6,662 133.7,661.5 133.8,662.9 133.9,661.2 134,661.7 134.1,661.8 134.2,661.1 134.3,661.7 134.3,660.8 134.4,662.4 134.5,661.6 134.6,661.9 134.7,661.5 134.8,660.8 134.9,662.2 135,661.6 135.1,661.6 135.2,661.8 135.3,662.9 135.4,661.7 135.5,662.1 135.6,662.9 135.7,661.9 135.8,661 135.8,661.5 135.9,661.8 136,662.9 136.1,661 136.2,661.6 136.3,662.7 136.4,661.8 136.5,660.8 136.6,660.6 136.7,660.8 136.8,661.9 136.9,661.7 137,661.6 137.1,662.5 137.2,661.8 137.3,662 137.3,662.8 137.4,661.6 137.5,661.8 137.6,662.1 137.7,662 137.8,661.2 137.9,662.7 138,661.3 138.1,661 138.2,661.7 138.3,661 138.4,660.9 138.5,662.9 138.6,662 138.7,660.6 138.8,662.5 138.8,661.7 138.9,661.6 139,661.7 139.1,662.4 139.2,661.6 139.3,662.3 139.4,662.5 139.5,661.3 139.6,662.2 139.7,661.3 139.8,662.4 139.9,661.2 140,661.2 140.1,661.5 140.2,662.5 140.3,662.2 140.4,661.3 140.4,662.1 140.5,660.9 140.6,662 140.7,662.3 140.8,661.3 140.9,662.3 141,661.1 141.1,660.6 141.2,661.6 141.3,661.8 141.4,661.7 141.5,661.3 141.6,661.5 141.7,661.8 141.8,660.7 141.9,662.6 141.9,660.9 142,661.8 142.1,661.2 142.2,660.7 142.3,662.1 142.4,661.5 142.5,661.9 142.6,661 142.7,661.4 142.8,661.9 142.9,661.5 143,661.3 143.1,661.5 143.2,662.1 143.3,661 143.4,661.4 143.4,661.8 143.5,661.5 143.6,662.5 143.7,660.6 143.8,662.7 143.9,661.1 144,661.1 144.1,661.7 144.2,662.3 144.3,660.8 144.4,661.6 144.5,662.4 144.6,662.4 144.7,661.7 144.8,662.7 144.9,660.8 144.9,661.4 145,662.3 145.1,661 145.2,661.2 145.3,662 145.4,662.1 145.5,661.1 145.6,661.6 145.7,662.3 145.8,662.2 145.9,662.9 146,661.5 146.1,661.9 146.2,662.6 146.3,662.3 146.4,662.1 146.4,661.5 146.5,661.8 146.6,661.2 146.7,662.2 146.8,661.4 146.9,661.7 147,661 147.1,661.7 147.2,661.3 147.3,663 147.4,661.5 147.5,661.8 147.6,661.4 147.7,661.6 147.8,662.5 147.9,660.7 147.9,660.7 148,661.5 148.1,661 148.2,661.7 148.3,660.7 148.4,662.3 148.5,661.2 148.6,661.5 148.7,662.6 148.8,661.9 148.9,661.3 149,662.3 149.1,662.1 149.2,661.8 149.3,662 149.4,661.7 149.4,661.7 149.5,661.6 149.6,662.1 149.7,661.7 149.8,662.4 149.9,661 150,662 150.1,661.6 150.2,662 150.3,661.3 150.4,662.1 150.5,660.7 150.6,661.5 150.7,661.7 150.8,660.9 150.9,661.1 150.9,661.7 151,662.3 151.1,661.6 151.2,661.5 151.3,662.2 151.4,661.5 151.5,661.9 151.6,661.3 151.7,661.8 151.8,662.3 151.9,662.9 152,662.2 152.1,662.7 152.2,660.5 152.3,661 152.4,662.2 152.4,662.7 152.5,661.7 152.6,662.7 152.7,662.9 152.8,662.8 152.9,660.9 153,662.3 153.1,661.5 153.2,661.2 153.3,662 153.4,661.6 153.5,661.1 153.6,662.6 153.7,661.7 153.8,661.9 153.9,661.9 154,662.7 154,660.8 154.1,662.3 154.2,661.8 154.3,662.2 154.4,661.7 154.5,662.2 154.6,661.8 154.7,661.3 154.8,661.8 154.9,661.6 155,661.5 155.1,661.4 155.2,661.7 155.3,661.6 155.4,661.8 155.5,662.8 155.5,662.2 155.6,661 155.7,661.7 155.8,661.9 155.9,662.4 156,662.1 156.1,661.2 156.2,660.7 156.3,661.5 156.4,662.4 156.5,662.8 156.6,662 156.7,660.7 156.8,661.3 156.9,662.2 157,661.8 157,661.8 157.1,661.1 157.2,660.9 157.3,661.1 157.4,662.8 157.5,661.1 157.6,660.8 157.7,662 157.8,661.4 157.9,661.5 158,662.7 158.1,662.7 158.2,662.1 158.3,662.1 158.4,661.5 158.5,662.3 158.5,662.3 158.6,662.1 158.7,661 158.8,662 158.9,661.1 159,661.2 159.1,662 159.2,661.6 159.3,662.2 159.4,661.7 159.5,661.4 159.6,661.9 159.7,661.8 159.8,661.8 159.9,662 160,661 160,662.6 160.1,661.7 160.2,662.4 160.3,662.1 160.4,661.8 160.5,660.7 160.6,660.7 160.7,661.6 160.8,661.5 160.9,661.2 161,662.5 161.1,662.7 161.2,661.5 161.3,661.3 161.4,662.6 161.5,661.8 161.5,662.6 161.6,661.6 161.7,661.5 161.8,661.8 161.9,662.6 162,661.2 162.1,661.2 162.2,662.9 162.3,661.7 162.4,660.9 162.5,661.3 162.6,662.6 162.7,662 162.8,661.8 162.9,661.9 163,662.2 163,661.7 163.1,661.7 163.2,662 163.3,661.3 163.4,662.3 163.5,661.9 163.6,662.5 163.7,661.8 163.8,661.3 163.9,660.8 164,662.2 164.1,662.7 164.2,662.4 164.3,662 164.4,661.3 164.5,662.5 164.5,661.9 164.6,660.6 164.7,661.6 164.8,661.3 164.9,661.5 165,662.3 165.1,661.1 165.2,660.8 165.3,661.8 165.4,661.8 165.5,662 165.6,661.3 165.7,661.9 165.8,660.9 165.9,661.7 166,661.5 166,661.3 166.1,662.3 166.2,662.9 166.3,661.6 166.4,662.2 166.5,662.7 166.6,662 166.7,661.3 166.8,662.1 166.9,661.2 167,662.1 167.1,661.9 167.2,663 167.3,662.3 167.4,661.8 167.5,661.8 167.6,662.5 167.6,661.6 167.7,660.8 167.8,661.2 167.9,662.4 168,662 168.1,662.1 168.2,662.2 168.3,662.3 168.4,662.1 168.5,662.1 168.6,661.2 168.7,661 168.8,661.5 168.9,661.7 169,661.3 169.1,661.2 169.1,661 169.2,662.5 169.3,661.5 169.4,662.5 169.5,661.8 169.6,662 169.7,661.4 169.8,661.7 169.9,662.6 170,661.6 170.1,661.5 170.2,662.3 170.3,660.9 170.4,661.9 170.5,661.4 170.6,662.3 170.6,661.5 170.7,662.1 170.8,662.1 170.9,662.7 171,660.8 171.1,661.6 171.2,661.1 171.3,660.8 171.4,660.6 171.5,661.4 171.6,661.9 171.7,661.7 171.8,661.2 171.9,662 172,661.3 172.1,662.2 172.1,661.4 172.2,661.1 172.3,661.2 172.4,661.9 172.5,662.1 172.6,661.7 172.7,661.6 172.8,661.5 172.9,661.1 173,662.7 173.1,662.7 173.2,661.6 173.3,662 173.4,661.8 173.5,661.4 173.6,661.6 173.6,661.7 173.7,662.7 173.8,662.1 173.9,661.3 174,661.7 174.1,662.4 174.2,660.9 174.3,661.3 174.4,661.4 174.5,661.1 174.6,662.4 174.7,661.5 174.8,661.1 174.9,661.9 175,662 175.1,661.2 175.1,662.4 175.2,662.1 175.3,661.4 175.4,660.7 175.5,661.1 175.6,661.5 175.7,661.1 175.8,662 175.9,662.5 176,661.6 176.1,662.2 176.2,661.9 176.3,662.1 176.4,662 176.5,662.7 176.6,662.6 176.6,661.6 176.7,661.8 176.8,661.8 176.9,661.7 177,661.4 177.1,662.1 177.2,662.7 177.3,661.6 177.4,660.6 177.5,662.7 177.6,661.3 177.7,662 177.8,660.7 177.9,661.3 178,661.6 178.1,661.3 178.1,662.4 178.2,661.3 178.3,661.3 178.4,661.9 178.5,661.8 178.6,661.6 178.7,661.8 178.8,661 178.9,662.1 179,662 179.1,662.2 179.2,661.7 179.3,661.1 179.4,661.5 179.5,661.8 179.6,662.5 179.7,661.6 179.7,660.9 179.8,661.9 179.9,660.9 180,662 180.1,663 180.2,661.2 180.3,660.8 180.4,661.5 180.5,661.5 180.6,661.7 180.7,661.2 180.8,661.6 180.9,661.5 181,662.7 181.1,662.1 181.2,662.1 181.2,661.9 181.3,661.2 181.4,662.1 181.5,661.2 181.6,661.9 181.7,661.9 181.8,661.5 181.9,661.9 182,661.7 182.1,661.8 182.2,660.6 182.3,661.7 182.4,662.5 182.5,661.1 182.6,661.1 182.7,661.4 182.7,661.3 182.8,662.2 182.9,661.4 183,661.7 183.1,661.5 183.2,662 183.3,662 183.4,662.5 183.5,661.6 183.6,662.5 183.7,662.7 183.8,662 183.9,661.8 184,662.1 184.1,661.1 184.2,661.4 184.2,662.5 184.3,662.1 184.4,662.2 184.5,660.7 184.6,662 184.7,661.6 184.8,661.6 184.9,661.3 185,662 185.1,662.3 185.2,661.6 185.3,662.2 185.4,660.9 185.5,662.8 185.6,661.6 185.7,662.2 185.7,662.3 185.8,661.6 185.9,663 186,660.9 186.1,662.5 186.2,660.8 186.3,661.8 186.4,661.2 186.5,662.3 186.6,661.5 186.7,661 186.8,662 186.9,662.5 187,661.7 187.1,661.9 187.2,661.5 187.2,662.5 187.3,661.1 187.4,661.7 187.5,661.9 187.6,662.4 187.7,662.5 187.8,662.7 187.9,662.8 188,661.9 188.1,661.4 188.2,661.9 188.3,661.7 188.4,661.4 188.5,662.2 188.6,662.1 188.7,662.3 188.7,662.3 188.8,661.8 188.9,661.5 189,662.9 189.1,661 189.2,661.8 189.3,662.5 189.4,661.6 189.5,661.3 189.6,661.9 189.7,661.1 189.8,661.7 189.9,661.6 190,662 190.1,662.2 190.2,661.1 190.2,662.1 190.3,662.1 190.4,661.7 190.5,662.8 190.6,662.1 190.7,662.8 190.8,661.4 190.9,661.3 191,662.1 191.1,661.5 191.2,662.9 191.3,661.2 191.4,661.8 191.5,662.1 191.6,662 191.7,662.5 191.7,661.8 191.8,661.2 191.9,661.3 192,661.3 192.1,661.8 192.2,662.3 192.3,661.9 192.4,661.4 192.5,661.3 192.6,661.8 192.7,662.1 192.8,661.6 192.9,662.7 193,661.7 193.1,661.2 193.2,662.3 193.3,661.3 193.3,661.9 193.4,662 193.5,662.2 193.6,661.8 193.7,661.2 193.8,661.5 193.9,661 194,661.3 194.1,661 194.2,661.8 194.3,661.9 194.4,662.3 194.5,661.2 194.6,662.2 194.7,662.4 194.8,660.8 194.8,661.7 194.9,661.7 195,661.7 195.1,661.7 195.2,662.3 195.3,661.6 195.4,661.5 195.5,662.4 195.6,661.2 195.7,661.1 195.8,661.6 195.9,662.8 196,661.4 196.1,662 196.2,661.6 196.3,662 196.3,661.9 196.4,660.8 196.5,661.1 196.6,662.2 196.7,662 196.8,661.7 196.9,661.4 197,662.3 197.1,661.5 197.2,661.2 197.3,662 197.4,662.3 197.5,661.3 197.6,662 197.7,661.1 197.8,662 197.8,661.5 197.9,662.4 198,661.1 198.1,661.1 198.2,661.4 198.3,661.1 198.4,662.1 198.5,662.8 198.6,661.4 198.7,661.8 198.8,662.3 198.9,660.7 199,661.7 199.1,661.8 199.2,661.7 199.3,661.6 199.3,660.9 199.4,662 199.5,661.9 199.6,661.7 199.7,662.7 199.8,661.1 199.9,661.3 200,662 200.1,661.3 200.2,661.9 200.3,661.1 200.4,660.5 200.5,661 200.6,660.8 200.7,660.5 200.8,662.1 200.8,661.5 200.9,661.2 201,661.8 201.1,661.2 201.2,661.8 201.3,661.3 201.4,661.4 201.5,661.2 201.6,661.5 201.7,661.5 201.8,661.4 201.9,661.4 202,661.4 202.1,661.1 202.2,661.8 202.3,662.5 202.3,662.5 202.4,662.5 202.5,661.4 202.6,661.1 202.7,661.7 202.8,661.5 202.9,662.2 203,660.8 203.1,660.9 203.2,661.6 203.3,662.2 203.4,661.3 203.5,661.4 203.6,662.2 203.7,661.7 203.8,661.3 203.8,662.3 203.9,661.5 204,662.4 204.1,661 204.2,662.1 204.3,662.4 204.4,661.8 204.5,661.3 204.6,662.4 204.7,662.1 204.8,661.9 204.9,661.1 205,662.3 205.1,661.2 205.2,661.8 205.3,661.7 205.4,661.6 205.4,662.1 205.5,661.2 205.6,661.7 205.7,660.8 205.8,661.3 205.9,660.6 206,661.5 206.1,661.5 206.2,661 206.3,661.1 206.4,661.1 206.5,662.3 206.6,661.7 206.7,660.7 206.8,661.9 206.9,662.2 206.9,661 207,662.3 207.1,661.8 207.2,661.1 207.3,661.5 207.4,661.7 207.5,660.8 207.6,661.3 207.7,662.5 207.8,661.5 207.9,661.4 208,662 208.1,661.5 208.2,661.4 208.3,661.3 208.4,661.9 208.4,661.5 208.5,661.7 208.6,662.6 208.7,660.9 208.8,661.6 208.9,660.8 209,662.7 209.1,660.6 209.2,662.1 209.3,662 209.4,662.1 209.5,661.1 209.6,662.3 209.7,661.4 209.8,661.6 209.9,661.8 209.9,662.3 210,661 210.1,660.8 210.2,662.4 210.3,662.1 210.4,661.4 210.5,661.2 210.6,662.2 210.7,661.5 210.8,661.8 210.9,661.6 211,662.6 211.1,661.3 211.2,661.8 211.3,662.6 211.4,662.4 211.4,662 211.5,661.7 211.6,661.9 211.7,662.1 211.8,660.8 211.9,660.7 212,660.6 212.1,662.1 212.2,661.7 212.3,660.8 212.4,661.6 212.5,661.5 212.6,660.8 212.7,661.1 212.8,660.9 212.9,662.4 212.9,662.1 213,661.5 213.1,661.9 213.2,661.8 213.3,661.4 213.4,660.5 213.5,661.2 213.6,661.8 213.7,661.6 213.8,661 213.9,661.1 214,662.2 214.1,662.6 214.2,661.9 214.3,661.9 214.4,662.2 214.4,662.1 214.5,661.2 214.6,662.9 214.7,661.4 214.8,661 214.9,661.6 215,660.6 215.1,662 215.2,660.5 215.3,661.8 215.4,661.8 215.5,661.3 215.6,661.5 215.7,661.1 215.8,662.1 215.9,661.9 215.9,662.4 216,661.7 216.1,661.3 216.2,661.1 216.3,661.2 216.4,660.6 216.5,658.2 216.6,651.4 216.7,643.3 216.8,638.1 216.9,642.7 217,651.7 217.1,657.9 217.2,660 217.3,662.1 217.4,661.9 217.4,662 217.5,661.5 217.6,661.8 217.7,661.8 217.8,661.7 217.9,662.1 218,662.6 218.1,660.6 218.2,661.3 218.3,661.6 218.4,662.3 218.5,662.3 218.6,661.3 218.7,662.7 218.8,662.7 218.9,661.5 219,661.7 219,660.8 219.1,661.7 219.2,661.8 219.3,661.7 219.4,662.3 219.5,661.5 219.6,661.5 219.7,661.9 219.8,660.7 219.9,661.2 220,662.4 220.1,662 220.2,661.4 220.3,661.7 220.4,661.5 220.5,662.5 220.5,661.5 220.6,661.4 220.7,662.6 220.8,661.2 220.9,662.2 221,661.6 221.1,662.2 221.2,661.7 221.3,661.6 221.4,660.2 221.5,659.9 221.6,659.8 221.7,659.5 221.8,660.6 221.9,660.7 222,661.6 222,662.1 222.1,662.3 222.2,660.7 222.3,661.8 222.4,661.2 222.5,661.3 222.6,661.8 222.7,661.7 222.8,661.6 222.9,662.3 223,661.2 223.1,662.2 223.2,661.2 223.3,662.2 223.4,662.3 223.5,660.8 223.5,661.8 223.6,660.6 223.7,661.2 223.8,662 223.9,662.7 224,661.1 224.1,662.6 224.2,661.7 224.3,661.2 224.4,662.1 224.5,662.3 224.6,661.7 224.7,662.3 224.8,661.9 224.9,662.3 225,662.2 225,661.1 225.1,662.3 225.2,661.6 225.3,662.3 225.4,661.5 225.5,662 225.6,661.3 225.7,662 225.8,661.9 225.9,662.3 226,661.2 226.1,662.4 226.2,661 226.3,661.9 226.4,661.1 226.5,662.2 226.5,661.6 226.6,663 226.7,661.7 226.8,661.5 226.9,661.9 227,661.5 227.1,662.5 227.2,662.1 227.3,661.8 227.4,661.8 227.5,661.1 227.6,661 227.7,660.9 227.8,660.6 227.9,662.7 228,661.5 228,661.6 228.1,661 228.2,661.9 228.3,661.8 228.4,660.8 228.5,662.5 228.6,662.3 228.7,661.4 228.8,662 228.9,661.9 229,660.9 229.1,661.1 229.2,661.9 229.3,662.3 229.4,662.2 229.5,660.6 229.5,661.6 229.6,662.1 229.7,661.8 229.8,661.2 229.9,661.4 230,661.3 230.1,662.7 230.2,661.2 230.3,662.8 230.4,661.8 230.5,661.4 230.6,662.3 230.7,662 230.8,661.5 230.9,660.5 231,661.6 231,661.4 231.1,662.6 231.2,661.8 231.3,661.7 231.4,661.4 231.5,662 231.6,662.9 231.7,663 231.8,661.6 231.9,662.3 232,662.1 232.1,661.8 232.2,661.3 232.3,662.6 232.4,660.8 232.5,662.2 232.6,662.6 232.6,660.9 232.7,662.5 232.8,661.9 232.9,661.4 233,660.9 233.1,661.6 233.2,661.2 233.3,660.9 233.4,661.6 233.5,662 233.6,661.5 233.7,662.2 233.8,662.8 233.9,661.9 234,661.4 234.1,661.7 234.1,661.8 234.2,660.7 234.3,661.3 234.4,662.1 234.5,661 234.6,661.1 234.7,662 234.8,661 234.9,660.8 235,662 235.1,662.3 235.2,662.3 235.3,662.4 235.4,661.8 235.5,662.6 235.6,661.4 235.6,661.6 235.7,661.8 235.8,661.7 235.9,660.9 236,661.4 236.1,662.4 236.2,662.1 236.3,661.6 236.4,661.9 236.5,661.9 236.6,661.7 236.7,660.7 236.8,662.5 236.9,661.9 237,661.7 237.1,661.6 237.1,661.6 237.2,662 237.3,662.5 237.4,661.8 237.5,662.2 237.6,661.5 237.7,662.4 237.8,662.1 237.9,661.3 238,661.5 238.1,662 238.2,662.5 238.3,661.8 238.4,661.1 238.5,662 238.6,661.7 238.6,661.2 238.7,660.9 238.8,662 238.9,662.1 239,662.1 239.1,661.5 239.2,661.3 239.3,661.6 239.4,662.1 239.5,661.3 239.6,660.9 239.7,661.2 239.8,661.8 239.9,661.7 240,661.9 240.1,662 240.1,662 240.2,662.3 240.3,662.3 240.4,661.8 240.5,661.5 240.6,662.1 240.7,661.2 240.8,661.3 240.9,661.9 241,662.1 241.1,662.6 241.2,661.9 241.3,660.9 241.4,661 241.5,662.1 241.6,661.2 241.6,662 241.7,660.8 241.8,662.2 241.9,662.1 242,662.3 242.1,660.9 242.2,661.9 242.3,661.4 242.4,660.6 242.5,661.5 242.6,661.1 242.7,662.5 242.8,661.2 242.9,661.8 243,661.1 243.1,662.2 243.1,661.8 243.2,661.2 243.3,662 243.4,661.3 243.5,661.8 243.6,661.2 243.7,661.6 243.8,661.8 243.9,662.7 244,661.5 244.1,661.7 244.2,661.9 244.3,661.5 244.4,662.2 244.5,662.2 244.6,662.3 244.7,661.2 244.7,662.9 244.8,661.7 244.9,662.1 245,661.9 245.1,661.3 245.2,661.4 245.3,661.5 245.4,661.4 245.5,660.7 245.6,660.7 245.7,662.7 245.8,661.2 245.9,662.5 246,662 246.1,661.4 246.2,662.7 246.2,661.2 246.3,662 246.4,661.1 246.5,661.7 246.6,662 246.7,661.8 246.8,661.9 246.9,661.8 247,660.9 247.1,662.4 247.2,662.8 247.3,661 247.4,662.4 247.5,661.5 247.6,660.5 247.7,661.8 247.7,662.3 247.8,661.7 247.9,661.3 248,661.9 248.1,663 248.2,662.9 248.3,661.5 248.4,662.3 248.5,660.8 248.6,660.9 248.7,662.1 248.8,662 248.9,661.4 249,661.1 249.1,661 249.2,661.6 249.2,662.1 249.3,661 249.4,660.8 249.5,661.4 249.6,662.3 249.7,660.7 249.8,661.6 249.9,661.7 250,661.1 250.1,661.3 250.2,660.7 250.3,661.8 250.4,661.8 250.5,661.9 250.6,662.1 250.7,661.7 250.7,662.2 250.8,662.5 250.9,661.9 251,661.9 251.1,661.5 251.2,661.9 251.3,661.6 251.4,661.5 251.5,662.2 251.6,661.1 251.7,661.7 251.8,662.5 251.9,661.4 252,661.9 252.1,661.7 252.2,660.7 252.2,661.7 252.3,662 252.4,661.5 252.5,662 252.6,662.7 252.7,662 252.8,662 252.9,662.1 253,660.7 253.1,662.4 253.2,661.2 253.3,661 253.4,661.7 253.5,661 253.6,662.5 253.7,661.5 253.7,662.2 253.8,662.1 253.9,661.2 254,662.4 254.1,661.3 254.2,662.8 254.3,661 254.4,661.1 254.5,661.8 254.6,662.2 254.7,662.8 254.8,661.1 254.9,661.9 255,661.8 255.1,661.7 255.2,661.1 255.2,661.6 255.3,661.3 255.4,661.3 255.5,661.4 255.6,662.1 255.7,662.8 255.8,661.8 255.9,661.2 256,662.9 256.1,661.7 256.2,660.8 256.3,662.2 256.4,661.7 256.5,662 256.6,661 256.7,662.3 256.7,661.1 256.8,661.8 256.9,661.3 257,662.1 257.1,660.8 257.2,661.6 257.3,661.4 257.4,661 257.5,661.3 257.6,661.4 257.7,662.1 257.8,660.9 257.9,661.8 258,662.3 258.1,661.6 258.2,661.3 258.3,662.4 258.3,661.8 258.4,662.1 258.5,662.7 258.6,662.1 258.7,661.9 258.8,661.3 258.9,661.8 259,661.4 259.1,662 259.2,661.4 259.3,661.1 259.4,661.7 259.5,662.4 259.6,661.3 259.7,661.9 259.8,660.6 259.8,662 259.9,661.7 260,662.2 260.1,661.6 260.2,662.1 260.3,661.6 260.4,662.3 260.5,661.2 260.6,661.9 260.7,661.3 260.8,661.3 260.9,661.4 261,661.6 261.1,660.9 261.2,662.1 261.3,661.7 261.3,662.7 261.4,662.8 261.5,662.5 261.6,661.5 261.7,662.8 261.8,662.6 261.9,661 262,661.4 262.1,662.2 262.2,662.1 262.3,662.4 262.4,662.5 262.5,662.2 262.6,661.6 262.7,661.2 262.8,661.6 262.8,661.8 262.9,661.8 263,661 263.1,662 263.2,661.8 263.3,661.1 263.4,661.9 263.5,662.4 263.6,662.4 263.7,660.9 263.8,661.8 263.9,662.8 264,661.9 264.1,661.9 264.2,662.2 264.3,660.8 264.3,660.7 264.4,662.2 264.5,661.5 264.6,661.3 264.7,662.3 264.8,662.8 264.9,661.7 265,661.4 265.1,661.9 265.2,661.2 265.3,661.6 265.4,661.5 265.5,661.7 265.6,660.5 265.7,661.5 265.8,662.7 265.8,662.3 265.9,662 266,662.1 266.1,661.5 266.2,661.7 266.3,661.6 266.4,662.3 266.5,661.8 266.6,662.6 266.7,660.8 266.8,661.4 266.9,661.7 267,661.6 267.1,662.3 267.2,662.3 267.3,662.2 267.3,661.5 267.4,662.8 267.5,661.4 267.6,662.5 267.7,662 267.8,661.9 267.9,662 268,662.3 268.1,661.7 268.2,662 268.3,660.6 268.4,662.2 268.5,660.8 268.6,660.8 268.7,661.6 268.8,661.8 268.8,661.9 268.9,661.1 269,661.1 269.1,662.6 269.2,661.1 269.3,660.9 269.4,661.6 269.5,661.9 269.6,661.3 269.7,662 269.8,661 269.9,661.1 270,662.2 270.1,662.9 270.2,661.5 270.3,661.3 270.3,660.8 270.4,662.2 270.5,660.7 270.6,661.9 270.7,660.7 270.8,661.9 270.9,662.6 271,661.8 271.1,662.7 271.2,661.6 271.3,661.3 271.4,661.6 271.5,661.3 271.6,660.8 271.7,661 271.8,661.6 271.9,660.9 271.9,662 272,661.7 272.1,662 272.2,661.8 272.3,661.6 272.4,661.8 272.5,661.6 272.6,662 272.7,661.1 272.8,661.7 272.9,662.1 273,661.6 273.1,662.3 273.2,662.1 273.3,662.4 273.4,660.6 273.4,661.7 273.5,660.7 273.6,661.9 273.7,661.5 273.8,662.7 273.9,661.4 274,661.1 274.1,662.6 274.2,661.5 274.3,661.5 274.4,662.2 274.5,661.5 274.6,662.5 274.7,662 274.8,661.8 274.9,661.5 274.9,661.8 275,662.4 275.1,661.6 275.2,661.9 275.3,662.1 275.4,661.7 275.5,661.1 275.6,661.5 275.7,662.5 275.8,662.2 275.9,661.3 276,661.4 276.1,661.3 276.2,661 276.3,661.2 276.4,661.8 276.4,661.3 276.5,662.1 276.6,661.3 276.7,660.4 276.8,660.9 276.9,662.8 277,662.5 277.1,661.4 277.2,660.6 277.3,661.1 277.4,662.3 277.5,661.3 277.6,662.4 277.7,661.5 277.8,662 277.9,661 277.9,662.7 278,661.6 278.1,660.7 278.2,661.1 278.3,661.2 278.4,660.8 278.5,661.6 278.6,661.5 278.7,660.5 278.8,662 278.9,662.4 279,661.5 279.1,661.9 279.2,661.5 279.3,660.9 279.4,661.1 279.4,661.5 279.5,661.7 279.6,662 279.7,661.8 279.8,661.1 279.9,661.3 280,661.9 280.1,660.9 280.2,662.3 280.3,661.3 280.4,660.9 280.5,662.3 280.6,661.4 280.7,662 280.8,662.3 280.9,660.7 280.9,661.3 281,661.5 281.1,660.8 281.2,660.3 281.3,661 281.4,661.3 281.5,661.5 281.6,661.3 281.7,661.4 281.8,660.4 281.9,661.4 282,662.8 282.1,661.6 282.2,661.7 282.3,662 282.4,661.7 282.4,662.2 282.5,660.9 282.6,662.3 282.7,661.1 282.8,661.6 282.9,660.8 283,661.7 283.1,660.4 283.2,660.8 283.3,661.7 283.4,660.9 283.5,661.5 283.6,662.1 283.7,662.6 283.8,660.9 283.9,661.9 284,661.2 284,661.8 284.1,662.5 284.2,661.5 284.3,660.3 284.4,660.6 284.5,660.9 284.6,662 284.7,662 284.8,661.8 284.9,662.1 285,661.4 285.1,661 285.2,661 285.3,661.2 285.4,661.2 285.5,661.7 285.5,660.7 285.6,661.5 285.7,662.2 285.8,661.2 285.9,662.6 286,661.7 286.1,660.7 286.2,661.7 286.3,662.2 286.4,662.2 286.5,660.2 286.6,661.4 286.7,661.6 286.8,661.1 286.9,661.3 287,661.1 287,660.8 287.1,662 287.2,662.5 287.3,660.7 287.4,662 287.5,660.9 287.6,660.9 287.7,661.4 287.8,661.8 287.9,661.3 288,661.3 288.1,661.9 288.2,661.1 288.3,661.5 288.4,662.3 288.5,661.5 288.5,661.9 288.6,661.2 288.7,661.4 288.8,661 288.9,661 289,660.7 289.1,661.4 289.2,661.5 289.3,660.9 289.4,661.7 289.5,660.9 289.6,661.2 289.7,660.3 289.8,661 289.9,661.6 290,661.6 290,661.1 290.1,661.1 290.2,662 290.3,661.6 290.4,660.4 290.5,661.8 290.6,660.7 290.7,661 290.8,661.9 290.9,661.6 291,660.9 291.1,661.1 291.2,660.8 291.3,660.1 291.4,661 291.5,661.8 291.5,661.7 291.6,660.1 291.7,662.2 291.8,662.1 291.9,661.8 292,661.3 292.1,661.4 292.2,661.3 292.3,661.4 292.4,661.1 292.5,662 292.6,660.8 292.7,661.9 292.8,661.7 292.9,662.4 293,660.5 293,662.2 293.1,661.6 293.2,662.4 293.3,661.8 293.4,661.7 293.5,661.7 293.6,661.4 293.7,662 293.8,661.2 293.9,660.5 294,661.4 294.1,661.8 294.2,660.9 294.3,661 294.4,661.2 294.5,661.4 294.5,661.1 294.6,660.2 294.7,660.8 294.8,660.9 294.9,660.7 295,660.2 295.1,661.3 295.2,660.8 295.3,660.3 295.4,661.8 295.5,661.4 295.6,660.4 295.7,660.6 295.8,660.9 295.9,661.1 296,662.3 296,661.1 296.1,661 296.2,661.9 296.3,661 296.4,660.8 296.5,661.2 296.6,662.4 296.7,660.6 296.8,661.4 296.9,661 297,661.4 297.1,661 297.2,661 297.3,661.2 297.4,661.9 297.5,661.5 297.6,661.5 297.6,661.2 297.7,661.3 297.8,661.9 297.9,661.6 298,660.6 298.1,661.5 298.2,661.8 298.3,661 298.4,661.3 298.5,661.6 298.6,660.8 298.7,660.7 298.8,661.3 298.9,660.8 299,661.3 299.1,661.5 299.1,661.4 299.2,662.3 299.3,660.6 299.4,660.5 299.5,661.5 299.6,661.7 299.7,661.1 299.8,660.4 299.9,661.6 300,661.5 300.1,661.7 300.2,662 300.3,660.8 300.4,660.8 300.5,660.9 300.6,661.2 300.6,661.5 300.7,661.9 300.8,661 300.9,662.3 301,660.3 301.1,661.2 301.2,660 301.3,660.9 301.4,661.7 301.5,661.9 301.6,661.5 301.7,660.8 301.8,661.7 301.9,662.2 302,662.2 302.1,661.4 302.1,661.9 302.2,661 302.3,661.1 302.4,661.6 302.5,661 302.6,660.9 302.7,660.9 302.8,661.3 302.9,661.8 303,660.9 303.1,662 303.2,660.7 303.3,662 303.4,660.7 303.5,661.9 303.6,661 303.6,660.3 303.7,661 303.8,660.3 303.9,661.7 304,661.5 304.1,661.5 304.2,661.3 304.3,660.2 304.4,661.3 304.5,662.3 304.6,661.4 304.7,660.5 304.8,661 304.9,660.8 305,660.9 305.1,662 305.1,661.7 305.2,660.1 305.3,660 305.4,660.8 305.5,661 305.6,660.6 305.7,661.4 305.8,660.3 305.9,660.9 306,661.7 306.1,661.1 306.2,660.3 306.3,661.4 306.4,662.2 306.5,661.1 306.6,661.2 306.6,660.8 306.7,661.8 306.8,661.4 306.9,660.6 307,661.1 307.1,661.1 307.2,661.8 307.3,660.9 307.4,660.8 307.5,661 307.6,661.5 307.7,661.2 307.8,660.8 307.9,661.4 308,660.4 308.1,661.8 308.1,661.2 308.2,660.9 308.3,661.4 308.4,661.6 308.5,661.5 308.6,660.7 308.7,661.7 308.8,661.1 308.9,660.1 309,662.1 309.1,661.8 309.2,661.3 309.3,660.9 309.4,662.1 309.5,660 309.6,660.6 309.7,661.2 309.7,660.5 309.8,661.7 309.9,660.7 310,661.3 310.1,660.6 310.2,660.8 310.3,661 310.4,661.8 310.5,661.7 310.6,660.8 310.7,661.1 310.8,660.6 310.9,661.5 311,660 311.1,660.4 311.2,660.1 311.2,660.6 311.3,661.4 311.4,660.5 311.5,661.2 311.6,660.4 311.7,660.9 311.8,660.8 311.9,662.3 312,661 312.1,661.5 312.2,661.3 312.3,661.4 312.4,660.8 312.5,662 312.6,661 312.7,662 312.7,660.7 312.8,660.4 312.9,660.7 313,662 313.1,661.6 313.2,661.9 313.3,661 313.4,659.8 313.5,659.9 313.6,660.8 313.7,660.6 313.8,660.6 313.9,660.2 314,662 314.1,661.3 314.2,661.3 314.2,661 314.3,660.9 314.4,660.7 314.5,661.6 314.6,660.8 314.7,660.9 314.8,660.7 314.9,659.9 315,661.1 315.1,660.7 315.2,661.1 315.3,661.1 315.4,660.9 315.5,660.8 315.6,660.4 315.7,661.1 315.7,660.9 315.8,660.3 315.9,661.5 316,660.8 316.1,660.9 316.2,660.4 316.3,659.6 316.4,661.2 316.5,660.3 316.6,660.1 316.7,659.9 316.8,660.1 316.9,660 317,660.5 317.1,661.6 317.2,659.9 317.2,659.4 317.3,661 317.4,660.8 317.5,659.2 317.6,659.8 317.7,659.9 317.8,660.1 317.9,660 318,659.2 318.1,659.4 318.2,660.1 318.3,660.4 318.4,659.7 318.5,659.4 318.6,659.2 318.7,659 318.7,659.7 318.8,657.7 318.9,659 319,657.9 319.1,658.3 319.2,658.8 319.3,658.3 319.4,657.4 319.5,656.4 319.6,656.4 319.7,655.3 319.8,656.3 319.9,654.1 320,653.8 320.1,653.2 320.2,652.4 320.2,648.4 320.3,635.2 320.4,610.1 320.5,565.5 320.6,505.9 320.7,450.5 320.8,428.5 320.9,451.1 321,504.6 321.1,563.4 321.2,609.2 321.3,633.9 321.4,646.3 321.5,650.3 321.6,652.3 321.7,653.1 321.7,653 321.8,654.2 321.9,654.8 322,654.5 322.1,654.8 322.2,657.1 322.3,657.6 322.4,656.6 322.5,656.7 322.6,657.4 322.7,657.5 322.8,657.5 322.9,658.7 323,658.1 323.1,659.2 323.2,659.5 323.3,660.1 323.3,660.2 323.4,659 323.5,659.4 323.6,659.8 323.7,659 323.8,659.6 323.9,660.1 324,659.2 324.1,659.6 324.2,660.1 324.3,659.6 324.4,660.2 324.5,660 324.6,660.1 324.7,660.8 324.8,660.6 324.8,659.5 324.9,660.4 325,660 325.1,660.5 325.2,660.1 325.3,660.9 325.4,659.4 325.5,660.7 325.6,659.9 325.7,660.4 325.8,660.3 325.9,660.9 326,660.3 326.1,660.9 326.2,660.1 326.3,659.7 326.3,661.2 326.4,661 326.5,660.5 326.6,660.9 326.7,660.1 326.8,659.9 326.9,660.4 327,660.3 327.1,660.8 327.2,660.8 327.3,660.1 327.4,660.8 327.5,660.3 327.6,661.3 327.7,660.4 327.8,660.3 327.8,661.1 327.9,660.9 328,660.2 328.1,660.6 328.2,660.7 328.3,660.5 328.4,660.5 328.5,661.1 328.6,659.9 328.7,660.8 328.8,660.8 328.9,660.9 329,660.9 329.1,660.9 329.2,660.2 329.3,661 329.3,660.8 329.4,660.7 329.5,661.5 329.6,661.2 329.7,660.7 329.8,660.6 329.9,661.6 330,661.2 330.1,660.7 330.2,660.6 330.3,660.2 330.4,661.6 330.5,660.5 330.6,660.9 330.7,661.6 330.8,661.3 330.8,659.8 330.9,661.1 331,660.3 331.1,661.1 331.2,660.4 331.3,660.8 331.4,660.1 331.5,660.5 331.6,660.7 331.7,660.7 331.8,661.4 331.9,660.1 332,661 332.1,661.4 332.2,660.8 332.3,661.1 332.3,660.8 332.4,660.3 332.5,661 332.6,660.4 332.7,661.1 332.8,659.9 332.9,660 333,660.1 333.1,659.7 333.2,659.4 333.3,660.8 333.4,659.4 333.5,661.6 333.6,659.4 333.7,660.8 333.8,660.2 333.8,660 333.9,659 334,658.3 334.1,656.7 334.2,657.1 334.3,658.8 334.4,661.2 334.5,659.9 334.6,661 334.7,660.9 334.8,659.2 334.9,660 335,660.8 335.1,659.6 335.2,656.2 335.3,654.1 335.3,652.7 335.4,654.6 335.5,656.4 335.6,659.7 335.7,660.9 335.8,660.3 335.9,659.9 336,660.3 336.1,659.5 336.2,659.4 336.3,660.2 336.4,659.1 336.5,660.2 336.6,659.7 336.7,659.8 336.8,660.5 336.9,659.5 336.9,659.4 337,661.1 337.1,659 337.2,660.6 337.3,659.8 337.4,658.9 337.5,656.9 337.6,653.4 337.7,650.6 337.8,648.8 337.9,649.8 338,653.3 338.1,656.6 338.2,658.8 338.3,659.8 338.4,660.2 338.4,660.3 338.5,659.1 338.6,660.8 338.7,660 338.8,660.5 338.9,659.3 339,659.7 339.1,659.8 339.2,659.8 339.3,660.2 339.4,659.8 339.5,659.7 339.6,659.2 339.7,661.1 339.8,659.5 339.9,659 339.9,659.7 340,660.3 340.1,660.1 340.2,659.6 340.3,659.6 340.4,660.7 340.5,660.2 340.6,659.1 340.7,660.6 340.8,660.3 340.9,660.1 341,660.8 341.1,659.1 341.2,659.6 341.3,659.9 341.4,660.3 341.4,659.8 341.5,660.4 341.6,660.5 341.7,659.5 341.8,660.2 341.9,659.5 342,660.3 342.1,660.8 342.2,660.4 342.3,661.1 342.4,659.8 342.5,660.4 342.6,660.1 342.7,660.8 342.8,660.1 342.9,660.7 342.9,660.5 343,660.7 343.1,660.3 343.2,660.9 343.3,660.5 343.4,660.5 343.5,661 343.6,660.1 343.7,660.4 343.8,661.8 343.9,660.2 344,660.9 344.1,660.7 344.2,661.2 344.3,660.8 344.4,661.3 344.4,660.6 344.5,660.6 344.6,660.7 344.7,659.9 344.8,661.9 344.9,661 345,661.4 345.1,661.6 345.2,661 345.3,661.2 345.4,660.5 345.5,661.1 345.6,660.6 345.7,661 345.8,661.3 345.9,660.5 345.9,661.5 346,660.2 346.1,661.2 346.2,660.7 346.3,661.9 346.4,660.2 346.5,660.9 346.6,661.3 346.7,660.7 346.8,661.5 346.9,662.1 347,660.5 347.1,660.6 347.2,662 347.3,661.2 347.4,660.7 347.4,662.2 347.5,661.3 347.6,661 347.7,661.3 347.8,662 347.9,661.8 348,661.6 348.1,661.5 348.2,661.5 348.3,661 348.4,661.8 348.5,662.4 348.6,661.8 348.7,661.6 348.8,661.5 348.9,662.1 349,661.5 349,660.9 349.1,662.1 349.2,661.1 349.3,661.5 349.4,661.5 349.5,661.8 349.6,660.6 349.7,661.9 349.8,661.2 349.9,661.2 350,660.8 350.1,662.2 350.2,662.3 350.3,661 350.4,661.1 350.5,661.5 350.5,661.3 350.6,662.1 350.7,662.7 350.8,661.4 350.9,661.4 351,661.9 351.1,662.2 351.2,661.3 351.3,661.8 351.4,661.7 351.5,661.8 351.6,661.7 351.7,662.7 351.8,662.4 351.9,662 352,662.1 352,662.1 352.1,661 352.2,662.6 352.3,661.4 352.4,661.5 352.5,662.2 352.6,661.5 352.7,660.4 352.8,662.1 352.9,661.2 353,660.7 353.1,661.8 353.2,662.1 353.3,660.3 353.4,661.1 353.5,661.2 353.5,662.4 353.6,661.4 353.7,661.3 353.8,661.4 353.9,662.3 354,661.9 354.1,660.5 354.2,660.7 354.3,661.3 354.4,660.5 354.5,662.1 354.6,660.2 354.7,661.4 354.8,661.3 354.9,660.3 355,658.2 355,657.1 355.1,656.7 355.2,658.2 355.3,658 355.4,659.5 355.5,660.6 355.6,661.4 355.7,661.6 355.8,661.2 355.9,661.1 356,661.2 356.1,661.2 356.2,661.3 356.3,660.4 356.4,660.5 356.5,660 356.5,659 356.6,659.7 356.7,659 356.8,659.5 356.9,660.9 357,661.4 357.1,660.6 357.2,661.3 357.3,661.5 357.4,660.8 357.5,661.2 357.6,660.6 357.7,661.7 357.8,661.1 357.9,660.5 358,661 358,660.3 358.1,660.7 358.2,660.7 358.3,661.8 358.4,659.8 358.5,660.1 358.6,659.4 358.7,660.6 358.8,659.1 358.9,660.8 359,660.4 359.1,659.9 359.2,661.3 359.3,661.8 359.4,660.8 359.5,661.1 359.5,661.5 359.6,662 359.7,660.2 359.8,661.1 359.9,661.2 360,660.8 360.1,661.4 360.2,661.4 360.3,661.1 360.4,661.5 360.5,661 360.6,661.1 360.7,660.8 360.8,660.9 360.9,661 361,661 361,660.8 361.1,661.1 361.2,661.4 361.3,661.3 361.4,661 361.5,661.6 361.6,661.5 361.7,662.1 361.8,661.2 361.9,661.8 362,662.3 362.1,662.5 362.2,661.6 362.3,660.9 362.4,661 362.5,661 362.6,661.1 362.6,662.1 362.7,662.1 362.8,661.7 362.9,661.1 363,660.6 363.1,661.5 363.2,661.8 363.3,660.9 363.4,661.4 363.5,660.9 363.6,662.5 363.7,661.8 363.8,661.2 363.9,661.6 364,660.3 364.1,660.9 364.1,661 364.2,661.6 364.3,661.7 364.4,662 364.5,661.2 364.6,661.2 364.7,661.5 364.8,661.5 364.9,661 365,661.7 365.1,660.4 365.2,661.5 365.3,661.3 365.4,661.7 365.5,661.7 365.6,661.5 365.6,661.7 365.7,660.8 365.8,661.2 365.9,662.6 366,661.5 366.1,660.8 366.2,662.2 366.3,661.6 366.4,660.6 366.5,662.2 366.6,662 366.7,661.5 366.8,661.5 366.9,662.5 367,661.7 367.1,660.9 367.1,662 367.2,661.7 367.3,660.7 367.4,661.6 367.5,662.1 367.6,661.2 367.7,661.4 367.8,660.9 367.9,661.5 368,662.2 368.1,661.3 368.2,661.8 368.3,661.5 368.4,660.5 368.5,661.8 368.6,661.7 368.6,661.6 368.7,661.3 368.8,660.9 368.9,661.5 369,662.6 369.1,661.2 369.2,662.3 369.3,662 369.4,661.6 369.5,661.4 369.6,662 369.7,660.6 369.8,661 369.9,661.9 370,662.5 370.1,661.5 370.1,661.6 370.2,661.5 370.3,662.1 370.4,662.8 370.5,661.3 370.6,661.4 370.7,661.6 370.8,662 370.9,662.7 371,662.4 371.1,661.6 371.2,661.4 371.3,661.6 371.4,661.6 371.5,662.8 371.6,662.1 371.6,661.8 371.7,661.8 371.8,662 371.9,661.9 372,661.8 372.1,662 372.2,661.5 372.3,662.4 372.4,662.2 372.5,661.4 372.6,662.7 372.7,660.8 372.8,662.9 372.9,662.3 373,660.7 373.1,661.7 373.1,661.4 373.2,662 373.3,661.4 373.4,661.9 373.5,661.6 373.6,662 373.7,662.6 373.8,661.3 373.9,661.9 374,661.6 374.1,661.9 374.2,661.1 374.3,661.8 374.4,661.3 374.5,661 374.6,662.3 374.7,661.4 374.7,661.9 374.8,661.2 374.9,662.5 375,661.8 375.1,662.8 375.2,662.2 375.3,661.7 375.4,661.6 375.5,661.8 375.6,661.6 375.7,661.9 375.8,661.7 375.9,662.4 376,662.6 376.1,661.6 376.2,661.2 376.2,662.2 376.3,662.1 376.4,662 376.5,662.1 376.6,662.1 376.7,662 376.8,661.8 376.9,661.4 377,662.1 377.1,661.2 377.2,661.1 377.3,662.9 377.4,661.8 377.5,662.3 377.6,661.4 377.7,661.6 377.7,661.6 377.8,662.2 377.9,661.4 378,661.2 378.1,661.9 378.2,662.6 378.3,662.5 378.4,662.1 378.5,661.4 378.6,661.4 378.7,661.7 378.8,662.6 378.9,662 379,662.4 379.1,662.7 379.2,661.1 379.2,661.3 379.3,660.9 379.4,661.3 379.5,661.3 379.6,661.3 379.7,662.7 379.8,661.6 379.9,662.5 380,661.7 380.1,662 380.2,661.7 380.3,661.3 380.4,662.5 380.5,662.5 380.6,661.4 380.7,661.5 380.7,661.2 380.8,661.9 380.9,660.9 381,661.6 381.1,660.7 381.2,662.7 381.3,662.1 381.4,662.6 381.5,661.9 381.6,660.8 381.7,662 381.8,661.4 381.9,661.4 382,661.5 382.1,662 382.2,661.3 382.2,662.1 382.3,661.6 382.4,661.2 382.5,661.4 382.6,660.6 382.7,660.6 382.8,660.9 382.9,660.9 383,661.9 383.1,661.8 383.2,662 383.3,662.5 383.4,661.8 383.5,661 383.6,661.2 383.7,661.6 383.7,660.5 383.8,661.5 383.9,662.5 384,662.2 384.1,661.3 384.2,661.7 384.3,662.3 384.4,662.1 384.5,661.1 384.6,662.8 384.7,661.4 384.8,661.8 384.9,661.1 385,661.7 385.1,661.8 385.2,661.7 385.2,661.2 385.3,661.1 385.4,661.4 385.5,661.3 385.6,661.9 385.7,660.8 385.8,661.4 385.9,661.2 386,662.1 386.1,661.7 386.2,661.7 386.3,662.1 386.4,661.1 386.5,661.3 386.6,661.4 386.7,661.5 386.7,662.4 386.8,662.4 386.9,662.6 387,661.7 387.1,661.5 387.2,661.2 387.3,662 387.4,661.2 387.5,661.5 387.6,662.2 387.7,661.8 387.8,661.4 387.9,661.5 388,661.6 388.1,662.5 388.2,662.3 388.3,662.6 388.3,661.9 388.4,661.7 388.5,662.3 388.6,660.8 388.7,661.4 388.8,662.5 388.9,661.4 389,661.8 389.1,661.4 389.2,661.4 389.3,661.8 389.4,660.6 389.5,662 389.6,662.5 389.7,662.7 389.8,662.2 389.8,662.3 389.9,662 390,662.3 390.1,662.1 390.2,662.7 390.3,661.8 390.4,662.1 390.5,661.2 390.6,662.6 390.7,662.5 390.8,660.9 390.9,661.5 391,661.9 391.1,662.5 391.2,661.2 391.3,662 391.3,662.3 391.4,662.2 391.5,662.8 391.6,662.5 391.7,661.9 391.8,662.9 391.9,660.8 392,661.7 392.1,660.8 392.2,661.4 392.3,661.7 392.4,662.2 392.5,662.3 392.6,661.1 392.7,661.6 392.8,661.8 392.8,661.8 392.9,662 393,662.2 393.1,661.8 393.2,661.3 393.3,661.4 393.4,662.3 393.5,661.4 393.6,661 393.7,661.8 393.8,661.8 393.9,661.1 394,662.9 394.1,662.7 394.2,662.2 394.3,662.2 394.3,661.6 394.4,662.1 394.5,661.2 394.6,661.6 394.7,661.7 394.8,662.5 394.9,661.3 395,661.2 395.1,661.4 395.2,662.1 395.3,661.5 395.4,661.6 395.5,662.1 395.6,661.1 395.7,661.9 395.8,661 395.8,662.1 395.9,660.8 396,660.7 396.1,662.5 396.2,662.2 396.3,661.5 396.4,662 396.5,661 396.6,661.8 396.7,661.4 396.8,661.1 396.9,661.2 397,662.2 397.1,661.3 397.2,661.6 397.3,661.5 397.3,661 397.4,661.8 397.5,661.3 397.6,662.1 397.7,661.3 397.8,661.9 397.9,661.1 398,661.3 398.1,661 398.2,662.7 398.3,661 398.4,661.5 398.5,662 398.6,662.4 398.7,661.9 398.8,661.3 398.8,661.8 398.9,661.5 399,661.8 399.1,662.4 399.2,661.1 399.3,658.6 399.4,657.1 399.5,655.8 399.6,656.8 399.7,659.6 399.8,660.2 399.9,660.8 400,661.6 400.1,662.2 400.2,661.4 400.3,662.2 400.3,661.8 400.4,661.6 400.5,661.4 400.6,661.1 400.7,661.8 400.8,662 400.9,662.4 401,662.3 401.1,662.2 401.2,662.7 401.3,661.3 401.4,662 401.5,661.4 401.6,662.2 401.7,661.9 401.8,662.2 401.9,662 401.9,662.2 402,661.3 402.1,661.8 402.2,662.9 402.3,662.2 402.4,662.1 402.5,661.6 402.6,662.4 402.7,661.5 402.8,661.6 402.9,661.5 403,662.3 403.1,661.1 403.2,661.7 403.3,661.5 403.4,661.6 403.4,662.3 403.5,662.4 403.6,661.6 403.7,662 403.8,662.4 403.9,660.7 404,662.3 404.1,662 404.2,662.5 404.3,661.7 404.4,661.8 404.5,662.1 404.6,662.5 404.7,662.6 404.8,661.9 404.9,661.2 404.9,661.4 405,662.1 405.1,661.4 405.2,661.9 405.3,662.5 405.4,661.5 405.5,662.4 405.6,660.7 405.7,662.9 405.8,661.8 405.9,662.2 406,662.4 406.1,661 406.2,662.8 406.3,661.5 406.4,662 406.4,661.2 406.5,662 406.6,661.6 406.7,662.6 406.8,662.2 406.9,661.2 407,662.8 407.1,661 407.2,662.7 407.3,662.1 407.4,662.2 407.5,661.7 407.6,662.1 407.7,661.9 407.8,662.3 407.9,661.5 407.9,661.7 408,662.2 408.1,662 408.2,661.3 408.3,661.2 408.4,661.4 408.5,662 408.6,661.5 408.7,661.4 408.8,661.6 408.9,661.6 409,662.4 409.1,662 409.2,662.3 409.3,662.2 409.4,661.9 409.4,661.4 409.5,661.5 409.6,662 409.7,661.2 409.8,661.5 409.9,662.2 410,661.7 410.1,660.6 410.2,661.9 410.3,661.3 410.4,662.2 410.5,662 410.6,662 410.7,662.3 410.8,661.4 410.9,661.6 410.9,662.4 411,662.1 411.1,661 411.2,660.6 411.3,661.5 411.4,662.8 411.5,662.5 411.6,662 411.7,661 411.8,662.1 411.9,661 412,661.2 412.1,661.9 412.2,661.7 412.3,663 412.4,660.6 412.4,661.5 412.5,662.8 412.6,662.6 412.7,662.7 412.8,661.3 412.9,662.3 413,661.7 413.1,661.8 413.2,662.3 413.3,662 413.4,661.1 413.5,661.8 413.6,661.8 413.7,661.9 413.8,662.2 413.9,661.1 414,662.8 414,661.5 414.1,661.5 414.2,662.6 414.3,661.4 414.4,661.6 414.5,661.3 414.6,660.8 414.7,661.6 414.8,660.8 414.9,661.3 415,661.3 415.1,661.9 415.2,662.9 415.3,661.7 415.4,661.3 415.5,661.6 415.5,661.3 415.6,662.4 415.7,662.6 415.8,661.3 415.9,660.8 416,662.1 416.1,661.6 416.2,661.7 416.3,661.5 416.4,662.2 416.5,661.6 416.6,661.2 416.7,662.8 416.8,662.6 416.9,662.3 417,661.4 417,662.6 417.1,662.5 417.2,661.3 417.3,661.6 417.4,661.2 417.5,660.9 417.6,661.8 417.7,661.9 417.8,661.4 417.9,661.3 418,662.3 418.1,661.4 418.2,662.4 418.3,661.8 418.4,662 418.5,662 418.5,662.3 418.6,661.7 418.7,661.8 418.8,661.5 418.9,661.8 419,662.3 419.1,661.7 419.2,661.7 419.3,661.4 419.4,661.2 419.5,662.6 419.6,661.8 419.7,661.2 419.8,661.7 419.9,662 420,660.9 420,660.8 420.1,660.6 420.2,661.5 420.3,662.1 420.4,662.2 420.5,662.5 420.6,662.2 420.7,661.2 420.8,661.1 420.9,662.2 421,661.8 421.1,661.8 421.2,661.4 421.3,662.6 421.4,661.6 421.5,661.7 421.5,661.9 421.6,662.4 421.7,662.3 421.8,660.6 421.9,662.6 422,662.2 422.1,661.6 422.2,661.8 422.3,661.1 422.4,661.4 422.5,662.5 422.6,662.5 422.7,661.9 422.8,660.9 422.9,662 423,661 423,662.2 423.1,662.2 423.2,661.5 423.3,661.9 423.4,661.7 423.5,662.5 423.6,662 423.7,661.8 423.8,662.4 423.9,660.6 424,660.9 424.1,661.3 424.2,661.8 424.3,662.7 424.4,661.5 424.5,661.9 424.5,661.8 424.6,661.7 424.7,662.4 424.8,661.3 424.9,662.1 425,661 425.1,661.9 425.2,662.1 425.3,662 425.4,660.7 425.5,661.7 425.6,661.4 425.7,661.9 425.8,661.7 425.9,662.1 426,662.3 426,662 426.1,660.9 426.2,662.7 426.3,660.8 426.4,661.9 426.5,662.2 426.6,661.2 426.7,661.5 426.8,660.8 426.9,662.3 427,661.8 427.1,661.6 427.2,660.7 427.3,661.5 427.4,662.6 427.5,662.8 427.6,662.2 427.6,662.4 427.7,661.8 427.8,661.2 427.9,661.8 428,661.5 428.1,661.8 428.2,662 428.3,662.1 428.4,661 428.5,661.9 428.6,660.7 428.7,661.4 428.8,661.3 428.9,661.2 429,661.3 429.1,662.6 429.1,662.4 429.2,660.7 429.3,662.7 429.4,661.1 429.5,662.1 429.6,661.9 429.7,662.5 429.8,661.9 429.9,662.2 430,661.7 430.1,661.9 430.2,662.7 430.3,662.1 430.4,661.5 430.5,661.9 430.6,661.5 430.6,661.9 430.7,661.7 430.8,660.9 430.9,661.2 431,661.2 431.1,662 431.2,661.4 431.3,660.2 431.4,656.9 431.5,643.6 431.6,619.1 431.7,591.9 431.8,578.9 431.9,592 432,618.3 432.1,643.9 432.1,655.6 432.2,660.9 432.3,661.2 432.4,661.6 432.5,661.9 432.6,660.8 432.7,662 432.8,661.3 432.9,661.4 433,660.9 433.1,661 433.2,662.1 433.3,661.9 433.4,660.6 433.5,661.3 433.6,661 433.6,652.9 433.7,636.1 433.8,612.7 433.9,600.9 434,612.2 434.1,637 434.2,652.2 434.3,660.2 434.4,661.4 434.5,661.8 434.6,661.7 434.7,662.8 434.8,662.3 434.9,661.4 435,662.3 435.1,661.9 435.1,660.7 435.2,661.3 435.3,662.2 435.4,662 435.5,662.7 435.6,661.6 435.7,661.2 435.8,662.2 435.9,661.6 436,661.7 436.1,661.9 436.2,661.6 436.3,661.1 436.4,662.3 436.5,661.5 436.6,661.3 436.6,661.6 436.7,662 436.8,661.9 436.9,662.2 437,661.8 437.1,662.4 437.2,662.3 437.3,661.8 437.4,661.9 437.5,662.9 437.6,662.1 437.7,661.8 437.8,662.9 437.9,661 438,662.6 438.1,661.4 438.1,661.4 438.2,662 438.3,662.2 438.4,660.7 438.5,662.5 438.6,662.8 438.7,662.2 438.8,662.4 438.9,660.9 439,661.3 439.1,661.6 439.2,662.3 439.3,662.6 439.4,661.3 439.5,661.5 439.6,662.6 439.6,662.2 439.7,661.8 439.8,660.8 439.9,662.4 440,661.8 440.1,661.4 440.2,662.4 440.3,661.3 440.4,661.4 440.5,662.3 440.6,662.1 440.7,661.6 440.8,662.2 440.9,662.8 441,662 441.1,660.9 441.2,661.4 441.2,661.7 441.3,661 441.4,661.6 441.5,661.4 441.6,661.3 441.7,661.2 441.8,661.7 441.9,661.6 442,661.1 442.1,661.6 442.2,662.1 442.3,661.9 442.4,662.9 442.5,662.2 442.6,661.4 442.7,661.8 442.7,661.1 442.8,661.8 442.9,661.7 443,660.6 443.1,661.3 443.2,661.7 443.3,661.5 443.4,662.4 443.5,661.9 443.6,662.1 443.7,661 443.8,661 443.9,661.9 444,662.2 444.1,660.9 444.2,660.7 444.2,660.9 444.3,662.4 444.4,662.1 444.5,661.5 444.6,661.6 444.7,662.4 444.8,661.8 444.9,662 445,662.4 445.1,661.4 445.2,661.2 445.3,661.4 445.4,662.4 445.5,662.1 445.6,661.7 445.7,661.9 445.7,661.5 445.8,660.8 445.9,661.6 446,662.2 446.1,661.2 446.2,660.8 446.3,662.6 446.4,661.7 446.5,662.4 446.6,661.9 446.7,662.3 446.8,662.5 446.9,662.6 447,662.7 447.1,661.9 447.2,662.2 447.2,661.5 447.3,661.3 447.4,662 447.5,661.8 447.6,662.5 447.7,660.8 447.8,661.8 447.9,661.8 448,661.5 448.1,660.5 448.2,661 448.3,661.5 448.4,662.3 448.5,662.5 448.6,660.9 448.7,662.4 448.7,662 448.8,662.2 448.9,662.1 449,660.6 449.1,660.7 449.2,661.4 449.3,662.2 449.4,661.1 449.5,662.6 449.6,662.1 449.7,662.1 449.8,662.1 449.9,661.9 450,661.6 450.1,662.7 450.2,661.1 450.2,661.5 450.3,661.1 450.4,661.5 450.5,661.7 450.6,661.4 450.7,662.4 450.8,660.8 450.9,661.3 451,660.5 451.1,661.5 451.2,660.8 451.3,660.7 451.4,662.4 451.5,661.5 451.6,661.5 451.7,662.6 451.7,661.5 451.8,661 451.9,661.7 452,661.4 452.1,662 452.2,660.7 452.3,662.2 452.4,661.8 452.5,662.6 452.6,662.6 452.7,661.4 452.8,661.9 452.9,662 453,661.4 453.1,661.5 453.2,661.4 453.3,661.9 453.3,662.3 453.4,662.8 453.5,661.8 453.6,661.3 453.7,662.5 453.8,662.2 453.9,660.6 454,661.9 454.1,661.3 454.2,661.5 454.3,662.4 454.4,661.7 454.5,660.9 454.6,662.1 454.7,661.2 454.8,661.8 454.8,661.3 454.9,661.3 455,662.7 455.1,661.3 455.2,662.1 455.3,662.1 455.4,662.9 455.5,661.6 455.6,661.7 455.7,662 455.8,661.5 455.9,662.9 456,662.2 456.1,662.3 456.2,661.6 456.3,661.6 456.3,662.1 456.4,661.2 456.5,662.1 456.6,661.1 456.7,662.2 456.8,662.4 456.9,661.2 457,661.3 457.1,662.6 457.2,661.4 457.3,661.7 457.4,662.2 457.5,661.5 457.6,661.3 457.7,661.4 457.8,663 457.8,661.3 457.9,661.6 458,662.4 458.1,661.8 458.2,662.6 458.3,660.9 458.4,661.4 458.5,662 458.6,661.3 458.7,659.5 458.8,654.8 458.9,649.2 459,635.7 459.1,617.1 459.2,598.6 459.3,581.1 459.3,576.3 459.4,582.9 459.5,597.9 459.6,616.9 459.7,635 459.8,646.6 459.9,652.8 460,655.7 460.1,654.3 460.2,653.8 460.3,648.6 460.4,644.8 460.5,638.8 460.6,632.3 460.7,625.6 460.8,615.5 460.8,599.4 460.9,574.8 461,549.9 461.1,539.1 461.2,549.5 461.3,574.5 461.4,599.6 461.5,615.2 461.6,626 461.7,632.6 461.8,640.1 461.9,644.9 462,648.6 462.1,652.6 462.2,654.8 462.3,658.3 462.3,659.6 462.4,659.6 462.5,661.2 462.6,661.1 462.7,661.6 462.8,662.2 462.9,661.1 463,661.9 463.1,661.3 463.2,661.6 463.3,661 463.4,662.1 463.5,661.7 463.6,661.1 463.7,662.3 463.8,661.4 463.8,661.6 463.9,661.4 464,661.8 464.1,661.8 464.2,662.1 464.3,661.3 464.4,659.1 464.5,656.4 464.6,650 464.7,641.1 464.8,629.9 464.9,621.2 465,618.9 465.1,621.2 465.2,631.2 465.3,641.9 465.3,651.7 465.4,657.4 465.5,660.8 465.6,661.6 465.7,661.6 465.8,660.5 465.9,662 466,662.1 466.1,661.9 466.2,660.7 466.3,661.4 466.4,661.2 466.5,662.7 466.6,661.8 466.7,662.4 466.8,661.6 466.9,662.5 466.9,661.9 467,661.5 467.1,662.8 467.2,660.9 467.3,662.1 467.4,661.9 467.5,660.7 467.6,662 467.7,661 467.8,662.6 467.9,662.6 468,662.3 468.1,662.4 468.2,661.4 468.3,662.7 468.4,662.8 468.4,661.7 468.5,661.8 468.6,661.4 468.7,661.4 468.8,661.1 468.9,660.7 469,661.7 469.1,662.1 469.2,660.8 469.3,661.5 469.4,661.4 469.5,661.2 469.6,661.8 469.7,661.8 469.8,662.3 469.9,662.1 469.9,662 470,660.8 470.1,662.5 470.2,662.2 470.3,662 470.4,662 470.5,661.4 470.6,662.6 470.7,661.5 470.8,661.8 470.9,662.4 471,662.1 471.1,661.3 471.2,662.3 471.3,662.1 471.4,661.2 471.4,662 471.5,661.7 471.6,661.8 471.7,662 471.8,661.9 471.9,661.4 472,661.4 472.1,661.2 472.2,661.1 472.3,661.5 472.4,661.4 472.5,660.6 472.6,661 472.7,661.3 472.8,661.4 472.9,661.1 472.9,661.4 473,661.7 473.1,662.1 473.2,661.4 473.3,662.1 473.4,661.4 473.5,661.5 473.6,662 473.7,661.9 473.8,661 473.9,661.8 474,661.7 474.1,661.6 474.2,661.2 474.3,662.7 474.4,662.1 474.4,662 474.5,662.1 474.6,660.5 474.7,661.5 474.8,662.9 474.9,662.2 475,661.3 475.1,661.8 475.2,662.2 475.3,660.8 475.4,661.7 475.5,661.5 475.6,661.4 475.7,661.5 475.8,661.5 475.9,662.2 475.9,662 476,661.2 476.1,661.7 476.2,661.9 476.3,661.4 476.4,662.6 476.5,661.1 476.6,661.7 476.7,661.7 476.8,661.5 476.9,662.3 477,660.7 477.1,661.6 477.2,662.2 477.3,662.4 477.4,662.5 477.4,662.6 477.5,662.7 477.6,660.6 477.7,662.3 477.8,661.3 477.9,661.7 478,661 478.1,661.3 478.2,661.8 478.3,660.9 478.4,662.3 478.5,661.7 478.6,661.9 478.7,661.7 478.8,662 478.9,661 479,662.3 479,662 479.1,661.8 479.2,661.7 479.3,661.5 479.4,662.2 479.5,662.6 479.6,661.9 479.7,660.7 479.8,661.9 479.9,662.3 480,662.9 480.1,662 480.2,662 480.3,662.2 480.4,661.3 480.5,662.3 480.5,661 480.6,661.2 480.7,661.9 480.8,660.8 480.9,661.5 481,661.1 481.1,661 481.2,661.4 481.3,661.7 481.4,661.6 481.5,663 481.6,662.2 481.7,661.8 481.8,662.1 481.9,661.7 482,661.8 482,661.8 482.1,661.8 482.2,661.4 482.3,662.3 482.4,661.2 482.5,661.5 482.6,661.8 482.7,662 482.8,661.5 482.9,661.9 483,662.4 483.1,661.9 483.2,661.8 483.3,662.6 483.4,662.7 483.5,661.7 483.5,662.1 483.6,661.7 483.7,662 483.8,662 483.9,662.4 484,661.2 484.1,661.9 484.2,661.9 484.3,661.8 484.4,662.9 484.5,661.1 484.6,661.5 484.7,661.1 484.8,662.9 484.9,662 485,662.5 485,661.9 485.1,661.9 485.2,662.3 485.3,662.3 485.4,661.4 485.5,662.1 485.6,661.7 485.7,661.8 485.8,662.5 485.9,661.4 486,662.4 486.1,661.7 486.2,661.7 486.3,661 486.4,662 486.5,661.7 486.5,662.1 486.6,662.6 486.7,661.9 486.8,661.9 486.9,661.2 487,661.8 487.1,662.2 487.2,661.5 487.3,661.5 487.4,661.5 487.5,661.9 487.6,662.2 487.7,661.7 487.8,661.4 487.9,662.5 488,661.8 488,662.4 488.1,661.5 488.2,661.7 488.3,662.3 488.4,661.5 488.5,661.3 488.6,661.8 488.7,662.1 488.8,662.2 488.9,662.2 489,661.7 489.1,662.1 489.2,662.1 489.3,662.2 489.4,661.3 489.5,662 489.5,661.3 489.6,661.4 489.7,660.6 489.8,661.8 489.9,662 490,662 490.1,662.2 490.2,662.4 490.3,661.9 490.4,661.8 490.5,661.5 490.6,662.1 490.7,661.6 490.8,661.2 490.9,661.3 491,662.1 491,661 491.1,662.6 491.2,662.2 491.3,661.4 491.4,662.4 491.5,662.2 491.6,661.8 491.7,661.5 491.8,661.1 491.9,661.7 492,662.3 492.1,661.5 492.2,661.6 492.3,662.7 492.4,661.3 492.5,661.5 492.6,661.6 492.6,660.7 492.7,661.5 492.8,662.4 492.9,662.3 493,662.7 493.1,661.5 493.2,662 493.3,661.9 493.4,662.4 493.5,661.4 493.6,661.5 493.7,660.9 493.8,662 493.9,662 494,662.4 494.1,661.1 494.1,661.6 494.2,661.5 494.3,662 494.4,661.7 494.5,661.3 494.6,661.8 494.7,661.1 494.8,661.8 494.9,661.9 495,661.9 495.1,661.8 495.2,661.4 495.3,661.7 495.4,662 495.5,661.4 495.6,661.4 495.6,661.5 495.7,661.3 495.8,662.2 495.9,662.2 496,661.7 496.1,661.8 496.2,660.9 496.3,662.8 496.4,662.5 496.5,661.5 496.6,661.7 496.7,661.4 496.8,661.8 496.9,662.2 497,660.9 497.1,661.6 497.1,662.3 497.2,662 497.3,661.3 497.4,661.3 497.5,661.6 497.6,662.1 497.7,661.7 497.8,661.4 497.9,661.5 498,662 498.1,661.4 498.2,661.6 498.3,660.8 498.4,662.1 498.5,662.7 498.6,662.2 498.6,660.8 498.7,662.1 498.8,661.1 498.9,661.7 499,662.7 499.1,662.1 499.2,661.5 499.3,661.1 499.4,661.8 499.5,661.5 499.6,661 499.7,661.7 499.8,662 499.9,662.5 500,661.8 500.1,661.4 500.1,661.6 500.2,661.4 500.3,662.3 500.4,660.9 500.5,661.6 500.6,661.7 500.7,662.3 500.8,662.4 500.9,661.5 501,661.6 501.1,662.2 501.2,661.1 501.3,662.3 501.4,661.2 501.5,660.9 501.6,662.8 501.6,662.4 501.7,661.8 501.8,662.7 501.9,662.8 502,661.8 502.1,661.2 502.2,661.6 502.3,661.5 502.4,662.4 502.5,662.7 502.6,661.6 502.7,661.3 502.8,662.1"/>
<g stroke="#000000" stroke-width="1.8" fill="none" stroke-linecap="butt">
<path d="M90.5 380.1 V669.8 H503.5"/>
<path stroke-width="1.5" d="M90.5 661.8h-6.5M90.5 621.6h-6.5M90.5 581.5h-6.5M90.5 541.5h-6.5M90.5 501.3h-6.5M90.5 461.2h-6.5M90.5 421.1h-6.5M90.5 381h-6.5M90.5 641.7h-4M90.5 601.6h-4M90.5 561.5h-4M90.5 521.4h-4M90.5 481.3h-4M90.5 441.2h-4M90.5 401.1h-4M140.1 669.8v6.5M202.6 669.8v6.5M265.2 669.8v6.5M327.7 669.8v6.5M390.2 669.8v6.5M452.8 669.8v6.5M108.8 669.8v4M171.4 669.8v4M233.9 669.8v4M296.4 669.8v4M359 669.8v4M421.5 669.8v4M484 669.8v4"/>
</g>
<g font-size="18" fill="#000000">
<text x="80.5" y="666.5" text-anchor="end" textLength="9.3" lengthAdjust="spacingAndGlyphs">0</text>
<text x="80.5" y="626.4" text-anchor="end" textLength="28" lengthAdjust="spacingAndGlyphs">300</text>
<text x="80.5" y="586.2" text-anchor="end" textLength="28" lengthAdjust="spacingAndGlyphs">600</text>
<text x="80.5" y="546.2" text-anchor="end" textLength="28" lengthAdjust="spacingAndGlyphs">900</text>
<text x="80.5" y="506" text-anchor="end" textLength="37.4" lengthAdjust="spacingAndGlyphs">1200</text>
<text x="80.5" y="465.9" text-anchor="end" textLength="37.4" lengthAdjust="spacingAndGlyphs">1500</text>
<text x="80.5" y="425.8" text-anchor="end" textLength="37.4" lengthAdjust="spacingAndGlyphs">1800</text>
<text x="80.5" y="385.7" text-anchor="end" textLength="37.4" lengthAdjust="spacingAndGlyphs">2100</text>
<text x="138.4" y="693.2" text-anchor="middle" textLength="28" lengthAdjust="spacingAndGlyphs">300</text>
<text x="200.9" y="693.2" text-anchor="middle" textLength="28" lengthAdjust="spacingAndGlyphs">400</text>
<text x="263.5" y="693.2" text-anchor="middle" textLength="28" lengthAdjust="spacingAndGlyphs">500</text>
<text x="326" y="693.2" text-anchor="middle" textLength="28" lengthAdjust="spacingAndGlyphs">600</text>
<text x="388.5" y="693.2" text-anchor="middle" textLength="28" lengthAdjust="spacingAndGlyphs">700</text>
<text x="451.1" y="693.2" text-anchor="middle" textLength="28" lengthAdjust="spacingAndGlyphs">800</text>
</g>
<text x="218.3" y="717.8" font-size="22" textLength="156.7" lengthAdjust="spacingAndGlyphs">Wavelength (nm)</text>
<text transform="translate(28.8 620.8) rotate(-90)" font-size="22" textLength="162" lengthAdjust="spacingAndGlyphs">Intensity (Counts)</text>
<text transform="translate(220.6 628.5) rotate(-90)" font-size="19.3" textLength="122.2" lengthAdjust="spacingAndGlyphs">Ca I 422.67 nm</text>
<text transform="translate(294.6 557.3) rotate(-90)" font-size="19.3" textLength="125.3" lengthAdjust="spacingAndGlyphs">Na I 588.99 nm</text>
<text transform="translate(436 562.8) rotate(-90)" font-size="19.3" textLength="112.5" lengthAdjust="spacingAndGlyphs">K I 766.49 nm</text>
<text x="425.2" y="406.7" font-size="20.3" textLength="22" lengthAdjust="spacingAndGlyphs"><tspan font-size="22.5">(</tspan>c<tspan font-size="22.5">)</tspan></text>
<path d="M109 407.5H145.6" stroke="#ff0000" stroke-width="1.8"/>
<text x="149.1" y="413.1" font-size="19" textLength="223.9" lengthAdjust="spacingAndGlyphs">Blood Seurm + Glass Slides</text>
<path d="M298.8 452.1L309.8 443" stroke="#000000" stroke-width="1.7"/>
<path d="M315 438.6L310.2 445.8L307.1 442.1Z" fill="#000000"/>
</g>
<g>
<polyline fill="none" stroke="#ff0000" stroke-width="1.7" stroke-linejoin="round" points="591,661.7 591.1,661 591.2,661.1 591.3,661.4 591.4,661.2 591.5,661.2 591.6,661.2 591.7,661.2 591.8,661 591.9,660.9 592,660.6 592,661.3 592.1,661.5 592.2,661 592.3,661.4 592.4,661.6 592.5,660.6 592.6,660.9 592.7,661.4 592.8,661.4 592.9,661.1 593,661.2 593.1,661.1 593.2,661.3 593.3,662 593.4,662 593.5,660.9 593.5,661.2 593.6,662.1 593.7,661.1 593.8,661.3 593.9,661 594,660.7 594.1,661.1 594.2,661.1 594.3,661.6 594.4,660.6 594.5,661.1 594.6,661.3 594.7,661.8 594.8,661.6 594.9,660.6 595,661.6 595,661.6 595.1,661.5 595.2,661.3 595.3,661.9 595.4,661.1 595.5,661.4 595.6,661.6 595.7,660.9 595.8,661.9 595.9,661 596,661.2 596.1,661.2 596.2,661.2 596.3,661.2 596.4,661.8 596.5,662 596.5,661.6 596.6,661.2 596.7,661.1 596.8,661.7 596.9,660.6 597,661.4 597.1,661.3 597.2,661.4 597.3,661.2 597.4,661.4 597.5,661.4 597.6,661 597.7,660.7 597.8,661 597.9,661.7 598,661.4 598,660.7 598.1,661.3 598.2,661.2 598.3,661.3 598.4,660.7 598.5,661.4 598.6,661.4 598.7,660.8 598.8,661.9 598.9,661.4 599,660.4 599.1,660.8 599.2,661.1 599.3,660.9 599.4,661.7 599.5,661.7 599.5,661.4 599.6,661.3 599.7,660.9 599.8,661.7 599.9,661 600,661.1 600.1,661.3 600.2,661.3 600.3,660.5 600.4,660.9 600.5,661.1 600.6,661.8 600.7,662 600.8,660.5 600.9,660.8 601,661.2 601.1,661.6 601.1,662 601.2,661.4 601.3,661.2 601.4,660.6 601.5,661.4 601.6,661.3 601.7,661.3 601.8,660.8 601.9,660.6 602,660.5 602.1,661.3 602.2,661 602.3,661.6 602.4,661.5 602.5,661.4 602.6,660.9 602.6,662.1 602.7,661.2 602.8,660.5 602.9,660.8 603,660.7 603.1,661.5 603.2,661.1 603.3,661.6 603.4,660.6 603.5,661.4 603.6,661.4 603.7,661.6 603.8,661.1 603.9,660.7 604,661.3 604.1,661.3 604.1,661.4 604.2,660.8 604.3,661.2 604.4,661 604.5,661.2 604.6,661.2 604.7,661 604.8,661 604.9,661.8 605,661.3 605.1,661.3 605.2,661.1 605.3,660.8 605.4,661.5 605.5,661.5 605.6,661.8 605.6,661.5 605.7,660.8 605.8,661.5 605.9,660.7 606,661.2 606.1,661.3 606.2,661.2 606.3,661.4 606.4,661.1 606.5,661.2 606.6,662 606.7,661.5 606.8,661 606.9,661.4 607,662.1 607.1,660.8 607.1,660.7 607.2,661.7 607.3,661.2 607.4,660.9 607.5,661.1 607.6,661 607.7,661.8 607.8,660.9 607.9,661.4 608,661.5 608.1,661.1 608.2,660.9 608.3,660.9 608.4,661.5 608.5,661.1 608.6,661.8 608.6,660.9 608.7,661.6 608.8,661.6 608.9,660.9 609,661.1 609.1,661.6 609.2,661 609.3,660.5 609.4,661.8 609.5,661.2 609.6,661.2 609.7,661.1 609.8,661.2 609.9,660.8 610,660.9 610.1,661.2 610.1,660.9 610.2,661.4 610.3,660.5 610.4,661.2 610.5,661.3 610.6,661 610.7,661.6 610.8,661.7 610.9,661.5 611,660.7 611.1,661 611.2,661.5 611.3,661.3 611.4,661.2 611.5,661.5 611.6,661.4 611.6,661.6 611.7,661.8 611.8,661.6 611.9,660.8 612,661 612.1,661.3 612.2,661.1 612.3,661.7 612.4,661.1 612.5,661.3 612.6,661.4 612.7,661.1 612.8,661.3 612.9,660.4 613,661.6 613.1,661.3 613.1,661.1 613.2,661.3 613.3,660.6 613.4,661.2 613.5,662 613.6,661.5 613.7,662 613.8,661.2 613.9,661.1 614,660.4 614.1,661.3 614.2,661.3 614.3,661.2 614.4,661.2 614.5,661.3 614.6,661.8 614.7,660.7 614.7,660.8 614.8,661.2 614.9,661.8 615,661.6 615.1,661.4 615.2,661.4 615.3,661.6 615.4,660.8 615.5,661.5 615.6,661.7 615.7,662 615.8,660.8 615.9,661.3 616,660.9 616.1,660.9 616.2,661 616.2,661.4 616.3,661.3 616.4,660.9 616.5,661.2 616.6,660.5 616.7,661.4 616.8,661.3 616.9,661.9 617,661.3 617.1,661 617.2,661.2 617.3,660.6 617.4,661.2 617.5,661.3 617.6,661.2 617.7,661.2 617.7,661 617.8,661.6 617.9,661.4 618,661.6 618.1,661.1 618.2,660.9 618.3,661.2 618.4,661.6 618.5,661.6 618.6,661.4 618.7,661.4 618.8,660.6 618.9,661.1 619,661.4 619.1,661.8 619.2,660.9 619.2,661.3 619.3,661.3 619.4,661.6 619.5,662 619.6,661.8 619.7,661.8 619.8,661.1 619.9,660.8 620,661.3 620.1,661.2 620.2,660.5 620.3,661.4 620.4,661 620.5,661.1 620.6,661.2 620.7,660.7 620.7,661.3 620.8,661.2 620.9,661.5 621,660.9 621.1,661.8 621.2,660.9 621.3,661.6 621.4,660.8 621.5,661.5 621.6,660.7 621.7,660.6 621.8,661.5 621.9,660.4 622,661.6 622.1,661.4 622.2,661.6 622.2,661.3 622.3,661.1 622.4,661.2 622.5,660.5 622.6,660.8 622.7,661.3 622.8,661.2 622.9,661.7 623,660.9 623.1,661.8 623.2,661.9 623.3,661.8 623.4,660.5 623.5,661 623.6,661.2 623.7,661.8 623.7,661.2 623.8,661.9 623.9,660.9 624,661.3 624.1,661.3 624.2,661.7 624.3,660.9 624.4,661.3 624.5,661 624.6,661.5 624.7,661.6 624.8,660.5 624.9,661.3 625,661 625.1,661.2 625.2,661.6 625.2,661.1 625.3,661.4 625.4,661.2 625.5,661.4 625.6,660.9 625.7,661.2 625.8,661.4 625.9,661.5 626,661.5 626.1,661.2 626.2,661.8 626.3,661 626.4,660.7 626.5,661.8 626.6,660.7 626.7,660.9 626.7,661.2 626.8,661.6 626.9,661.3 627,661.6 627.1,660.9 627.2,661.2 627.3,660.5 627.4,661.4 627.5,660.7 627.6,661.1 627.7,661.3 627.8,661.1 627.9,661.4 628,661.4 628.1,661.2 628.2,660.9 628.3,661.4 628.3,662.1 628.4,661.3 628.5,660.7 628.6,661 628.7,661.1 628.8,661.2 628.9,661.3 629,661.2 629.1,661.3 629.2,661.1 629.3,660.8 629.4,661.4 629.5,660.6 629.6,661.1 629.7,661.2 629.8,660.4 629.8,661.1 629.9,661.2 630,661.8 630.1,660.7 630.2,660.4 630.3,661.7 630.4,661.8 630.5,660.7 630.6,660.9 630.7,662.1 630.8,661.2 630.9,661.2 631,661.9 631.1,660.8 631.2,661.4 631.3,661.6 631.3,661.4 631.4,661.6 631.5,661.1 631.6,661.5 631.7,661.2 631.8,661.5 631.9,661.5 632,661.4 632.1,661.4 632.2,661 632.3,661.1 632.4,661.2 632.5,661.5 632.6,661.8 632.7,661.5 632.8,661.6 632.8,661.8 632.9,661.6 633,660.9 633.1,661.3 633.2,661.3 633.3,662 633.4,660.9 633.5,661.7 633.6,661.2 633.7,660.5 633.8,661.9 633.9,661.5 634,661.3 634.1,661.5 634.2,660.6 634.3,661 634.3,661.3 634.4,661.3 634.5,660.9 634.6,661.1 634.7,661.4 634.8,661.4 634.9,661.4 635,661.6 635.1,661.4 635.2,661.5 635.3,661.2 635.4,661 635.5,661.5 635.6,661.8 635.7,661.1 635.8,661.2 635.8,661.1 635.9,661.5 636,660.6 636.1,661.7 636.2,661.1 636.3,661.1 636.4,661.1 636.5,661.6 636.6,661.1 636.7,661.2 636.8,661.3 636.9,661 637,660.6 637.1,661.1 637.2,660.9 637.3,661.1 637.3,661.5 637.4,661.9 637.5,661.2 637.6,661.5 637.7,661 637.8,660.8 637.9,661 638,661.9 638.1,661.3 638.2,661.7 638.3,661.4 638.4,662.1 638.5,661.4 638.6,661.4 638.7,661.2 638.8,661.3 638.8,660.9 638.9,661.2 639,662 639.1,660.5 639.2,661.3 639.3,661.7 639.4,661.6 639.5,661.4 639.6,660.8 639.7,661.6 639.8,661.9 639.9,660.5 640,661.1 640.1,661.6 640.2,661.1 640.3,661.3 640.4,660.9 640.4,661.6 640.5,662.1 640.6,661.2 640.7,661.6 640.8,661.1 640.9,661.2 641,660.7 641.1,661.4 641.2,661.8 641.3,660.8 641.4,660.6 641.5,661.4 641.6,661.2 641.7,661.2 641.8,661.1 641.9,661 641.9,660.9 642,661.2 642.1,661.9 642.2,660.5 642.3,661.5 642.4,660.7 642.5,661.9 642.6,662 642.7,661.3 642.8,661.9 642.9,661.5 643,660.9 643.1,662.1 643.2,661.4 643.3,661.3 643.4,660.7 643.4,661 643.5,661.8 643.6,661.7 643.7,660.9 643.8,660.6 643.9,660.8 644,661.3 644.1,660.7 644.2,660.9 644.3,660.6 644.4,660.9 644.5,661.1 644.6,661.6 644.7,660.9 644.8,661.5 644.9,661.1 644.9,661.5 645,661.3 645.1,661.4 645.2,661.5 645.3,660.9 645.4,660.7 645.5,661.7 645.6,660.9 645.7,661 645.8,660.6 645.9,662 646,660.9 646.1,660.7 646.2,661.1 646.3,660.8 646.4,661.3 646.4,661.1 646.5,660.8 646.6,661.2 646.7,660.7 646.8,661.1 646.9,661.3 647,661.9 647.1,661.8 647.2,661.3 647.3,661 647.4,661.5 647.5,661.4 647.6,661.4 647.7,661.8 647.8,662 647.9,661.3 647.9,661.5 648,661.1 648.1,661.3 648.2,661.3 648.3,660.8 648.4,661.2 648.5,661.7 648.6,660.8 648.7,661 648.8,660.9 648.9,661.1 649,660.8 649.1,661.4 649.2,661 649.3,661.2 649.4,661.3 649.4,661 649.5,661.2 649.6,661.6 649.7,661.5 649.8,661.7 649.9,661 650,661.5 650.1,660.7 650.2,661.2 650.3,661.3 650.4,661.3 650.5,661.5 650.6,661.2 650.7,660.7 650.8,661.3 650.9,661.1 650.9,661.8 651,661.9 651.1,661.7 651.2,660.9 651.3,661.2 651.4,661.4 651.5,661.5 651.6,661 651.7,661.4 651.8,661.3 651.9,661.7 652,662 652.1,661.4 652.2,660.5 652.3,661.5 652.4,661.5 652.4,661.3 652.5,661.1 652.6,661.8 652.7,661.7 652.8,661.2 652.9,661.4 653,661.1 653.1,661.8 653.2,661.1 653.3,661 653.4,661.1 653.5,661.4 653.6,660.6 653.7,662.1 653.8,661.2 653.9,661.4 654,661.1 654,661.3 654.1,661.2 654.2,661.7 654.3,661.2 654.4,661.7 654.5,660.9 654.6,661.5 654.7,661.4 654.8,661.3 654.9,661.5 655,661.5 655.1,661.6 655.2,661.2 655.3,662 655.4,661.4 655.5,661.2 655.5,661.3 655.6,661.3 655.7,661 655.8,661.1 655.9,661.1 656,661.6 656.1,661.4 656.2,661.7 656.3,661.3 656.4,661.3 656.5,660.9 656.6,661.4 656.7,660.8 656.8,661 656.9,660.9 657,661.6 657,661.4 657.1,661.4 657.2,661.1 657.3,660.9 657.4,660.7 657.5,661.1 657.6,660.8 657.7,661.2 657.8,661.3 657.9,661.5 658,660.7 658.1,661.3 658.2,661.2 658.3,661.9 658.4,661.6 658.5,661.4 658.5,661.7 658.6,661.6 658.7,661.3 658.8,661.2 658.9,661 659,661.4 659.1,660.4 659.2,661.9 659.3,660.9 659.4,661.4 659.5,660.8 659.6,661.8 659.7,661.4 659.8,660.6 659.9,660.6 660,660.8 660,662 660.1,661.8 660.2,661.3 660.3,661.6 660.4,661.3 660.5,661.1 660.6,661.4 660.7,662 660.8,661.1 660.9,661.2 661,661.1 661.1,660.6 661.2,661.4 661.3,660.8 661.4,660.9 661.5,661.7 661.5,660.5 661.6,661 661.7,661.2 661.8,661.1 661.9,661 662,661.5 662.1,661.6 662.2,661.3 662.3,661.3 662.4,661.7 662.5,661.6 662.6,662 662.7,661 662.8,661 662.9,661.3 663,662 663,661 663.1,661.6 663.2,661.5 663.3,661.7 663.4,661.1 663.5,661.4 663.6,661 663.7,661.1 663.8,661.5 663.9,660.7 664,661.5 664.1,661.5 664.2,660.9 664.3,661.1 664.4,661.1 664.5,661.3 664.5,660.9 664.6,661.5 664.7,661.5 664.8,661.5 664.9,660.6 665,661.5 665.1,661.5 665.2,661.7 665.3,661.5 665.4,661.4 665.5,661.8 665.6,661.9 665.7,660.9 665.8,661.1 665.9,661.7 666,661.2 666,660.7 666.1,661.3 666.2,661.4 666.3,661.2 666.4,661.5 666.5,660.5 666.6,661.7 666.7,661.7 666.8,660.5 666.9,661.7 667,660.4 667.1,661.9 667.2,660.7 667.3,661.5 667.4,661.4 667.5,661.3 667.6,660.8 667.6,661.4 667.7,661.4 667.8,660.9 667.9,661.2 668,661.9 668.1,661.3 668.2,661 668.3,661.4 668.4,661.1 668.5,661.9 668.6,661.7 668.7,661.4 668.8,661.1 668.9,661 669,661.3 669.1,661.1 669.1,660.8 669.2,661.4 669.3,661.6 669.4,661 669.5,661 669.6,660.5 669.7,662 669.8,661.2 669.9,660.6 670,661.1 670.1,662 670.2,661.2 670.3,661.2 670.4,660.8 670.5,661 670.6,661 670.6,660.4 670.7,661.2 670.8,660.8 670.9,660.7 671,660.6 671.1,661.2 671.2,660.9 671.3,661.3 671.4,661 671.5,660.6 671.6,660.9 671.7,661 671.8,661.1 671.9,660.8 672,661.2 672.1,662.1 672.1,661.3 672.2,661.1 672.3,661.3 672.4,661.8 672.5,660.6 672.6,660.7 672.7,661.9 672.8,661.2 672.9,661 673,661.5 673.1,661 673.2,661.3 673.3,661.3 673.4,661.3 673.5,661.3 673.6,661.5 673.6,660.8 673.7,661.3 673.8,660.6 673.9,661.2 674,661.8 674.1,661.6 674.2,661.1 674.3,662 674.4,661.3 674.5,661 674.6,661.3 674.7,660.8 674.8,661.8 674.9,661.7 675,661.4 675.1,661.1 675.1,662 675.2,660.7 675.3,661.2 675.4,661.2 675.5,661.1 675.6,661.5 675.7,661.4 675.8,661.2 675.9,661.6 676,661.2 676.1,661.4 676.2,660.7 676.3,661.4 676.4,660.9 676.5,661.2 676.6,660.6 676.6,661.6 676.7,660.6 676.8,661 676.9,661.6 677,661.1 677.1,661.2 677.2,661.5 677.3,661.5 677.4,661.5 677.5,660.7 677.6,662 677.7,661 677.8,661.4 677.9,660.9 678,661.1 678.1,661.1 678.1,661 678.2,661.9 678.3,661.4 678.4,661.9 678.5,661.9 678.6,660.7 678.7,661.4 678.8,661.9 678.9,660.5 679,661.7 679.1,661.5 679.2,661.1 679.3,661.1 679.4,661 679.5,661.2 679.6,661.3 679.7,660.9 679.7,661.3 679.8,661.6 679.9,661.5 680,660.9 680.1,661.9 680.2,661.6 680.3,661 680.4,661.3 680.5,661.6 680.6,661 680.7,661.5 680.8,661.5 680.9,660.9 681,660.4 681.1,661.6 681.2,660.7 681.2,661.3 681.3,661.3 681.4,661.3 681.5,660.8 681.6,661.3 681.7,662.1 681.8,660.6 681.9,661 682,661.1 682.1,661.3 682.2,661.5 682.3,661.1 682.4,661.3 682.5,660.9 682.6,661.6 682.7,661.1 682.7,661.2 682.8,660.9 682.9,661.6 683,661.5 683.1,661.5 683.2,661.2 683.3,662 683.4,661.1 683.5,661.2 683.6,661 683.7,661.5 683.8,661.2 683.9,661.2 684,660.9 684.1,660.7 684.2,661.4 684.2,661.7 684.3,661 684.4,661.8 684.5,661.1 684.6,661.5 684.7,661.5 684.8,661.8 684.9,660.6 685,661.8 685.1,661.4 685.2,661.3 685.3,661 685.4,661.2 685.5,661.6 685.6,662 685.7,661.4 685.7,661.6 685.8,661.6 685.9,661.6 686,661.3 686.1,661.2 686.2,661.6 686.3,661.3 686.4,661.9 686.5,661.6 686.6,661.7 686.7,660.6 686.8,660.5 686.9,662 687,661 687.1,661 687.2,661.6 687.2,661.5 687.3,661.1 687.4,661.2 687.5,661.7 687.6,661.3 687.7,661.2 687.8,661.2 687.9,661.3 688,661.4 688.1,661 688.2,661.3 688.3,661.5 688.4,661 688.5,662 688.6,661.8 688.7,661.3 688.7,661.7 688.8,661.4 688.9,661.5 689,661.2 689.1,660.8 689.2,661 689.3,660.8 689.4,660.9 689.5,661.7 689.6,661.8 689.7,661.6 689.8,661.1 689.9,661.5 690,660.8 690.1,661.6 690.2,662 690.2,661.1 690.3,660.5 690.4,660.9 690.5,661.5 690.6,662 690.7,661.4 690.8,660.9 690.9,660.6 691,661.4 691.1,661.1 691.2,661.3 691.3,661.6 691.4,660.9 691.5,661.4 691.6,661.3 691.7,661 691.7,661.2 691.8,661.5 691.9,661 692,660.9 692.1,661.5 692.2,661.9 692.3,661.1 692.4,662 692.5,661.7 692.6,661.4 692.7,661.6 692.8,660.6 692.9,661 693,661.2 693.1,660.5 693.2,661.6 693.3,660.9 693.3,661.3 693.4,662 693.5,661.2 693.6,661.2 693.7,660.8 693.8,661.1 693.9,661.1 694,661.7 694.1,660.8 694.2,660.8 694.3,661.2 694.4,661 694.5,661.1 694.6,660.4 694.7,662.1 694.8,661.2 694.8,661 694.9,661.2 695,660.9 695.1,660.8 695.2,661 695.3,661.7 695.4,660.9 695.5,660.6 695.6,662.1 695.7,661.1 695.8,661.3 695.9,661.1 696,661.4 696.1,661.8 696.2,661.6 696.3,661.7 696.3,660.8 696.4,662 696.5,661.8 696.6,661.3 696.7,660.8 696.8,661.5 696.9,661.3 697,661.5 697.1,661.9 697.2,661.6 697.3,661.1 697.4,661.5 697.5,660.6 697.6,661.2 697.7,661.2 697.8,662 697.8,660.9 697.9,661.1 698,660.6 698.1,661 698.2,661.5 698.3,661.6 698.4,661.7 698.5,660.8 698.6,660.9 698.7,661.3 698.8,661.2 698.9,661.3 699,660.4 699.1,661.1 699.2,660.7 699.3,661 699.3,660.7 699.4,661.3 699.5,661.7 699.6,661.5 699.7,661.8 699.8,661.8 699.9,662.1 700,660.9 700.1,661.2 700.2,660.8 700.3,661.3 700.4,661.8 700.5,661.2 700.6,661.3 700.7,661.3 700.8,661.4 700.8,661.3 700.9,661.3 701,661.2 701.1,660.9 701.2,660.9 701.3,661.5 701.4,661.2 701.5,661.1 701.6,661.5 701.7,661.1 701.8,661 701.9,661.5 702,660.9 702.1,661 702.2,661.5 702.3,661.2 702.3,661.9 702.4,661.5 702.5,661.4 702.6,660.9 702.7,660.4 702.8,661.8 702.9,660.9 703,660.6 703.1,660.6 703.2,661 703.3,661.1 703.4,662 703.5,661.5 703.6,661 703.7,661.3 703.8,660.9 703.8,661.1 703.9,661.8 704,661.3 704.1,660.8 704.2,661.9 704.3,661.6 704.4,661.9 704.5,660.9 704.6,661.1 704.7,661 704.8,661.2 704.9,661.7 705,661.3 705.1,661.1 705.2,662 705.3,661.6 705.4,661.5 705.4,661 705.5,661.1 705.6,660.4 705.7,661.7 705.8,660.9 705.9,661.9 706,661.2 706.1,661.5 706.2,661.3 706.3,661.2 706.4,661 706.5,661.9 706.6,661 706.7,661.7 706.8,661.3 706.9,660.9 706.9,660.9 707,661.2 707.1,661.4 707.2,661.7 707.3,660.9 707.4,660.6 707.5,661.6 707.6,661.1 707.7,661.1 707.8,660.9 707.9,660.9 708,661.3 708.1,660.8 708.2,660.5 708.3,661.3 708.4,661.4 708.4,660.9 708.5,661.2 708.6,661.8 708.7,660.8 708.8,660.6 708.9,661.1 709,661.5 709.1,661.2 709.2,660.9 709.3,661 709.4,661.2 709.5,661.1 709.6,660.6 709.7,661.3 709.8,661.5 709.9,661.9 709.9,660.7 710,660.8 710.1,661.2 710.2,660.7 710.3,661.4 710.4,661.2 710.5,660.6 710.6,661.6 710.7,661.5 710.8,661.6 710.9,661.1 711,661.1 711.1,660.5 711.2,661.1 711.3,660.6 711.4,661.5 711.4,661.2 711.5,660.5 711.6,661.1 711.7,661.3 711.8,661.5 711.9,661.4 712,661.4 712.1,661.2 712.2,661.6 712.3,661.8 712.4,661.4 712.5,661.6 712.6,661.4 712.7,661.3 712.8,660.7 712.9,661.4 712.9,661.8 713,661.3 713.1,661 713.2,661.4 713.3,661.4 713.4,661 713.5,661.5 713.6,660.5 713.7,661.5 713.8,661.3 713.9,661.7 714,661.2 714.1,660.4 714.2,661.7 714.3,661.2 714.4,661.5 714.4,660.6 714.5,661.9 714.6,661.5 714.7,661.2 714.8,661.8 714.9,661 715,661.2 715.1,661.4 715.2,661.1 715.3,661.4 715.4,661.5 715.5,661.1 715.6,660.8 715.7,661.3 715.8,661.2 715.9,661 715.9,661 716,661.2 716.1,661.2 716.2,661.4 716.3,661 716.4,661.8 716.5,660.8 716.6,655 716.7,642.3 716.8,633.6 716.9,642.6 717,655.5 717.1,660.6 717.2,661.2 717.3,661 717.4,660.9 717.4,660.8 717.5,661.4 717.6,661.3 717.7,661.4 717.8,660.8 717.9,661.6 718,661.5 718.1,661.1 718.2,660.8 718.3,661.2 718.4,661.6 718.5,660.7 718.6,660.8 718.7,661.5 718.8,661.1 718.9,661.3 719,660.9 719,661.5 719.1,660.5 719.2,661.4 719.3,661.9 719.4,661.1 719.5,661.2 719.6,661 719.7,661 719.8,661.6 719.9,662.1 720,660.7 720.1,660.8 720.2,661.2 720.3,662 720.4,661 720.5,661.4 720.5,661.4 720.6,661.3 720.7,661.7 720.8,661 720.9,661.3 721,661.1 721.1,660.9 721.2,660.7 721.3,660.1 721.4,660.4 721.5,659.1 721.6,659.8 721.7,659.2 721.8,660.1 721.9,660.5 722,660.7 722,661.1 722.1,661.7 722.2,660.6 722.3,661.7 722.4,661.2 722.5,661.2 722.6,661.1 722.7,661 722.8,661.2 722.9,661.5 723,660.7 723.1,661.1 723.2,661.6 723.3,661.1 723.4,661.5 723.5,661.1 723.5,661.6 723.6,660.9 723.7,660.5 723.8,660.9 723.9,661.3 724,661.4 724.1,661.7 724.2,661.4 724.3,660.9 724.4,660.9 724.5,661.1 724.6,661.5 724.7,661.4 724.8,661.1 724.9,661.4 725,661.6 725,661.5 725.1,661.6 725.2,661.6 725.3,660.9 725.4,661.2 725.5,660.9 725.6,662.1 725.7,661 725.8,661.4 725.9,661.2 726,661.5 726.1,661.2 726.2,660.7 726.3,661.7 726.4,661.6 726.5,661.6 726.5,661.3 726.6,661.1 726.7,661.8 726.8,661.2 726.9,660.9 727,661.5 727.1,661.4 727.2,661 727.3,661.5 727.4,661 727.5,661.7 727.6,661.4 727.7,661 727.8,661 727.9,661.3 728,661.7 728,661.5 728.1,660.8 728.2,661.3 728.3,661.1 728.4,660.8 728.5,661.6 728.6,661.2 728.7,661.3 728.8,661.3 728.9,660.8 729,661.2 729.1,660.7 729.2,662 729.3,661.7 729.4,660.9 729.5,661.4 729.5,661.1 729.6,661.1 729.7,661.7 729.8,660.8 729.9,661.4 730,661.8 730.1,661.3 730.2,661.5 730.3,660.8 730.4,660.9 730.5,661.4 730.6,660.9 730.7,660.9 730.8,661.7 730.9,661.6 731,660.7 731,661.3 731.1,661.3 731.2,661.4 731.3,661.1 731.4,660.6 731.5,661.2 731.6,661 731.7,661.2 731.8,661.6 731.9,660.7 732,660.9 732.1,661.5 732.2,660.7 732.3,661.1 732.4,661.3 732.5,660.7 732.6,661.2 732.6,660.9 732.7,661.7 732.8,661.4 732.9,661.3 733,661.4 733.1,660.7 733.2,661.5 733.3,661.7 733.4,661.6 733.5,661.2 733.6,661.3 733.7,661.7 733.8,661.2 733.9,661 734,660.5 734.1,661 734.1,661.3 734.2,660.7 734.3,660.5 734.4,660.9 734.5,660.9 734.6,661.2 734.7,661.7 734.8,660.5 734.9,660.9 735,660.5 735.1,660.5 735.2,661.2 735.3,661.9 735.4,660.9 735.5,661 735.6,661.8 735.6,661 735.7,661 735.8,661.7 735.9,661.4 736,661.3 736.1,661.4 736.2,661.4 736.3,662.1 736.4,661.4 736.5,660.9 736.6,661.8 736.7,661 736.8,661.1 736.9,661.2 737,661.3 737.1,661.1 737.1,660.7 737.2,661.3 737.3,660.5 737.4,660.9 737.5,661.1 737.6,661.4 737.7,661.3 737.8,661.3 737.9,660.9 738,660.6 738.1,662 738.2,661.1 738.3,661.7 738.4,661 738.5,660.9 738.6,661.2 738.6,661.2 738.7,661.2 738.8,661.1 738.9,661.4 739,661.9 739.1,661.4 739.2,661.1 739.3,661.9 739.4,660.9 739.5,661.5 739.6,661.7 739.7,660.5 739.8,660.9 739.9,661.1 740,662.1 740.1,661.2 740.1,661.4 740.2,660.7 740.3,661 740.4,660.4 740.5,661.3 740.6,660.9 740.7,660.9 740.8,661.9 740.9,661.5 741,661.2 741.1,660.9 741.2,661 741.3,661 741.4,661.5 741.5,661.1 741.6,661.1 741.6,661.3 741.7,661.4 741.8,661.3 741.9,661 742,660.9 742.1,660.8 742.2,660.8 742.3,661.9 742.4,661.3 742.5,661.8 742.6,661 742.7,661.1 742.8,661.6 742.9,661 743,661.4 743.1,660.9 743.1,661.6 743.2,661.1 743.3,661.8 743.4,661.1 743.5,661.2 743.6,661.7 743.7,660.7 743.8,661.9 743.9,661.3 744,661.3 744.1,661.7 744.2,661.3 744.3,661.4 744.4,661.7 744.5,661.3 744.6,660.6 744.7,661.5 744.7,660.9 744.8,661.1 744.9,661.8 745,661.1 745.1,660.5 745.2,661.7 745.3,661.8 745.4,661.7 745.5,660.6 745.6,661.9 745.7,660.4 745.8,660.9 745.9,661 746,661.6 746.1,661.1 746.2,660.7 746.2,661.6 746.3,661 746.4,661.5 746.5,660.9 746.6,661.3 746.7,660.8 746.8,660.5 746.9,660.5 747,661.7 747.1,661.6 747.2,661.8 747.3,661.3 747.4,661.1 747.5,661.6 747.6,661.3 747.7,661.4 747.7,661.5 747.8,661.6 747.9,661.2 748,661 748.1,660.4 748.2,661.4 748.3,660.9 748.4,660.7 748.5,661.4 748.6,661.1 748.7,661.5 748.8,661 748.9,660.4 749,660.4 749.1,661.6 749.2,660.8 749.2,661.4 749.3,661.5 749.4,661.5 749.5,661.5 749.6,661.1 749.7,661 749.8,661 749.9,660.9 750,660.9 750.1,660.8 750.2,661.2 750.3,661 750.4,660.9 750.5,661.2 750.6,661.5 750.7,661.6 750.7,660.7 750.8,660.7 750.9,661.4 751,661.3 751.1,661.6 751.2,661.3 751.3,661.4 751.4,660.8 751.5,661.5 751.6,661.7 751.7,661.7 751.8,661.9 751.9,661.5 752,661.5 752.1,660.6 752.2,661.4 752.2,661.1 752.3,661.6 752.4,661.9 752.5,661 752.6,661.8 752.7,661.2 752.8,661.6 752.9,661.4 753,660.7 753.1,660.9 753.2,661.2 753.3,660.5 753.4,661 753.5,660.9 753.6,661.7 753.7,661.1 753.7,661.7 753.8,660.8 753.9,661.6 754,661.4 754.1,661.5 754.2,661.5 754.3,661 754.4,661.1 754.5,660.7 754.6,661.6 754.7,662.1 754.8,661.1 754.9,660.9 755,661.6 755.1,661.8 755.2,661.8 755.2,661.3 755.3,661.2 755.4,661 755.5,661.5 755.6,661.3 755.7,661.8 755.8,661.3 755.9,662 756,661.1 756.1,661.7 756.2,661.9 756.3,660.5 756.4,661.3 756.5,661.3 756.6,661.9 756.7,661.9 756.7,661.5 756.8,660.9 756.9,661.3 757,660.9 757.1,661.7 757.2,661.2 757.3,661 757.4,661.2 757.5,660.4 757.6,661.8 757.7,661.4 757.8,661.5 757.9,661.2 758,660.9 758.1,660.9 758.2,660.5 758.3,660.8 758.3,660.9 758.4,660.9 758.5,661.4 758.6,661.5 758.7,661.1 758.8,661.5 758.9,660.9 759,661.2 759.1,661.4 759.2,661.2 759.3,661.2 759.4,661.4 759.5,661.6 759.6,661.4 759.7,661.1 759.8,661.1 759.8,661.3 759.9,661 760,660.5 760.1,660.4 760.2,661.1 760.3,661.4 760.4,661.6 760.5,661.6 760.6,661.4 760.7,661.4 760.8,660.9 760.9,661.7 761,661.1 761.1,661.1 761.2,661 761.3,661 761.3,660.7 761.4,661.6 761.5,660.8 761.6,661.2 761.7,661.6 761.8,661.2 761.9,661.5 762,661.6 762.1,661.2 762.2,661.5 762.3,661.2 762.4,661.3 762.5,661.6 762.6,661.2 762.7,660.9 762.8,661 762.8,661 762.9,660.8 763,661.2 763.1,661.7 763.2,661.2 763.3,661.3 763.4,661.2 763.5,661.6 763.6,661.3 763.7,662 763.8,661 763.9,660.8 764,661.6 764.1,660.6 764.2,661.5 764.3,660.5 764.3,660.7 764.4,660.9 764.5,661.8 764.6,662.1 764.7,661 764.8,661.3 764.9,661.5 765,662 765.1,661.5 765.2,661.2 765.3,661.9 765.4,661.4 765.5,660.9 765.6,660.7 765.7,660.8 765.8,661.7 765.8,661.8 765.9,661.4 766,660.9 766.1,661.4 766.2,661.2 766.3,661 766.4,660.9 766.5,661.1 766.6,661.6 766.7,661.3 766.8,661.7 766.9,661.5 767,661.2 767.1,661.6 767.2,660.5 767.3,661.3 767.3,661.1 767.4,661.3 767.5,661.4 767.6,661.6 767.7,661.7 767.8,660.8 767.9,660.9 768,661 768.1,660.4 768.2,661.2 768.3,661.6 768.4,661 768.5,660.8 768.6,661.3 768.7,661.5 768.8,661.4 768.8,660.6 768.9,661.3 769,660.9 769.1,661.3 769.2,660.8 769.3,660.6 769.4,661.1 769.5,660.7 769.6,661.3 769.7,661.8 769.8,661.1 769.9,661.6 770,661.2 770.1,661 770.2,660.9 770.3,661.4 770.3,660.7 770.4,661.1 770.5,662.1 770.6,660.6 770.7,661.7 770.8,661.5 770.9,661.2 771,661.1 771.1,661.1 771.2,661.1 771.3,661 771.4,661 771.5,661.6 771.6,661.8 771.7,661.5 771.8,660.7 771.9,661 771.9,661.1 772,661.4 772.1,661 772.2,661.3 772.3,661 772.4,660.4 772.5,661.1 772.6,660.9 772.7,660.9 772.8,661.3 772.9,661.8 773,661.1 773.1,661.7 773.2,661.6 773.3,660.9 773.4,660.9 773.4,661.1 773.5,661.4 773.6,661 773.7,660.8 773.8,660.7 773.9,661.1 774,661.1 774.1,661.4 774.2,661 774.3,661.5 774.4,660.7 774.5,661.2 774.6,661.3 774.7,661 774.8,661 774.9,661 774.9,661.2 775,660.8 775.1,661.4 775.2,661.1 775.3,661.3 775.4,660.8 775.5,661.7 775.6,661.1 775.7,661.5 775.8,661.3 775.9,660.7 776,661 776.1,661.7 776.2,661.2 776.3,660.6 776.4,660.3 776.4,660.5 776.5,660.7 776.6,660.7 776.7,660.8 776.8,661.1 776.9,661.5 777,661.2 777.1,660.4 777.2,661.4 777.3,661.4 777.4,661.5 777.5,661.4 777.6,661.7 777.7,660.9 777.8,661.3 777.9,661.6 777.9,660.9 778,661.3 778.1,661.4 778.2,661.3 778.3,661.1 778.4,661.6 778.5,661.1 778.6,661.1 778.7,661.9 778.8,661 778.9,661.1 779,661.3 779.1,661.7 779.2,661.1 779.3,661.8 779.4,661.5 779.4,660.7 779.5,660.6 779.6,661.2 779.7,661.4 779.8,661 779.9,661.8 780,661.3 780.1,661 780.2,661.6 780.3,660.9 780.4,661 780.5,661 780.6,660.7 780.7,661.1 780.8,660.8 780.9,661.5 780.9,661.5 781,661.5 781.1,660.4 781.2,661.1 781.3,660.8 781.4,661.2 781.5,661.6 781.6,661.6 781.7,661.1 781.8,661.9 781.9,661 782,660.9 782.1,660.8 782.2,660.9 782.3,661.3 782.4,662 782.4,660.5 782.5,661.3 782.6,661.4 782.7,660.7 782.8,661.4 782.9,660.7 783,661.5 783.1,661.2 783.2,660.4 783.3,661.8 783.4,660.7 783.5,660.7 783.6,661.5 783.7,661.2 783.8,661.5 783.9,660.6 784,660.7 784,661.9 784.1,660.8 784.2,661 784.3,660.4 784.4,661.2 784.5,661.1 784.6,660.8 784.7,661 784.8,661.5 784.9,660.9 785,660.7 785.1,660.7 785.2,660.3 785.3,661.5 785.4,661.2 785.5,661.4 785.5,660.9 785.6,661.1 785.7,660.5 785.8,661.2 785.9,661.4 786,660.7 786.1,661.5 786.2,660.7 786.3,660.9 786.4,660.8 786.5,660.8 786.6,660.5 786.7,660.7 786.8,661 786.9,661.9 787,661.4 787,661 787.1,661.1 787.2,661.3 787.3,661.1 787.4,660.4 787.5,661.8 787.6,661.7 787.7,660.8 787.8,660.3 787.9,660.9 788,661.4 788.1,661.1 788.2,660.4 788.3,661.6 788.4,660.8 788.5,660.8 788.5,660.7 788.6,661.3 788.7,661.5 788.8,660.5 788.9,661 789,661.7 789.1,660.3 789.2,661.2 789.3,660.6 789.4,661.3 789.5,660.8 789.6,661.2 789.7,660.5 789.8,661 789.9,660.3 790,661 790,661.3 790.1,660.5 790.2,660.6 790.3,661.2 790.4,660.7 790.5,660.9 790.6,660.9 790.7,660.5 790.8,661.1 790.9,661.3 791,661.1 791.1,661.2 791.2,661.4 791.3,660.9 791.4,660.7 791.5,660.4 791.5,660.4 791.6,661.6 791.7,660.8 791.8,660.9 791.9,660.9 792,660.8 792.1,661.4 792.2,661.1 792.3,661.4 792.4,660.3 792.5,661.6 792.6,661.3 792.7,661.2 792.8,660.1 792.9,661.7 793,661.1 793,660.9 793.1,660.2 793.2,660.5 793.3,660.7 793.4,660.7 793.5,660.8 793.6,660.5 793.7,661.4 793.8,660.6 793.9,661.3 794,660.8 794.1,660.6 794.2,660.9 794.3,660.4 794.4,661.1 794.5,660.1 794.5,661.5 794.6,661.1 794.7,661.4 794.8,660.8 794.9,660.2 795,660.8 795.1,661.2 795.2,661.2 795.3,661.5 795.4,660.1 795.5,661.1 795.6,660.8 795.7,661 795.8,661 795.9,660.8 796,661.3 796,660.7 796.1,660.8 796.2,660.4 796.3,661 796.4,660.6 796.5,661 796.6,660.9 796.7,660.9 796.8,661.1 796.9,661.3 797,661 797.1,660.5 797.2,660.3 797.3,660.4 797.4,660.6 797.5,661 797.6,660.7 797.6,660.9 797.7,661 797.8,660.9 797.9,660.3 798,661.2 798.1,660.2 798.2,661.2 798.3,660.6 798.4,660.3 798.5,660.7 798.6,660.2 798.7,661.5 798.8,660.7 798.9,660.9 799,660.9 799.1,660.9 799.1,660.8 799.2,660.6 799.3,661.3 799.4,660.6 799.5,660.5 799.6,661.2 799.7,661.5 799.8,661.3 799.9,660.4 800,661 800.1,660.8 800.2,661.3 800.3,660.8 800.4,661.2 800.5,660.8 800.6,660.7 800.6,661.1 800.7,660.9 800.8,660.4 800.9,661.4 801,660.3 801.1,660.6 801.2,660.8 801.3,660.9 801.4,660.5 801.5,661.4 801.6,660.8 801.7,660.2 801.8,661.3 801.9,660.9 802,660.8 802.1,660.6 802.1,659.9 802.2,660.8 802.3,661.1 802.4,661.3 802.5,661.1 802.6,660.3 802.7,660.8 802.8,661.1 802.9,660.1 803,661.1 803.1,660.9 803.2,660.7 803.3,660.3 803.4,660.8 803.5,660.7 803.6,660.6 803.6,660.6 803.7,660.4 803.8,660.4 803.9,660.5 804,660.5 804.1,660.8 804.2,660.5 804.3,660.1 804.4,660.5 804.5,660.9 804.6,661 804.7,660.4 804.8,661.1 804.9,660.6 805,661.3 805.1,660.2 805.1,660.7 805.2,660.4 805.3,661.5 805.4,661.2 805.5,660.5 805.6,661 805.7,660.7 805.8,659.9 805.9,660.7 806,660.7 806.1,660.5 806.2,660.3 806.3,660.2 806.4,661 806.5,660.6 806.6,660.9 806.6,660.9 806.7,660.9 806.8,660.5 806.9,661 807,660.5 807.1,660.9 807.2,660.8 807.3,660.8 807.4,660.9 807.5,660.9 807.6,660.9 807.7,661.6 807.8,661 807.9,661.4 808,660.8 808.1,660.4 808.1,660.6 808.2,661.2 808.3,660.2 808.4,661.1 808.5,660.9 808.6,661 808.7,661.4 808.8,660.7 808.9,661.5 809,660.7 809.1,660.3 809.2,660.5 809.3,660.8 809.4,660.9 809.5,661.7 809.6,660.6 809.7,660 809.7,660.5 809.8,660.1 809.9,660.8 810,660.8 810.1,660.6 810.2,660.7 810.3,660.9 810.4,661.2 810.5,660.8 810.6,660.5 810.7,660.3 810.8,660.8 810.9,660.7 811,660.9 811.1,660.1 811.2,660.6 811.2,660.8 811.3,660.9 811.4,660.4 811.5,660.7 811.6,661.1 811.7,661.5 811.8,660.1 811.9,661.1 812,660.5 812.1,660.8 812.2,660.8 812.3,661 812.4,660.9 812.5,660.5 812.6,660.6 812.7,660.5 812.7,661.4 812.8,661.3 812.9,660.1 813,661.7 813.1,660.4 813.2,661 813.3,660.9 813.4,661.2 813.5,661 813.6,660.3 813.7,661.4 813.8,661.1 813.9,660.9 814,660.2 814.1,661.2 814.2,661.2 814.2,661.2 814.3,660.9 814.4,661.4 814.5,661.2 814.6,661.3 814.7,661.2 814.8,661 814.9,661.1 815,660.7 815.1,661 815.2,660.8 815.3,660.7 815.4,660.8 815.5,661 815.6,660.9 815.7,660.9 815.7,661.4 815.8,660.6 815.9,660.2 816,660.3 816.1,660.7 816.2,660.8 816.3,660.6 816.4,661.2 816.5,660.9 816.6,660.9 816.7,660.8 816.8,660.3 816.9,660.2 817,660.6 817.1,660.4 817.2,660.3 817.2,660.9 817.3,660.8 817.4,660.2 817.5,660.7 817.6,660 817.7,660.5 817.8,660.1 817.9,660.8 818,660.2 818.1,660.2 818.2,660.5 818.3,660.4 818.4,659.6 818.5,659.7 818.6,659.6 818.7,657.5 818.7,657 818.8,657.6 818.9,658.7 819,659.4 819.1,659.3 819.2,659.7 819.3,660 819.4,660 819.5,659.9 819.6,659.5 819.7,659 819.8,658.8 819.9,658 820,657.1 820.1,655.6 820.2,650.1 820.2,638.1 820.3,615.7 820.4,580.1 820.5,531.6 820.6,478.3 820.7,435.6 820.8,419.5 820.9,436.1 821,477.3 821.1,529.2 821.2,578.1 821.3,614.8 821.4,636.4 821.5,647.8 821.6,653.8 821.7,655.5 821.7,657.1 821.8,657.1 821.9,657.9 822,658.2 822.1,657.6 822.2,658.1 822.3,658.6 822.4,658.7 822.5,658.2 822.6,659.2 822.7,658.6 822.8,658.9 822.9,658.7 823,658.3 823.1,659.2 823.2,658.4 823.3,658.3 823.3,659 823.4,658.9 823.5,659.1 823.6,659.3 823.7,658.4 823.8,658.8 823.9,658.9 824,659.1 824.1,658.6 824.2,659.1 824.3,658.8 824.4,659.5 824.5,659 824.6,659 824.7,658.6 824.8,658.9 824.8,659.2 824.9,658.8 825,659.4 825.1,658.8 825.2,659.5 825.3,658.4 825.4,658.9 825.5,658.8 825.6,659.4 825.7,658.3 825.8,659 825.9,659 826,659.1 826.1,659 826.2,658.9 826.3,659.6 826.3,659 826.4,659.2 826.5,659.1 826.6,659.1 826.7,659 826.8,659.8 826.9,658.5 827,659.1 827.1,659 827.2,658.8 827.3,659.6 827.4,659.1 827.5,659.2 827.6,659.3 827.7,658.4 827.8,658.7 827.8,658.6 827.9,658.1 828,658.8 828.1,658.6 828.2,659.5 828.3,658.2 828.4,658.8 828.5,659.3 828.6,659.2 828.7,658 828.8,658.1 828.9,658.5 829,658.9 829.1,659.3 829.2,658.5 829.3,658.5 829.3,658.5 829.4,658.6 829.5,658.3 829.6,658.2 829.7,659.1 829.8,658.7 829.9,658 830,658.5 830.1,659.1 830.2,658.4 830.3,658.6 830.4,658.8 830.5,658 830.6,658.5 830.7,658.4 830.8,658.2 830.8,657.9 830.9,658.3 831,658.2 831.1,658.4 831.2,658.1 831.3,658.2 831.4,658.3 831.5,658.3 831.6,658.2 831.7,658.7 831.8,657.8 831.9,658.5 832,658 832.1,658.2 832.2,657.4 832.3,658.1 832.3,658 832.4,658.4 832.5,658.2 832.6,657.5 832.7,657.8 832.8,657.8 832.9,658.3 833,657.8 833.1,657.3 833.2,658.6 833.3,658.4 833.4,657.8 833.5,658 833.6,657.8 833.7,657.4 833.8,658.2 833.8,657.2 833.9,656.9 834,656.1 834.1,654.4 834.2,655.9 834.3,656.9 834.4,657.3 834.5,658 834.6,657.9 834.7,657.9 834.8,657.1 834.9,658 835,657.8 835.1,656.5 835.2,653.2 835.3,648.9 835.3,646.5 835.4,648.1 835.5,653.5 835.6,656.9 835.7,657.7 835.8,657.7 835.9,657.4 836,657.6 836.1,657.3 836.2,658 836.3,657.3 836.4,657.4 836.5,658.1 836.6,657.2 836.7,657.5 836.8,657.4 836.9,657.1 836.9,658.2 837,657.2 837.1,656.8 837.2,657.8 837.3,657.1 837.4,656.8 837.5,654.4 837.6,649.3 837.7,642.5 837.8,638.6 837.9,641.2 838,649 838.1,654.9 838.2,656.5 838.3,657.4 838.4,657.1 838.4,657.3 838.5,657.2 838.6,657.7 838.7,656.8 838.8,657 838.9,657 839,657.4 839.1,657.8 839.2,657.9 839.3,656.7 839.4,657.7 839.5,657.4 839.6,657.1 839.7,656.8 839.8,657.3 839.9,657 839.9,657.1 840,657.7 840.1,657.4 840.2,656.6 840.3,656.6 840.4,657.3 840.5,657 840.6,656.9 840.7,656.5 840.8,656.5 840.9,657.1 841,657.1 841.1,656.9 841.2,656.8 841.3,657.3 841.4,657.2 841.4,656.4 841.5,656.8 841.6,657.5 841.7,656.6 841.8,657 841.9,657.2 842,657.2 842.1,657.1 842.2,657.2 842.3,656.7 842.4,657.1 842.5,656.6 842.6,657.7 842.7,657.3 842.8,656.9 842.9,657.2 842.9,657.5 843,657.2 843.1,656.7 843.2,656.9 843.3,656.7 843.4,658.2 843.5,657.3 843.6,658.1 843.7,657.6 843.8,657.3 843.9,658.2 844,658.1 844.1,658.2 844.2,658 844.3,658.5 844.4,658.6 844.4,658.6 844.5,658.8 844.6,659.3 844.7,658.9 844.8,659.4 844.9,659 845,659.4 845.1,659.9 845.2,659.6 845.3,658.9 845.4,659.2 845.5,658.8 845.6,660.1 845.7,660.3 845.8,659.3 845.9,660.8 845.9,660.8 846,660.5 846.1,660.2 846.2,660.9 846.3,660.8 846.4,659.9 846.5,659.8 846.6,659.8 846.7,660.4 846.8,660.7 846.9,661 847,660.7 847.1,661.2 847.2,661.1 847.3,661.6 847.4,661 847.4,661.1 847.5,661.8 847.6,661.3 847.7,661.7 847.8,661.2 847.9,660.3 848,660.7 848.1,661.3 848.2,660.8 848.3,661.1 848.4,661.4 848.5,661.2 848.6,661 848.7,661.4 848.8,661.6 848.9,661.3 849,661.3 849,661.2 849.1,661.2 849.2,661.3 849.3,660.8 849.4,660.9 849.5,660.6 849.6,661.4 849.7,661.3 849.8,660.6 849.9,661.6 850,660.9 850.1,660.9 850.2,660.7 850.3,660.5 850.4,660.7 850.5,660.5 850.5,660.8 850.6,661.1 850.7,661.6 850.8,661.6 850.9,660.9 851,660.6 851.1,660.7 851.2,661.5 851.3,662 851.4,661.2 851.5,660.9 851.6,661.8 851.7,661.3 851.8,660.5 851.9,660.6 852,661.8 852,661.3 852.1,660.7 852.2,661.1 852.3,660.3 852.4,661.5 852.5,660.7 852.6,660.8 852.7,660.9 852.8,660.9 852.9,661.2 853,661.1 853.1,661.1 853.2,661.3 853.3,660.8 853.4,661 853.5,660.5 853.5,660.8 853.6,661.2 853.7,661 853.8,661.2 853.9,661.5 854,660.8 854.1,660.6 854.2,661 854.3,660.2 854.4,661 854.5,661.2 854.6,660.6 854.7,661.1 854.8,660 854.9,660.1 855,657.3 855,654.7 855.1,652.6 855.2,654.6 855.3,657.1 855.4,658.9 855.5,660.3 855.6,660.9 855.7,661.2 855.8,660.1 855.9,661 856,660.9 856.1,660.7 856.2,660 856.3,660.8 856.4,659.9 856.5,658.3 856.5,655.9 856.6,655.1 856.7,656.2 856.8,658.8 856.9,659.7 857,660.9 857.1,660.5 857.2,661.1 857.3,661 857.4,660.3 857.5,660.1 857.6,660.4 857.7,660.6 857.8,661.3 857.9,661.3 858,660.9 858,660.9 858.1,661.2 858.2,659.9 858.3,659.2 858.4,658.4 858.5,657.7 858.6,657.2 858.7,657.7 858.8,659.1 858.9,660.5 859,660.6 859.1,660.6 859.2,660.3 859.3,660 859.4,660 859.5,661 859.5,661.1 859.6,659.8 859.7,660.3 859.8,660.8 859.9,660.3 860,660.8 860.1,661.1 860.2,660.6 860.3,660.6 860.4,661.1 860.5,660.2 860.6,660.9 860.7,660.5 860.8,660.6 860.9,660.9 861,660.3 861,660.4 861.1,661 861.2,660.5 861.3,661 861.4,660.2 861.5,661.2 861.6,660.6 861.7,661 861.8,661.2 861.9,660.4 862,660.8 862.1,660.7 862.2,661 862.3,661.1 862.4,660.7 862.5,660.9 862.6,660.8 862.6,661.1 862.7,660.7 862.8,661.3 862.9,660.3 863,661.1 863.1,660.9 863.2,661.2 863.3,661.7 863.4,660.5 863.5,660.2 863.6,660.4 863.7,661.2 863.8,661.7 863.9,660.3 864,660.8 864.1,661.3 864.1,661.2 864.2,660.7 864.3,660.8 864.4,661.7 864.5,660.3 864.6,661.1 864.7,661.2 864.8,660.9 864.9,660.8 865,660.6 865.1,661.8 865.2,660.7 865.3,661 865.4,661 865.5,661.2 865.6,661.1 865.6,661 865.7,661.4 865.8,660.9 865.9,660.8 866,660.8 866.1,660.7 866.2,661.1 866.3,660.8 866.4,662 866.5,660.8 866.6,661.6 866.7,661.1 866.8,661.3 866.9,661.4 867,661.2 867.1,660.9 867.1,661.4 867.2,661.5 867.3,661 867.4,660.9 867.5,660.6 867.6,661.4 867.7,661.4 867.8,660.8 867.9,661.3 868,661.2 868.1,661.1 868.2,661.4 868.3,660.6 868.4,660.8 868.5,661 868.6,661.2 868.6,660.8 868.7,661.5 868.8,660.8 868.9,660.8 869,661.5 869.1,661.8 869.2,662 869.3,661.3 869.4,660.9 869.5,661.1 869.6,661.6 869.7,661.1 869.8,661.1 869.9,660.9 870,661.6 870.1,661.4 870.1,661.5 870.2,661.3 870.3,661.5 870.4,660.8 870.5,661.5 870.6,660.8 870.7,661.6 870.8,660.6 870.9,661.9 871,662 871.1,661.4 871.2,660.8 871.3,661.1 871.4,661.7 871.5,661.4 871.6,661.2 871.6,660.8 871.7,661.9 871.8,661.5 871.9,661.3 872,660.9 872.1,661.1 872.2,661.3 872.3,661.6 872.4,661.5 872.5,661.3 872.6,661.6 872.7,661.1 872.8,661.4 872.9,660.5 873,661.7 873.1,662.1 873.1,661.1 873.2,661.2 873.3,661.4 873.4,661.4 873.5,661.5 873.6,660.8 873.7,661 873.8,661.4 873.9,661 874,661.4 874.1,661.5 874.2,661.3 874.3,661.8 874.4,661.4 874.5,660.7 874.6,661.6 874.7,661 874.7,660.7 874.8,661.1 874.9,661.9 875,661.6 875.1,661.6 875.2,661.5 875.3,661.8 875.4,661.1 875.5,661.7 875.6,661.7 875.7,661.6 875.8,661.3 875.9,661.5 876,661.7 876.1,661.9 876.2,661.3 876.2,661 876.3,661 876.4,661.7 876.5,661 876.6,661.2 876.7,661.4 876.8,661.4 876.9,661.6 877,662 877.1,660.9 877.2,661.2 877.3,661.2 877.4,661.5 877.5,661 877.6,661.5 877.7,660.8 877.7,661.3 877.8,661.8 877.9,661.2 878,662.1 878.1,661.1 878.2,661.3 878.3,661 878.4,660.8 878.5,661.3 878.6,661.7 878.7,661.6 878.8,660.5 878.9,661.5 879,660.9 879.1,661.2 879.2,660.8 879.2,661.3 879.3,661.1 879.4,660.8 879.5,661.4 879.6,661.3 879.7,660.8 879.8,661.3 879.9,660.9 880,661.2 880.1,661.6 880.2,662.1 880.3,660.7 880.4,660.8 880.5,660.9 880.6,660.8 880.7,661.4 880.7,661 880.8,661.5 880.9,661 881,661.2 881.1,660.9 881.2,660.7 881.3,661.8 881.4,661 881.5,661.2 881.6,661.1 881.7,660.7 881.8,660.7 881.9,661.4 882,662.1 882.1,661.1 882.2,661 882.2,661.6 882.3,661 882.4,660.7 882.5,661 882.6,661 882.7,661.4 882.8,660.8 882.9,661.1 883,661.3 883.1,660.8 883.2,661.2 883.3,661.5 883.4,662 883.5,661.5 883.6,661.3 883.7,660.8 883.7,660.4 883.8,661.7 883.9,661 884,661.9 884.1,661 884.2,660.8 884.3,661.8 884.4,660.7 884.5,661.1 884.6,661.2 884.7,662 884.8,661.2 884.9,661.7 885,661.5 885.1,660.8 885.2,661.4 885.2,660.9 885.3,661.8 885.4,661.5 885.5,661 885.6,661.6 885.7,660.8 885.8,661.6 885.9,661.8 886,660.9 886.1,661.2 886.2,661.8 886.3,660.7 886.4,661.4 886.5,660.6 886.6,661.1 886.7,660.6 886.7,661.6 886.8,661.3 886.9,660.8 887,660.9 887.1,661.5 887.2,661.3 887.3,661.6 887.4,661.3 887.5,661 887.6,661.2 887.7,661.4 887.8,661.2 887.9,661.4 888,661.9 888.1,660.7 888.2,661.9 888.3,661.6 888.3,661.5 888.4,661.7 888.5,660.9 888.6,661 888.7,661.5 888.8,661.3 888.9,661.7 889,661.9 889.1,661.2 889.2,661.4 889.3,661.1 889.4,660.7 889.5,661.2 889.6,661.5 889.7,661.5 889.8,661.7 889.8,660.8 889.9,661.6 890,661.1 890.1,661.7 890.2,661 890.3,661.9 890.4,661 890.5,661 890.6,661 890.7,661 890.8,662.1 890.9,660.8 891,661.5 891.1,661.6 891.2,660.9 891.3,661 891.3,661.5 891.4,660.6 891.5,660.6 891.6,661.4 891.7,661 891.8,662.1 891.9,661.4 892,661.3 892.1,661.3 892.2,661.3 892.3,661.2 892.4,661.8 892.5,661.3 892.6,661.3 892.7,661.5 892.8,661.7 892.8,660.9 892.9,660.6 893,661 893.1,662.1 893.2,661.9 893.3,661.1 893.4,661.1 893.5,661.5 893.6,661.4 893.7,661 893.8,660.9 893.9,660.8 894,661.2 894.1,660.7 894.2,661.7 894.3,661.3 894.3,661.7 894.4,660.9 894.5,661.4 894.6,661.7 894.7,661.8 894.8,661.3 894.9,660.9 895,661.2 895.1,661.4 895.2,661.6 895.3,661.1 895.4,661 895.5,660.6 895.6,661.7 895.7,661.4 895.8,661.8 895.8,660.8 895.9,661.2 896,661.2 896.1,661.6 896.2,661.8 896.3,661.5 896.4,661.5 896.5,660.6 896.6,661.1 896.7,661 896.8,661.4 896.9,660.6 897,661.4 897.1,661 897.2,661 897.3,661.9 897.3,661.7 897.4,661.3 897.5,660.7 897.6,661.2 897.7,661.7 897.8,661.3 897.9,661.3 898,661.6 898.1,660.9 898.2,661 898.3,661.4 898.4,661.3 898.5,661.2 898.6,661.2 898.7,660.7 898.8,660.6 898.8,661.3 898.9,660.5 899,661.1 899.1,661.2 899.2,660.8 899.3,660.1 899.4,658.3 899.5,656.1 899.6,657.5 899.7,660 899.8,661.1 899.9,661.6 900,661.1 900.1,661.7 900.2,661.2 900.3,661.1 900.3,660.9 900.4,661.6 900.5,661 900.6,660.8 900.7,661.6 900.8,661.5 900.9,661.3 901,661.2 901.1,661.1 901.2,661.3 901.3,661 901.4,660.9 901.5,661.4 901.6,662 901.7,661.4 901.8,661.8 901.9,661.6 901.9,661.9 902,660.9 902.1,661.2 902.2,661.1 902.3,661.1 902.4,661.5 902.5,660.8 902.6,660.7 902.7,661.5 902.8,661.5 902.9,660.6 903,661.7 903.1,661.1 903.2,661.1 903.3,661 903.4,661.7 903.4,661.9 903.5,661.2 903.6,661.8 903.7,661.5 903.8,661.4 903.9,661.8 904,661.7 904.1,661.3 904.2,661.4 904.3,661 904.4,661.1 904.5,661 904.6,661 904.7,661 904.8,661.4 904.9,661.5 904.9,660.5 905,661.4 905.1,661.4 905.2,661.8 905.3,661.3 905.4,661.4 905.5,661.6 905.6,661.4 905.7,661.3 905.8,662.1 905.9,661.9 906,661 906.1,660.5 906.2,661.6 906.3,660.9 906.4,661.2 906.4,661.6 906.5,661.3 906.6,661.6 906.7,661.5 906.8,661.2 906.9,661.5 907,661.8 907.1,660.5 907.2,661.8 907.3,661.2 907.4,660.8 907.5,661 907.6,661.4 907.7,661.1 907.8,661.4 907.9,661.1 907.9,660.5 908,661.4 908.1,661.5 908.2,661.4 908.3,661.9 908.4,661.3 908.5,661.2 908.6,661.3 908.7,661 908.8,661.6 908.9,661.6 909,661.2 909.1,661.6 909.2,661.3 909.3,661.5 909.4,661.5 909.4,660.8 909.5,661.4 909.6,661.9 909.7,660.6 909.8,661.6 909.9,660.7 910,661.2 910.1,661.1 910.2,661.9 910.3,661.6 910.4,661.7 910.5,661.2 910.6,661.8 910.7,660.9 910.8,661.7 910.9,661.2 910.9,660.6 911,661.2 911.1,661.9 911.2,661.1 911.3,661.5 911.4,661 911.5,660.9 911.6,661.2 911.7,661.4 911.8,661.3 911.9,660.8 912,661.7 912.1,661.7 912.2,661.1 912.3,661.1 912.4,661.1 912.4,661.8 912.5,662 912.6,661.4 912.7,660.9 912.8,661.8 912.9,661 913,661.1 913.1,660.9 913.2,661.1 913.3,661.5 913.4,661.9 913.5,661 913.6,661.2 913.7,662 913.8,661.5 913.9,661.4 914,661.1 914,661.2 914.1,661.1 914.2,661 914.3,660.9 914.4,661 914.5,660.7 914.6,661.3 914.7,661.8 914.8,661.1 914.9,661.8 915,661.1 915.1,660.8 915.2,661.8 915.3,661.3 915.4,661.4 915.5,661 915.5,661.7 915.6,661 915.7,661.3 915.8,661.1 915.9,661.9 916,661.5 916.1,661.5 916.2,661.4 916.3,661.1 916.4,661.7 916.5,660.9 916.6,661 916.7,661.5 916.8,661.4 916.9,661.5 917,661.3 917,661.7 917.1,661 917.2,660.8 917.3,661.5 917.4,661.7 917.5,661.2 917.6,661.1 917.7,661.2 917.8,660.4 917.9,660.6 918,661.3 918.1,661.2 918.2,660.8 918.3,661.3 918.4,661.4 918.5,661.8 918.5,661.7 918.6,660.8 918.7,661.8 918.8,661.2 918.9,660.9 919,660.8 919.1,661.2 919.2,660.5 919.3,661.3 919.4,661.9 919.5,661.2 919.6,661.4 919.7,660.9 919.8,661.1 919.9,661 920,661.1 920,660.9 920.1,660.8 920.2,661 920.3,661.3 920.4,661.2 920.5,661.3 920.6,661.5 920.7,660.8 920.8,661.4 920.9,661.5 921,661.1 921.1,661.6 921.2,661.4 921.3,662.1 921.4,660.8 921.5,661.3 921.5,660.8 921.6,660.8 921.7,661.7 921.8,661 921.9,661.1 922,662 922.1,661.5 922.2,661.3 922.3,661 922.4,661.2 922.5,662 922.6,661.7 922.7,660.6 922.8,662.1 922.9,660.9 923,660.9 923,661 923.1,660.8 923.2,661.1 923.3,661 923.4,660.9 923.5,661.1 923.6,661.4 923.7,660.9 923.8,660.8 923.9,660.4 924,661.4 924.1,661.4 924.2,661.6 924.3,660.5 924.4,661.2 924.5,661.2 924.5,661 924.6,661.4 924.7,661.4 924.8,660.9 924.9,661.2 925,661 925.1,661.4 925.2,660.9 925.3,661 925.4,661.2 925.5,661.2 925.6,660.8 925.7,660.8 925.8,661.1 925.9,661.4 926,662 926,661.3 926.1,661.2 926.2,660.9 926.3,661.4 926.4,661.2 926.5,661.5 926.6,661.4 926.7,661.3 926.8,661.5 926.9,660.6 927,661.8 927.1,661.5 927.2,660.8 927.3,661.3 927.4,661.9 927.5,661.8 927.6,661.2 927.6,661.4 927.7,661 927.8,661.9 927.9,661.4 928,660.7 928.1,661.3 928.2,661.5 928.3,661.4 928.4,661.9 928.5,660.8 928.6,661.4 928.7,661.6 928.8,662.1 928.9,660.5 929,660.5 929.1,661.9 929.1,660.8 929.2,661.3 929.3,661.1 929.4,660.7 929.5,661.3 929.6,661.4 929.7,661.8 929.8,661.6 929.9,661.8 930,661.1 930.1,661.4 930.2,661.2 930.3,661.4 930.4,662.1 930.5,661.1 930.6,660.8 930.6,660.8 930.7,661.3 930.8,661.2 930.9,662.1 931,661.4 931.1,661.6 931.2,661.1 931.3,659.8 931.4,656.7 931.5,647 931.6,631.5 931.7,613.9 931.8,606.6 931.9,614.7 932,630.9 932.1,647.6 932.1,656.5 932.2,659.3 932.3,661.4 932.4,660.9 932.5,661.6 932.6,661.1 932.7,661.2 932.8,661.5 932.9,661.5 933,661.6 933.1,661 933.2,660.6 933.3,661.3 933.4,661.5 933.5,661.2 933.6,659.8 933.6,652.8 933.7,642.1 933.8,628.6 933.9,621.8 934,627.7 934.1,642.1 934.2,653.7 934.3,659 934.4,661.4 934.5,661.9 934.6,662.1 934.7,661.9 934.8,661.6 934.9,661 935,661.9 935.1,661.1 935.1,660.6 935.2,661.5 935.3,660.5 935.4,661.3 935.5,661.5 935.6,660.9 935.7,661 935.8,661.3 935.9,661.9 936,660.6 936.1,662 936.2,661.3 936.3,661.3 936.4,661.4 936.5,661.4 936.6,660.8 936.6,661.1 936.7,661.5 936.8,661.2 936.9,661 937,660.9 937.1,661 937.2,660.8 937.3,661.3 937.4,660.7 937.5,660.9 937.6,661.6 937.7,660.9 937.8,661.2 937.9,660.8 938,661.5 938.1,660.8 938.1,661.3 938.2,661.5 938.3,661.2 938.4,661.6 938.5,661.6 938.6,661.1 938.7,661.6 938.8,661.1 938.9,660.6 939,661 939.1,661.3 939.2,661.8 939.3,661.3 939.4,661.6 939.5,661.3 939.6,660.9 939.6,660.9 939.7,661.3 939.8,661.4 939.9,661.2 940,661.8 940.1,661.4 940.2,661 940.3,661.4 940.4,661.7 940.5,660.9 940.6,660.4 940.7,661.5 940.8,661 940.9,661.3 941,661.6 941.1,661.8 941.2,661.5 941.2,661.6 941.3,660.9 941.4,661.2 941.5,661.8 941.6,661.1 941.7,661 941.8,661.4 941.9,661.4 942,661.4 942.1,661.2 942.2,660.9 942.3,661.5 942.4,661.3 942.5,660.4 942.6,661.2 942.7,660.8 942.7,661.9 942.8,661.8 942.9,660.7 943,660.7 943.1,661.2 943.2,661.2 943.3,660.9 943.4,661.6 943.5,660.9 943.6,660.7 943.7,661.4 943.8,661.6 943.9,661.1 944,662.1 944.1,661 944.2,661.4 944.2,661 944.3,661.2 944.4,660.9 944.5,662 944.6,662 944.7,661.5 944.8,660.7 944.9,661.2 945,661.4 945.1,661.2 945.2,661.5 945.3,661 945.4,660.9 945.5,661.7 945.6,660.6 945.7,660.9 945.7,661.4 945.8,661.2 945.9,661.2 946,661 946.1,660.8 946.2,660.6 946.3,661.8 946.4,662 946.5,661.1 946.6,661.5 946.7,660.7 946.8,661.3 946.9,661.5 947,661.5 947.1,661.3 947.2,661.6 947.2,661.4 947.3,661.2 947.4,661.6 947.5,661.8 947.6,661.4 947.7,661.2 947.8,661.2 947.9,661.9 948,661.9 948.1,661.7 948.2,661.7 948.3,661.4 948.4,661.4 948.5,661.5 948.6,661.9 948.7,662.1 948.7,661.3 948.8,661 948.9,661.4 949,661.8 949.1,661.6 949.2,660.9 949.3,661.5 949.4,661.3 949.5,660.9 949.6,662 949.7,661.4 949.8,661.2 949.9,661.4 950,661.3 950.1,661.7 950.2,661.4 950.2,661.2 950.3,661.4 950.4,661.2 950.5,661.7 950.6,661.5 950.7,661.2 950.8,661.7 950.9,661 951,662 951.1,661.7 951.2,660.9 951.3,660.7 951.4,661.3 951.5,661.2 951.6,661.2 951.7,661.3 951.7,661 951.8,661.2 951.9,660.6 952,660.4 952.1,661.7 952.2,662 952.3,661.4 952.4,661.7 952.5,660.6 952.6,661.7 952.7,661 952.8,661.2 952.9,661.1 953,661.4 953.1,661.5 953.2,661.3 953.3,661.1 953.3,661.2 953.4,661.3 953.5,660.4 953.6,661.5 953.7,661.4 953.8,661 953.9,661.9 954,662.1 954.1,661.6 954.2,661.2 954.3,661.7 954.4,661.4 954.5,661 954.6,661 954.7,660.8 954.8,661.4 954.8,661.3 954.9,661.5 955,661.8 955.1,661.1 955.2,661.2 955.3,661.5 955.4,661.3 955.5,661 955.6,661.6 955.7,661.4 955.8,660.9 955.9,661.6 956,660.9 956.1,661.2 956.2,661.1 956.3,661.3 956.3,660.8 956.4,662 956.5,661.1 956.6,660.9 956.7,662 956.8,661.4 956.9,661.2 957,661.4 957.1,661.2 957.2,661.7 957.3,660.9 957.4,661.2 957.5,660.9 957.6,661.1 957.7,661.3 957.8,660.6 957.8,661 957.9,660.4 958,661.9 958.1,660.7 958.2,661.5 958.3,660.9 958.4,661.2 958.5,661.4 958.6,661 958.7,660.9 958.8,660.7 958.9,660.8 959,658.5 959.1,654.7 959.2,650.3 959.3,646.3 959.3,644 959.4,645.8 959.5,649.8 959.6,654 959.7,658.2 959.8,659.9 959.9,660.5 960,661.3 960.1,660.6 960.2,659.9 960.3,658.2 960.4,655.6 960.5,652.1 960.6,649.1 960.7,647.2 960.8,648.6 960.8,652.5 960.9,655.8 961,658.9 961.1,659.7 961.2,661 961.3,661.6 961.4,660.5 961.5,659 961.6,657.8 961.7,655.3 961.8,654.9 961.9,655 962,657.5 962.1,659.1 962.2,660.8 962.3,660.3 962.3,660.9 962.4,660.5 962.5,661.8 962.6,662 962.7,661 962.8,661.5 962.9,660.7 963,660.9 963.1,661.1 963.2,661.3 963.3,660.9 963.4,660.6 963.5,661.3 963.6,662.1 963.7,661.6 963.8,661.5 963.8,660.9 963.9,661.1 964,661.2 964.1,660.5 964.2,661.4 964.3,661.1 964.4,660.9 964.5,660.9 964.6,659.8 964.7,656.9 964.8,652.5 964.9,647.7 965,645.6 965.1,647.7 965.2,651.9 965.3,657.7 965.3,660 965.4,661.4 965.5,660.8 965.6,660.4 965.7,661.1 965.8,662 965.9,661 966,661 966.1,661.4 966.2,661.1 966.3,661.2 966.4,661.2 966.5,661.3 966.6,660.9 966.7,661.1 966.8,661.5 966.9,660.9 966.9,661.2 967,661.4 967.1,661.3 967.2,660.9 967.3,661.7 967.4,661.3 967.5,661.1 967.6,661.1 967.7,661.2 967.8,660.7 967.9,662 968,662.1 968.1,661.8 968.2,661.6 968.3,660.7 968.4,660.9 968.4,661.5 968.5,661 968.6,661.4 968.7,661.9 968.8,661.3 968.9,661 969,660.9 969.1,661.4 969.2,661.5 969.3,661.8 969.4,661.6 969.5,661.2 969.6,661.6 969.7,661.8 969.8,660.6 969.9,661.7 969.9,660.9 970,661.6 970.1,661.5 970.2,660.5 970.3,660.9 970.4,661 970.5,661 970.6,661.6 970.7,661.7 970.8,661.1 970.9,661.4 971,661.2 971.1,661.1 971.2,661.4 971.3,660.4 971.4,661.5 971.4,661.1 971.5,662 971.6,661.3 971.7,661.3 971.8,661.4 971.9,661.3 972,661.4 972.1,661.3 972.2,661.4 972.3,661.1 972.4,661.1 972.5,661.3 972.6,661.7 972.7,661 972.8,661.5 972.9,661.7 972.9,661.3 973,661.6 973.1,661.4 973.2,661 973.3,661.4 973.4,661.2 973.5,660.9 973.6,660.9 973.7,661.3 973.8,661.5 973.9,661.2 974,661.3 974.1,661.6 974.2,661.7 974.3,661.8 974.4,661.1 974.4,661.3 974.5,660.7 974.6,661.1 974.7,662.1 974.8,661.6 974.9,661.3 975,661.2 975.1,660.4 975.2,661.8 975.3,661.5 975.4,660.9 975.5,661.2 975.6,661.4 975.7,660.4 975.8,660.9 975.9,661.7 975.9,661.4 976,661 976.1,661.7 976.2,661.6 976.3,660.9 976.4,661.9 976.5,661.3 976.6,661.4 976.7,660.8 976.8,661.7 976.9,660.9 977,661 977.1,662 977.2,660.4 977.3,661.1 977.4,661.2 977.4,661.5 977.5,661.6 977.6,661.4 977.7,661.4 977.8,661.3 977.9,661.4 978,661.2 978.1,661 978.2,661.4 978.3,661.6 978.4,662 978.5,661.4 978.6,661 978.7,661 978.8,661.4 978.9,662 979,661 979,661.8 979.1,660.7 979.2,660.8 979.3,661.2 979.4,661.5 979.5,661.1 979.6,661.2 979.7,661.4 979.8,661.5 979.9,661.9 980,661.4 980.1,661.7 980.2,661.3 980.3,661 980.4,660.5 980.5,661.1 980.5,661.2 980.6,661.9 980.7,661.1 980.8,661.1 980.9,660.7 981,661.6 981.1,661.8 981.2,660.5 981.3,661.3 981.4,661 981.5,661.5 981.6,661.7 981.7,661.3 981.8,661.7 981.9,661 982,661.1 982,661.5 982.1,660.9 982.2,660.6 982.3,661.8 982.4,661.8 982.5,660.9 982.6,661 982.7,661.9 982.8,661.3 982.9,660.9 983,660.7 983.1,660.9 983.2,661.5 983.3,660.9 983.4,660.7 983.5,661.5 983.5,661.4 983.6,661.1 983.7,660.7 983.8,661.5 983.9,661.8 984,661.7 984.1,661.1 984.2,661.5 984.3,661.4 984.4,661.5 984.5,660.7 984.6,661.4 984.7,661.5 984.8,661.8 984.9,660.4 985,660.8 985,660.6 985.1,661.5 985.2,661.9 985.3,661.8 985.4,660.6 985.5,661.6 985.6,661.2 985.7,661.2 985.8,661.4 985.9,661.1 986,661.6 986.1,661.6 986.2,661.5 986.3,661.8 986.4,660.7 986.5,660.8 986.5,660.8 986.6,661.3 986.7,661.4 986.8,660.8 986.9,661.2 987,660.9 987.1,661.8 987.2,661.3 987.3,661.7 987.4,661.2 987.5,661.8 987.6,661.4 987.7,661.2 987.8,661 987.9,662 988,660.8 988,661.7 988.1,661.3 988.2,660.8 988.3,660.8 988.4,661.5 988.5,660.8 988.6,662 988.7,661.5 988.8,660.8 988.9,660.9 989,661.4 989.1,661 989.2,661.3 989.3,661.9 989.4,660.9 989.5,661.4 989.5,661.1 989.6,661.5 989.7,660.5 989.8,661.3 989.9,661.5 990,661.2 990.1,661.5 990.2,661.3 990.3,661.9 990.4,660.4 990.5,661.9 990.6,660.9 990.7,661.7 990.8,661.3 990.9,661.4 991,660.9 991,661.5 991.1,661.2 991.2,661.6 991.3,660.9 991.4,660.7 991.5,661.5 991.6,661.1 991.7,661.7 991.8,661.5 991.9,660.8 992,661 992.1,661 992.2,661.7 992.3,661.1 992.4,661.2 992.5,661.3 992.6,661.5 992.6,661.8 992.7,661.7 992.8,661.5 992.9,660.5 993,661.1 993.1,661.1 993.2,661.3 993.3,661.5 993.4,661.6 993.5,661 993.6,660.8 993.7,661.1 993.8,661.2 993.9,661 994,660.7 994.1,660.8 994.1,661.5 994.2,661.8 994.3,661.4 994.4,660.6 994.5,661.2 994.6,661.2 994.7,661.7 994.8,661.2 994.9,661.6 995,661.4 995.1,660.9 995.2,661.1 995.3,661.4 995.4,661.2 995.5,660.5 995.6,661.2 995.6,661.7 995.7,661 995.8,662 995.9,660.9 996,660.5 996.1,661.5 996.2,661.6 996.3,661.9 996.4,661.1 996.5,661 996.6,661.7 996.7,661.1 996.8,661.8 996.9,660.8 997,661.4 997.1,662 997.1,660.9 997.2,661.2 997.3,662.1 997.4,660.5 997.5,661 997.6,661.9 997.7,661.8 997.8,661.8 997.9,661.6 998,660.9 998.1,660.9 998.2,661 998.3,661.2 998.4,661.3 998.5,661.3 998.6,661.3 998.6,660.9 998.7,661.9 998.8,661.2 998.9,661.3 999,660.7 999.1,660.6 999.2,661.8 999.3,661.3 999.4,661.6 999.5,660.9 999.6,661.4 999.7,661.1 999.8,661.6 999.9,661.7 1000,661.1 1000.1,661 1000.1,661.1 1000.2,661.5 1000.3,661.2 1000.4,661 1000.5,661.5 1000.6,661.3 1000.7,661.2 1000.8,660.8 1000.9,661.2 1001,661.6 1001.1,661.9 1001.2,661.8 1001.3,661.2 1001.4,661.1 1001.5,662 1001.6,661.7 1001.6,661.3 1001.7,661.1 1001.8,661.7 1001.9,661.2 1002,661.7 1002.1,660.6 1002.2,661 1002.3,661.5 1002.4,661 1002.5,661.3 1002.6,661.4 1002.7,661.7 1002.8,661.5"/>
<g stroke="#000000" stroke-width="1.8" fill="none" stroke-linecap="butt">
<path d="M590.5 380.9 V670.5 H1003.8"/>
<path stroke-width="1.5" d="M590.5 661.2h-6.5M590.5 626.3h-6.5M590.5 591.4h-6.5M590.5 556.4h-6.5M590.5 521.5h-6.5M590.5 486.6h-6.5M590.5 451.6h-6.5M590.5 416.7h-6.5M590.5 381.7h-6.5M590.5 643.8h-4M590.5 608.8h-4M590.5 573.9h-4M590.5 539h-4M590.5 504h-4M590.5 469.1h-4M590.5 434.1h-4M590.5 399.2h-4M640.1 670.5v6.5M702.6 670.5v6.5M765.2 670.5v6.5M827.7 670.5v6.5M890.2 670.5v6.5M952.8 670.5v6.5M608.8 670.5v4M671.4 670.5v4M733.9 670.5v4M796.4 670.5v4M859 670.5v4M921.5 670.5v4M984 670.5v4"/>
</g>
<g font-size="18" fill="#000000">
<text x="580" y="666" text-anchor="end" textLength="9.3" lengthAdjust="spacingAndGlyphs">0</text>
<text x="580" y="631" text-anchor="end" textLength="28" lengthAdjust="spacingAndGlyphs">300</text>
<text x="580" y="596.1" text-anchor="end" textLength="28" lengthAdjust="spacingAndGlyphs">600</text>
<text x="580" y="561.1" text-anchor="end" textLength="28" lengthAdjust="spacingAndGlyphs">900</text>
<text x="580" y="526.2" text-anchor="end" textLength="37.4" lengthAdjust="spacingAndGlyphs">1200</text>
<text x="580" y="491.2" text-anchor="end" textLength="37.4" lengthAdjust="spacingAndGlyphs">1500</text>
<text x="580" y="456.3" text-anchor="end" textLength="37.4" lengthAdjust="spacingAndGlyphs">1800</text>
<text x="580" y="421.4" text-anchor="end" textLength="37.4" lengthAdjust="spacingAndGlyphs">2100</text>
<text x="580" y="386.4" text-anchor="end" textLength="37.4" lengthAdjust="spacingAndGlyphs">2400</text>
<text x="640.1" y="693.3" text-anchor="middle" textLength="28" lengthAdjust="spacingAndGlyphs">300</text>
<text x="702.6" y="693.3" text-anchor="middle" textLength="28" lengthAdjust="spacingAndGlyphs">400</text>
<text x="765.2" y="693.3" text-anchor="middle" textLength="28" lengthAdjust="spacingAndGlyphs">500</text>
<text x="827.7" y="693.3" text-anchor="middle" textLength="28" lengthAdjust="spacingAndGlyphs">600</text>
<text x="890.2" y="693.3" text-anchor="middle" textLength="28" lengthAdjust="spacingAndGlyphs">700</text>
<text x="952.8" y="693.3" text-anchor="middle" textLength="28" lengthAdjust="spacingAndGlyphs">800</text>
</g>
<text x="718.2" y="718.4" font-size="22" textLength="157.4" lengthAdjust="spacingAndGlyphs">Wavelength (nm)</text>
<text transform="translate(528.8 622) rotate(-90)" font-size="22" textLength="162" lengthAdjust="spacingAndGlyphs">Intensity (Counts)</text>
<text transform="translate(723.3 629.5) rotate(-90)" font-size="19.3" textLength="122.5" lengthAdjust="spacingAndGlyphs">Ca I 422.67 nm</text>
<text transform="translate(799.9 543.3) rotate(-90)" font-size="19.3" textLength="125.3" lengthAdjust="spacingAndGlyphs">Na I 588.99 nm</text>
<text transform="translate(936 593.2) rotate(-90)" font-size="19.3" textLength="112.9" lengthAdjust="spacingAndGlyphs">K I 766.49 nm</text>
<text x="932.9" y="399.8" font-size="20.3" textLength="24.8" lengthAdjust="spacingAndGlyphs"><tspan font-size="22.5">(</tspan>d<tspan font-size="22.5">)</tspan></text>
<path d="M598 403.1H634.3" stroke="#ff0000" stroke-width="1.8"/>
<text x="637.8" y="408.1" font-size="19" textLength="222.2" lengthAdjust="spacingAndGlyphs">Blood Seurm + Filter Paper</text>
<path d="M804.6 459.5L812.8 440.5" stroke="#000000" stroke-width="1.7"/>
<path d="M815.5 434.3L814.4 442.9L810 441Z" fill="#000000"/>
</g>
</svg></body></html>
